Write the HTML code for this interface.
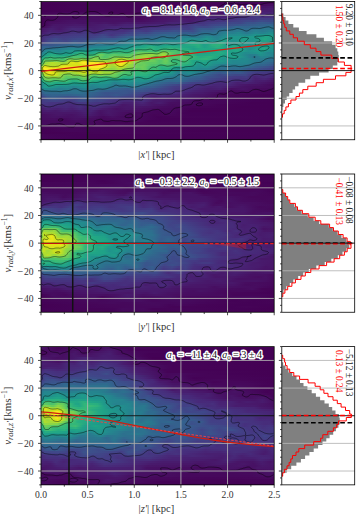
<!DOCTYPE html><html><head><meta charset="utf-8"><style>
html,body{margin:0;padding:0;background:#fff;width:357px;height:515px;overflow:hidden}
.hm{position:absolute;overflow:hidden;filter:blur(0.5px)}
.hm i{position:absolute;left:0;width:100%;height:2px;display:block}
svg{position:absolute;left:0;top:0}
text{font-family:"Liberation Serif",serif;fill:#222}
.tl{font-size:9.6px;fill:#333}
.lab{fill:#333}
.s{font-size:7px}
.ann{font-size:10.5px;fill:#111;stroke:#fff;stroke-width:3px;paint-order:stroke;stroke-linejoin:round}
</style></head><body>
<div class="hm" style="left:41.00px;top:1.50px;width:233.20px;height:138.25px">
<i style="top:0px;background:linear-gradient(90deg,#440154 0.5px,#440256 14.5px,#450457 44.5px,#440256 134.5px,#450457 179.5px,#460a5d 191.5px,#440256 206.5px,#46075a 233.5px)"></i>
<i style="top:2px;background:linear-gradient(90deg,#440154 0.5px,#450457 51.5px,#440256 132.5px,#450457 159.5px,#450457 170.5px,#450559 178.5px,#46085c 215.5px,#460b5e 222.5px,#470e61 229.5px,#471063 233.5px)"></i>
<i style="top:4px;background:linear-gradient(90deg,#440154 0.5px,#450559 52.5px,#440256 125.5px,#450457 153.5px,#470d60 208.5px,#481668 228.5px,#481769 233.5px)"></i>
<i style="top:6px;background:linear-gradient(90deg,#440154 0.5px,#450559 62.5px,#450457 72.5px,#440256 122.5px,#460a5d 180.5px,#470e61 196.5px,#471063 208.5px,#481b6d 228.5px,#481c6e 233.5px)"></i>
<i style="top:8px;background:linear-gradient(90deg,#440154 0.5px,#450559 62.5px,#46075a 131.5px,#46085c 152.5px,#46085c 168.5px,#470d60 175.5px,#471365 196.5px,#481467 210.5px,#481f70 220.5px,#481c6e 228.5px,#482374 233.5px)"></i>
<i style="top:10px;background:linear-gradient(90deg,#440256 0.5px,#450559 15.5px,#46085c 37.5px,#460a5d 49.5px,#46075a 67.5px,#450457 85.5px,#470d60 150.5px,#46085c 157.5px,#481467 174.5px,#471164 182.5px,#481668 193.5px,#482475 218.5px,#482173 226.5px,#482677 233.5px)"></i>
<i style="top:12px;background:linear-gradient(90deg,#450457 0.5px,#46075a 15.5px,#46085c 38.5px,#470d60 55.5px,#46075a 64.5px,#46085c 83.5px,#440256 88.5px,#460b5e 100.5px,#470e61 123.5px,#471063 146.5px,#481467 160.5px,#481a6c 173.5px,#481769 182.5px,#481b6d 192.5px,#482576 207.5px,#472d7b 216.5px,#482979 223.5px,#472f7d 231.5px,#472e7c 233.5px)"></i>
<i style="top:14px;background:linear-gradient(90deg,#450559 0.5px,#46075a 16.5px,#46085c 38.5px,#470d60 51.5px,#460a5d 70.5px,#460b5e 83.5px,#46075a 90.5px,#470d60 112.5px,#471365 120.5px,#481467 135.5px,#471164 146.5px,#482071 166.5px,#482173 185.5px,#46307e 208.5px,#443a83 215.5px,#472f7d 222.5px,#46327e 233.5px)"></i>
<i style="top:16px;background:linear-gradient(90deg,#440154 0.5px,#450559 8.5px,#460a5d 17.5px,#460b5e 32.5px,#470d60 39.5px,#470e61 50.5px,#471063 69.5px,#471063 79.5px,#46085c 98.5px,#470d60 106.5px,#471063 113.5px,#481467 126.5px,#481769 133.5px,#481b6d 140.5px,#481769 152.5px,#472a7a 167.5px,#472a7a 175.5px,#472a7a 185.5px,#443983 201.5px,#453781 212.5px,#433d84 218.5px,#433e85 233.5px)"></i>
<i style="top:18px;background:linear-gradient(90deg,#440154 0.5px,#460a5d 9.5px,#471164 28.5px,#471164 44.5px,#471164 51.5px,#471164 70.5px,#471063 94.5px,#470e61 100.5px,#481668 117.5px,#48186a 124.5px,#482071 139.5px,#481a6c 149.5px,#46307e 167.5px,#453781 185.5px,#414487 202.5px,#3f4788 207.5px,#414487 212.5px,#3e4c8a 220.5px,#3e4989 228.5px,#3d4e8a 233.5px)"></i>
<i style="top:20px;background:linear-gradient(90deg,#440154 0.5px,#470e61 8.5px,#481467 33.5px,#471164 42.5px,#481769 50.5px,#481467 57.5px,#481769 63.5px,#471365 72.5px,#481a6c 86.5px,#481668 101.5px,#481b6d 117.5px,#481b6d 122.5px,#482374 128.5px,#482576 140.5px,#482374 149.5px,#453581 161.5px,#3f4788 191.5px,#404688 199.5px,#3a538b 206.5px,#3b528b 212.5px,#375a8c 220.5px,#39558c 229.5px,#375b8d 233.5px)"></i>
<i style="top:22px;background:linear-gradient(90deg,#440256 0.5px,#481668 12.5px,#481769 26.5px,#481a6c 35.5px,#481769 49.5px,#482071 65.5px,#481a6c 74.5px,#482374 83.5px,#482475 107.5px,#482878 121.5px,#472c7a 130.5px,#46337f 144.5px,#424186 154.5px,#443983 162.5px,#404588 170.5px,#3d4d8a 187.5px,#38588c 203.5px,#33628d 222.5px,#31678e 229.5px,#34618d 233.5px)"></i>
<i style="top:24px;background:linear-gradient(90deg,#46075a 0.5px,#481a6c 11.5px,#481769 20.5px,#482071 30.5px,#481f70 42.5px,#481a6c 49.5px,#481f70 61.5px,#482374 68.5px,#482677 77.5px,#482677 85.5px,#482979 100.5px,#443a83 137.5px,#443a83 146.5px,#3e4989 155.5px,#3f4889 166.5px,#39558c 175.5px,#375b8d 189.5px,#30698e 195.5px,#33638d 205.5px,#31678e 212.5px,#30698e 220.5px,#2d718e 228.5px,#2f6b8e 233.5px)"></i>
<i style="top:26px;background:linear-gradient(90deg,#481467 0.5px,#481f70 10.5px,#481769 18.5px,#482878 31.5px,#482576 41.5px,#481c6e 53.5px,#482979 69.5px,#46307e 93.5px,#443983 112.5px,#433d84 126.5px,#414287 136.5px,#433d84 148.5px,#38598c 158.5px,#375a8c 163.5px,#38598c 169.5px,#33638d 176.5px,#2f6b8e 190.5px,#2c718e 198.5px,#30698e 204.5px,#2b758e 215.5px,#2a778e 222.5px,#2a778e 228.5px,#2c728e 233.5px)"></i>
<i style="top:28px;background:linear-gradient(90deg,#481769 0.5px,#482374 9.5px,#481d6f 19.5px,#472c7a 32.5px,#482677 39.5px,#46307e 45.5px,#482071 53.5px,#46307e 66.5px,#46307e 83.5px,#424086 96.5px,#443983 105.5px,#3f4889 114.5px,#3e4c8a 128.5px,#3b518b 133.5px,#3d4d8a 140.5px,#3d4e8a 146.5px,#3e4c8a 151.5px,#32658e 161.5px,#32648e 170.5px,#2b748e 182.5px,#29798e 194.5px,#287c8e 199.5px,#2d718e 205.5px,#27808e 214.5px,#297a8e 221.5px,#26828e 228.5px,#26818e 233.5px)"></i>
<i style="top:30px;background:linear-gradient(90deg,#481b6d 0.5px,#482878 8.5px,#482677 20.5px,#46337f 33.5px,#46327e 40.5px,#443a83 45.5px,#482979 53.5px,#443a83 64.5px,#453581 73.5px,#453882 82.5px,#414287 89.5px,#3e4a89 98.5px,#404688 105.5px,#3a548c 113.5px,#365d8d 130.5px,#365c8d 135.5px,#38598c 140.5px,#355e8d 145.5px,#38588c 152.5px,#2e6d8e 161.5px,#2e6e8e 172.5px,#26818e 184.5px,#277e8e 191.5px,#23888e 197.5px,#29798e 205.5px,#24878e 214.5px,#26818e 221.5px,#228d8d 230.5px,#228b8d 233.5px)"></i>
<i style="top:32px;background:linear-gradient(90deg,#482576 0.5px,#472c7a 5.5px,#46337f 16.5px,#453882 28.5px,#433e85 46.5px,#443a83 54.5px,#404688 61.5px,#423f85 66.5px,#463480 70.5px,#3d4e8a 86.5px,#3e4a89 92.5px,#39568c 99.5px,#38598c 109.5px,#31688e 123.5px,#32648e 132.5px,#2e6f8e 145.5px,#31688e 152.5px,#287c8e 165.5px,#2b748e 174.5px,#23898e 184.5px,#228d8d 199.5px,#24868e 205.5px,#1f948c 215.5px,#1f948c 223.5px,#1f968b 230.5px,#1f958b 233.5px)"></i>
<i style="top:34px;background:linear-gradient(90deg,#472c7a 0.5px,#463480 4.5px,#443983 10.5px,#433e85 15.5px,#443b84 21.5px,#414287 41.5px,#433e85 48.5px,#3d4e8a 63.5px,#424186 71.5px,#3b518b 79.5px,#355e8d 88.5px,#34618d 104.5px,#31678e 115.5px,#2c718e 122.5px,#2e6d8e 132.5px,#26828e 142.5px,#297a8e 155.5px,#26828e 161.5px,#228d8d 166.5px,#277f8e 175.5px,#20928c 186.5px,#1f968b 192.5px,#1f968b 200.5px,#1f9a8a 212.5px,#21a585 225.5px,#1f998a 233.5px)"></i>
<i style="top:36px;background:linear-gradient(90deg,#472d7b 0.5px,#443b84 5.5px,#3e4989 14.5px,#423f85 22.5px,#3e4989 36.5px,#3f4889 48.5px,#38588c 62.5px,#38598c 73.5px,#33628d 80.5px,#306a8e 86.5px,#2d708e 92.5px,#2d708e 109.5px,#29798e 123.5px,#2a778e 135.5px,#228b8d 142.5px,#21908d 151.5px,#23898e 158.5px,#1f978b 165.5px,#238a8d 171.5px,#25838e 176.5px,#1e9d89 185.5px,#1f958b 196.5px,#1fa188 203.5px,#1f968b 211.5px,#1e9d89 218.5px,#23a983 223.5px,#1f968b 233.5px)"></i>
<i style="top:38px;background:linear-gradient(90deg,#472e7c 0.5px,#404588 7.5px,#3d4d8a 14.5px,#414487 25.5px,#3a538b 33.5px,#3e4c8a 40.5px,#365d8d 50.5px,#34618d 63.5px,#30698e 75.5px,#2b758e 87.5px,#25858e 101.5px,#2c738e 109.5px,#277f8e 116.5px,#24878e 126.5px,#238a8d 140.5px,#1f9e89 151.5px,#1f978b 160.5px,#1f998a 166.5px,#228d8d 172.5px,#20a486 183.5px,#218e8d 190.5px,#20928c 195.5px,#1f9f88 201.5px,#20938c 208.5px,#1f968b 216.5px,#20a386 223.5px,#1f998a 233.5px)"></i>
<i style="top:40px;background:linear-gradient(90deg,#453781 0.5px,#3f4889 5.5px,#3b518b 12.5px,#3b518b 26.5px,#34608d 32.5px,#39568c 39.5px,#2f6c8e 49.5px,#2e6e8e 61.5px,#2f6b8e 72.5px,#287c8e 83.5px,#20928c 100.5px,#23888e 107.5px,#26828e 113.5px,#1f948c 124.5px,#20928c 136.5px,#1f998a 143.5px,#25ab82 151.5px,#21a685 158.5px,#1fa088 164.5px,#20a486 174.5px,#28ae80 180.5px,#20a386 184.5px,#20928c 188.5px,#1f948c 195.5px,#1e9c89 202.5px,#218f8d 209.5px,#1fa088 216.5px,#1f998a 233.5px)"></i>
<i style="top:42px;background:linear-gradient(90deg,#3d4e8a 0.5px,#39558c 4.5px,#39568c 10.5px,#306a8e 34.5px,#31688e 40.5px,#2c738e 49.5px,#29798e 63.5px,#287c8e 73.5px,#1f998a 98.5px,#20a386 107.5px,#1f9a8a 117.5px,#1fa187 126.5px,#1e9d89 133.5px,#27ad81 153.5px,#2ab07f 157.5px,#1fa088 162.5px,#20a386 166.5px,#2cb17e 171.5px,#2eb37c 178.5px,#1fa088 184.5px,#1f9a8a 188.5px,#1fa187 193.5px,#1e9b8a 200.5px,#218f8d 209.5px,#1e9d89 215.5px,#1f978b 223.5px,#20928c 233.5px)"></i>
<i style="top:44px;background:linear-gradient(90deg,#375b8d 0.5px,#32648e 3.5px,#34608d 8.5px,#2b758e 29.5px,#2d718e 38.5px,#26828e 52.5px,#218f8d 71.5px,#20938c 78.5px,#20928c 85.5px,#1fa287 96.5px,#21a685 102.5px,#2cb17e 110.5px,#21a585 119.5px,#26ad81 128.5px,#21a585 147.5px,#21a585 152.5px,#28ae80 157.5px,#1fa088 163.5px,#2db27d 176.5px,#1f9f88 186.5px,#25ac82 193.5px,#1f998a 201.5px,#228d8d 209.5px,#1f998a 217.5px,#1fa287 225.5px,#20928c 233.5px)"></i>
<i style="top:46px;background:linear-gradient(90deg,#375b8d 0.5px,#2c718e 4.5px,#23888e 32.5px,#25848e 42.5px,#20928c 52.5px,#21918c 65.5px,#1fa088 78.5px,#1f998a 84.5px,#28ae80 93.5px,#2eb37c 104.5px,#35b779 109.5px,#25ac82 115.5px,#2eb37c 120.5px,#35b779 125.5px,#32b67a 131.5px,#31b57b 135.5px,#28ae80 141.5px,#24aa83 147.5px,#1f9f88 152.5px,#22a884 158.5px,#21a585 172.5px,#24aa83 178.5px,#1e9d89 187.5px,#25ab82 195.5px,#1f9a8a 202.5px,#228b8d 209.5px,#1fa287 219.5px,#23a983 223.5px,#20938c 229.5px,#20928c 233.5px)"></i>
<i style="top:48px;background:linear-gradient(90deg,#32658e 0.5px,#25858e 4.5px,#218f8d 8.5px,#25838e 17.5px,#20928c 25.5px,#1f968b 32.5px,#1e9b8a 40.5px,#1f998a 49.5px,#21a685 67.5px,#2fb47c 78.5px,#28ae80 86.5px,#4cc26c 98.5px,#42be71 106.5px,#44bf70 110.5px,#37b878 114.5px,#42be71 117.5px,#63cb5f 121.5px,#65cb5e 123.5px,#4cc26c 129.5px,#48c16e 135.5px,#38b977 142.5px,#35b779 147.5px,#25ab82 152.5px,#1f9e89 163.5px,#21a685 174.5px,#24aa83 178.5px,#1f9f88 186.5px,#22a785 196.5px,#21918c 207.5px,#1e9c89 221.5px,#228b8d 229.5px,#218f8d 233.5px)"></i>
<i style="top:50px;background:linear-gradient(90deg,#2b758e 0.5px,#1f948c 4.5px,#1fa088 8.5px,#228d8d 18.5px,#1f998a 25.5px,#1f988b 30.5px,#23a983 35.5px,#2fb47c 40.5px,#20a486 48.5px,#23a983 53.5px,#3aba76 57.5px,#48c16e 60.5px,#35b779 67.5px,#42be71 73.5px,#3aba76 86.5px,#44bf70 90.5px,#63cb5f 96.5px,#69cd5b 101.5px,#67cc5c 111.5px,#63cb5f 115.5px,#8bd646 121.5px,#8ed645 123.5px,#75d054 127.5px,#5cc863 130.5px,#46c06f 136.5px,#3aba76 145.5px,#37b878 149.5px,#20a386 157.5px,#20a386 164.5px,#22a785 174.5px,#25ac82 179.5px,#1e9d89 191.5px,#1f998a 197.5px,#228b8d 204.5px,#21918c 214.5px,#1f978b 219.5px,#25848e 227.5px,#23888e 233.5px)"></i>
<i style="top:52px;background:linear-gradient(90deg,#26828e 0.5px,#1e9d89 4.5px,#27ad81 10.5px,#1fa187 25.5px,#25ac82 30.5px,#3aba76 37.5px,#35b779 44.5px,#37b878 52.5px,#42be71 54.5px,#63cb5f 57.5px,#6ccd5a 59.5px,#65cb5e 61.5px,#50c46a 64.5px,#52c569 68.5px,#5ec962 73.5px,#50c46a 78.5px,#56c667 85.5px,#58c765 88.5px,#77d153 95.5px,#95d840 108.5px,#95d840 111.5px,#84d44b 116.5px,#93d741 119.5px,#a0da39 121.5px,#9dd93b 123.5px,#5cc863 129.5px,#3fbc73 135.5px,#37b878 149.5px,#21a685 156.5px,#25ab82 172.5px,#23a983 178.5px,#1fa188 184.5px,#1f998a 196.5px,#277e8e 209.5px,#277f8e 214.5px,#21918c 219.5px,#25838e 231.5px,#26828e 233.5px)"></i>
<i style="top:54px;background:linear-gradient(90deg,#1f968b 0.5px,#21a685 2.5px,#29af7f 4.5px,#32b67a 10.5px,#2cb17e 16.5px,#2eb37c 24.5px,#4ec36b 32.5px,#4cc26c 37.5px,#46c06f 43.5px,#4cc26c 47.5px,#58c765 50.5px,#75d054 54.5px,#75d054 57.5px,#4ec36b 63.5px,#54c568 66.5px,#6ece58 71.5px,#75d054 75.5px,#6ccd5a 83.5px,#67cc5c 87.5px,#75d054 90.5px,#8ed645 94.5px,#95d840 99.5px,#a2da37 102.5px,#a0da39 105.5px,#7cd250 112.5px,#77d153 116.5px,#8bd646 121.5px,#84d44b 123.5px,#5cc863 127.5px,#50c46a 130.5px,#50c46a 136.5px,#5ac864 141.5px,#2eb37c 155.5px,#25ac82 159.5px,#2eb37c 168.5px,#21a685 176.5px,#1f998a 181.5px,#20a486 193.5px,#23898e 205.5px,#2b758e 212.5px,#297a8e 216.5px,#24868e 220.5px,#297b8e 233.5px)"></i>
<i style="top:56px;background:linear-gradient(90deg,#20a386 0.5px,#32b67a 2.5px,#42be71 3.5px,#3fbc73 10.5px,#46c06f 17.5px,#40bd72 21.5px,#48c16e 23.5px,#75d054 28.5px,#75d054 30.5px,#69cd5b 35.5px,#86d549 41.5px,#7cd250 45.5px,#77d153 47.5px,#7fd34e 50.5px,#8bd646 53.5px,#86d549 55.5px,#6ccd5a 59.5px,#65cb5e 62.5px,#6ece58 66.5px,#95d840 74.5px,#bddf26 79.5px,#b5de2b 82.5px,#9bd93c 87.5px,#8bd646 97.5px,#9bd93c 101.5px,#a0da39 103.5px,#9bd93c 105.5px,#70cf57 110.5px,#63cb5f 114.5px,#63cb5f 121.5px,#69cd5b 124.5px,#5cc863 127.5px,#48c16e 130.5px,#44bf70 134.5px,#4ec36b 138.5px,#5cc863 141.5px,#56c667 144.5px,#32b67a 150.5px,#2cb17e 156.5px,#31b57b 165.5px,#20a386 174.5px,#20938c 181.5px,#1f978b 194.5px,#228b8d 200.5px,#238a8d 206.5px,#29798e 214.5px,#287c8e 222.5px,#2e6e8e 228.5px,#2c738e 233.5px)"></i>
<i style="top:58px;background:linear-gradient(90deg,#26ad81 0.5px,#35b779 1.5px,#67cc5c 3.5px,#70cf57 4.5px,#77d153 11.5px,#7fd34e 14.5px,#77d153 17.5px,#69cd5b 20.5px,#69cd5b 22.5px,#75d054 24.5px,#b0dd2f 28.5px,#bade28 29.5px,#bddf26 31.5px,#addc30 34.5px,#b5de2b 37.5px,#dde318 41.5px,#e2e418 43.5px,#d8e219 45.5px,#bade28 49.5px,#a2da37 58.5px,#a2da37 63.5px,#93d741 67.5px,#a8db34 71.5px,#d5e21a 76.5px,#e5e419 78.5px,#ece51b 80.5px,#e7e419 82.5px,#c5e021 87.5px,#addc30 91.5px,#90d743 95.5px,#77d153 101.5px,#67cc5c 113.5px,#50c46a 118.5px,#54c568 120.5px,#67cc5c 123.5px,#67cc5c 125.5px,#63cb5f 126.5px,#3aba76 130.5px,#32b67a 133.5px,#3fbc73 139.5px,#46c06f 143.5px,#38b977 146.5px,#24aa83 150.5px,#1fa287 155.5px,#25ab82 162.5px,#1f978b 172.5px,#1f9a8a 180.5px,#23888e 191.5px,#23898e 203.5px,#26828e 210.5px,#2c718e 223.5px,#31688e 233.5px)"></i>
<i style="top:60px;background:linear-gradient(90deg,#34b679 0.5px,#65cb5e 2.5px,#84d44b 3.5px,#98d83e 5.5px,#b2dd2d 9.5px,#b8de29 11.5px,#9bd93c 22.5px,#a2da37 25.5px,#d5e21a 29.5px,#dfe318 31.5px,#d8e219 35.5px,#dde318 37.5px,#f4e61e 40.5px,#fde725 42.5px,#fde725 47.5px,#f8e621 49.5px,#fde725 59.5px,#f8e621 61.5px,#e2e418 63.5px,#c0df25 65.5px,#addc30 66.5px,#9bd93c 68.5px,#a0da39 70.5px,#c2df23 73.5px,#dde318 75.5px,#f1e51d 77.5px,#fbe723 79.5px,#fde725 80.5px,#f4e61e 82.5px,#dfe318 84.5px,#bade28 88.5px,#a2da37 91.5px,#7fd34e 95.5px,#70cf57 98.5px,#5cc863 108.5px,#5cc863 114.5px,#50c46a 118.5px,#65cb5e 124.5px,#54c568 128.5px,#44bf70 131.5px,#35b779 140.5px,#32b67a 146.5px,#21a585 152.5px,#1f998a 157.5px,#1fa187 164.5px,#1f958b 171.5px,#21908d 183.5px,#24878e 192.5px,#24868e 206.5px,#2c738e 216.5px,#355f8d 233.5px)"></i>
<i style="top:62px;background:linear-gradient(90deg,#56c667 0.5px,#aadc32 3.5px,#b0dd2f 4.5px,#b0dd2f 8.5px,#b5de2b 11.5px,#b0dd2f 16.5px,#d0e11c 21.5px,#d5e21a 25.5px,#d8e219 38.5px,#f1e51d 43.5px,#fde725 45.5px,#fde725 62.5px,#f8e621 63.5px,#e7e419 64.5px,#d5e21a 65.5px,#b8de29 67.5px,#a8db34 70.5px,#addc30 72.5px,#d8e219 76.5px,#ece51b 78.5px,#f1e51d 79.5px,#eae51a 81.5px,#d0e11c 83.5px,#b0dd2f 85.5px,#98d83e 88.5px,#8ed645 91.5px,#6ccd5a 95.5px,#65cb5e 98.5px,#6ccd5a 103.5px,#50c46a 110.5px,#4cc26c 115.5px,#3fbc73 119.5px,#4cc26c 126.5px,#3fbc73 132.5px,#28ae80 146.5px,#22a785 151.5px,#20928c 156.5px,#20928c 159.5px,#1f9f88 163.5px,#287d8e 181.5px,#277e8e 196.5px,#26818e 201.5px,#2d718e 210.5px,#32658e 215.5px,#32658e 222.5px,#3a548c 233.5px)"></i>
<i style="top:64px;background:linear-gradient(90deg,#93d741 0.5px,#d2e21b 2.5px,#efe51c 3.5px,#e5e419 5.5px,#d0e11c 8.5px,#cae11f 12.5px,#d8e219 17.5px,#efe51c 23.5px,#efe51c 26.5px,#e5e419 31.5px,#ece51b 34.5px,#e7e419 36.5px,#d2e21b 39.5px,#cde11d 41.5px,#d8e219 44.5px,#f1e51d 47.5px,#fde725 48.5px,#fde725 60.5px,#f8e621 61.5px,#eae51a 62.5px,#d2e21b 64.5px,#a2da37 70.5px,#9dd93b 73.5px,#c5e021 78.5px,#c5e021 80.5px,#addc30 83.5px,#93d741 86.5px,#8ed645 91.5px,#6ece58 95.5px,#69cd5b 97.5px,#6ece58 101.5px,#63cb5f 104.5px,#40bd72 110.5px,#3aba76 116.5px,#2ab07f 120.5px,#34b679 127.5px,#21a685 133.5px,#1fa188 142.5px,#21908d 155.5px,#228d8d 159.5px,#20928c 165.5px,#29798e 176.5px,#2d718e 181.5px,#2c728e 189.5px,#2d708e 201.5px,#38598c 218.5px,#3c508b 227.5px,#414487 233.5px)"></i>
<i style="top:66px;background:linear-gradient(90deg,#a8db34 0.5px,#cae11f 1.5px,#eae51a 2.5px,#fde725 3.5px,#f6e620 8.5px,#f1e51d 12.5px,#fde725 17.5px,#f4e61e 21.5px,#e7e419 26.5px,#eae51a 29.5px,#fde725 33.5px,#fde725 36.5px,#e5e419 40.5px,#d5e21a 46.5px,#dae319 48.5px,#ece51b 51.5px,#ece51b 54.5px,#e2e418 57.5px,#cae11f 60.5px,#a2da37 65.5px,#8bd646 70.5px,#93d741 73.5px,#a8db34 77.5px,#93d741 81.5px,#7fd34e 84.5px,#65cb5e 92.5px,#5ac864 95.5px,#5ec962 98.5px,#6ccd5a 101.5px,#65cb5e 104.5px,#40bd72 108.5px,#38b977 111.5px,#3fbc73 115.5px,#26ad81 121.5px,#28ae80 126.5px,#1e9d89 131.5px,#1f948c 135.5px,#1f948c 150.5px,#25858e 160.5px,#25858e 166.5px,#2f6c8e 179.5px,#2c718e 185.5px,#30698e 192.5px,#2e6d8e 197.5px,#38598c 207.5px,#414287 231.5px,#423f85 233.5px)"></i>
<i style="top:68px;background:linear-gradient(90deg,#77d153 0.5px,#bddf26 2.5px,#e2e418 3.5px,#ece51b 4.5px,#f6e620 8.5px,#e7e419 12.5px,#dfe318 15.5px,#dfe318 22.5px,#cae11f 27.5px,#d0e11c 31.5px,#dde318 36.5px,#e5e419 42.5px,#c8e020 48.5px,#dfe318 54.5px,#dae319 56.5px,#b2dd2d 60.5px,#98d83e 63.5px,#93d741 65.5px,#93d741 71.5px,#8ed645 77.5px,#58c765 84.5px,#40bd72 91.5px,#37b878 97.5px,#4ac16d 103.5px,#44bf70 105.5px,#2fb47c 109.5px,#31b57b 112.5px,#38b977 115.5px,#22a785 122.5px,#1fa088 129.5px,#228c8d 136.5px,#20928c 150.5px,#32658e 179.5px,#31688e 185.5px,#355e8d 190.5px,#31668e 197.5px,#3e4c8a 210.5px,#404688 220.5px,#424086 228.5px,#433e85 233.5px)"></i>
<i style="top:70px;background:linear-gradient(90deg,#5cc863 0.5px,#7ad151 1.5px,#c8e020 3.5px,#d8e219 4.5px,#ece51b 7.5px,#ece51b 9.5px,#dde318 12.5px,#b5de2b 18.5px,#a0da39 25.5px,#95d840 29.5px,#addc30 36.5px,#c8e020 42.5px,#c8e020 44.5px,#addc30 49.5px,#addc30 53.5px,#b2dd2d 56.5px,#a5db36 60.5px,#9bd93c 62.5px,#9dd93b 66.5px,#9dd93b 69.5px,#75d054 74.5px,#5ec962 79.5px,#4cc26c 83.5px,#48c16e 88.5px,#2fb47c 94.5px,#32b67a 102.5px,#2db27d 108.5px,#22a785 118.5px,#1e9c89 124.5px,#1f968b 130.5px,#26818e 136.5px,#26828e 141.5px,#228b8d 148.5px,#2d708e 164.5px,#355e8d 171.5px,#39568c 178.5px,#355e8d 185.5px,#39558c 191.5px,#39568c 199.5px,#433d84 213.5px,#46337f 233.5px)"></i>
<i style="top:72px;background:linear-gradient(90deg,#50c46a 0.5px,#86d549 2.5px,#a8db34 3.5px,#b5de2b 4.5px,#d5e21a 10.5px,#cae11f 14.5px,#b2dd2d 17.5px,#77d153 23.5px,#70cf57 26.5px,#7fd34e 30.5px,#89d548 34.5px,#95d840 39.5px,#a2da37 42.5px,#9bd93c 45.5px,#65cb5e 51.5px,#60ca60 54.5px,#7ad151 59.5px,#70cf57 65.5px,#70cf57 71.5px,#63cb5f 75.5px,#40bd72 81.5px,#3bbb75 84.5px,#42be71 89.5px,#2eb37c 94.5px,#2ab07f 105.5px,#1e9d89 115.5px,#21918c 124.5px,#23898e 131.5px,#2b758e 137.5px,#2a768e 141.5px,#26818e 147.5px,#306a8e 158.5px,#3e4989 178.5px,#3c4f8a 186.5px,#3f4788 194.5px,#3f4788 204.5px,#472d7b 213.5px,#472e7c 226.5px,#482878 233.5px)"></i>
<i style="top:74px;background:linear-gradient(90deg,#37b878 0.5px,#65cb5e 2.5px,#84d44b 3.5px,#8ed645 4.5px,#98d83e 8.5px,#9dd93b 16.5px,#90d743 19.5px,#69cd5b 23.5px,#5ec962 25.5px,#60ca60 28.5px,#67cc5c 31.5px,#5ec962 37.5px,#6ccd5a 40.5px,#77d153 42.5px,#75d054 44.5px,#4ec36b 49.5px,#40bd72 52.5px,#48c16e 57.5px,#4ac16d 60.5px,#42be71 65.5px,#50c46a 69.5px,#60ca60 72.5px,#60ca60 74.5px,#31b57b 80.5px,#28ae80 84.5px,#2ab07f 90.5px,#1fa287 96.5px,#25ab82 105.5px,#1f978b 114.5px,#27808e 126.5px,#2d708e 143.5px,#30698e 149.5px,#33628d 154.5px,#34618d 159.5px,#3b528b 165.5px,#3c4f8a 172.5px,#433e85 188.5px,#443983 199.5px,#433d84 205.5px,#482475 213.5px,#472d7b 224.5px,#482173 233.5px)"></i>
<i style="top:76px;background:linear-gradient(90deg,#27ad81 0.5px,#35b779 1.5px,#4ac16d 2.5px,#65cb5e 3.5px,#70cf57 4.5px,#77d153 7.5px,#73d056 9.5px,#65cb5e 12.5px,#6ccd5a 17.5px,#70cf57 19.5px,#65cb5e 22.5px,#4cc26c 26.5px,#42be71 32.5px,#44bf70 36.5px,#5ec962 42.5px,#5cc863 44.5px,#37b878 51.5px,#2fb47c 57.5px,#25ab82 69.5px,#27ad81 75.5px,#1fa187 82.5px,#20a386 90.5px,#20938c 97.5px,#1f9e89 105.5px,#2c738e 126.5px,#2e6d8e 140.5px,#355f8d 149.5px,#38598c 160.5px,#3e4989 169.5px,#453581 192.5px,#453581 206.5px,#482071 214.5px,#482677 223.5px,#48186a 233.5px)"></i>
<i style="top:78px;background:linear-gradient(90deg,#1fa088 0.5px,#23a983 1.5px,#3fbc73 3.5px,#52c569 6.5px,#54c568 8.5px,#38b977 14.5px,#3bbb75 17.5px,#46c06f 22.5px,#3dbc74 25.5px,#27ad81 31.5px,#2cb17e 36.5px,#3fbc73 41.5px,#25ac82 53.5px,#1f988b 67.5px,#228d8d 73.5px,#1f958b 84.5px,#21918c 97.5px,#21918c 103.5px,#2c728e 119.5px,#31688e 129.5px,#306a8e 137.5px,#38588c 149.5px,#46337f 180.5px,#46307e 189.5px,#472a7a 197.5px,#472f7d 204.5px,#481d6f 214.5px,#481c6e 223.5px,#471365 233.5px)"></i>
<i style="top:80px;background:linear-gradient(90deg,#23888e 0.5px,#20a386 3.5px,#2db27d 8.5px,#22a884 16.5px,#29af7f 25.5px,#1fa088 33.5px,#20a486 43.5px,#1f988b 52.5px,#1f978b 58.5px,#20938c 67.5px,#27808e 73.5px,#228c8d 81.5px,#23898e 100.5px,#2e6d8e 114.5px,#375b8d 129.5px,#365c8d 136.5px,#414287 150.5px,#433e85 161.5px,#482979 177.5px,#472d7b 187.5px,#481f70 196.5px,#482374 204.5px,#471063 230.5px,#471063 233.5px)"></i>
<i style="top:82px;background:linear-gradient(90deg,#27808e 0.5px,#1f988b 3.5px,#21a585 9.5px,#1e9b8a 20.5px,#20928c 33.5px,#1f958b 45.5px,#23888e 51.5px,#218f8d 60.5px,#24878e 68.5px,#2a778e 74.5px,#26828e 88.5px,#25838e 94.5px,#2e6f8e 106.5px,#38598c 121.5px,#3e4c8a 130.5px,#443a83 145.5px,#472d7b 157.5px,#472f7d 163.5px,#482677 173.5px,#482677 187.5px,#481a6c 198.5px,#481467 208.5px,#471365 218.5px,#460a5d 231.5px,#460b5e 233.5px)"></i>
<i style="top:84px;background:linear-gradient(90deg,#25848e 0.5px,#1e9b8a 3.5px,#1e9b8a 8.5px,#238a8d 19.5px,#228d8d 26.5px,#26828e 32.5px,#20928c 43.5px,#26828e 50.5px,#23898e 59.5px,#23898e 63.5px,#2c718e 73.5px,#2d708e 86.5px,#2a788e 92.5px,#33628d 104.5px,#365d8d 112.5px,#433d84 132.5px,#453781 142.5px,#482173 168.5px,#482475 179.5px,#481769 195.5px,#471365 203.5px,#471063 211.5px,#470d60 228.5px,#46085c 233.5px)"></i>
<i style="top:86px;background:linear-gradient(90deg,#2a768e 0.5px,#23898e 3.5px,#23898e 10.5px,#277e8e 19.5px,#25848e 26.5px,#2b758e 33.5px,#287c8e 38.5px,#25858e 44.5px,#2a768e 58.5px,#2a778e 63.5px,#31678e 72.5px,#375b8d 86.5px,#32658e 93.5px,#39568c 106.5px,#423f85 128.5px,#453882 134.5px,#453581 140.5px,#481d6f 166.5px,#482071 179.5px,#470e61 190.5px,#481467 202.5px,#460a5d 216.5px,#460b5e 227.5px,#46075a 233.5px)"></i>
<i style="top:88px;background:linear-gradient(90deg,#32658e 0.5px,#2b758e 4.5px,#2a788e 20.5px,#2c728e 32.5px,#2b758e 47.5px,#2f6c8e 54.5px,#34608d 60.5px,#39558c 86.5px,#3b528b 101.5px,#3f4889 113.5px,#414287 127.5px,#46307e 134.5px,#472a7a 145.5px,#482173 154.5px,#48186a 171.5px,#481467 182.5px,#46085c 190.5px,#470d60 204.5px,#46075a 217.5px,#450559 230.5px,#450457 233.5px)"></i>
<i style="top:90px;background:linear-gradient(90deg,#365c8d 0.5px,#306a8e 4.5px,#306a8e 15.5px,#2e6f8e 21.5px,#2f6c8e 27.5px,#2d718e 37.5px,#34618d 54.5px,#3a538b 64.5px,#39568c 83.5px,#424186 105.5px,#453781 112.5px,#443b84 119.5px,#453882 128.5px,#482979 138.5px,#481d6f 152.5px,#481a6c 160.5px,#471365 170.5px,#460b5e 181.5px,#46085c 192.5px,#450457 233.5px)"></i>
<i style="top:92px;background:linear-gradient(90deg,#3c508b 0.5px,#34608d 4.5px,#32648e 11.5px,#33638d 18.5px,#34618d 27.5px,#32658e 33.5px,#31678e 44.5px,#3b528b 66.5px,#38588c 75.5px,#424086 98.5px,#482576 110.5px,#472a7a 121.5px,#482576 135.5px,#481c6e 147.5px,#481769 153.5px,#481467 163.5px,#46075a 180.5px,#440154 233.5px)"></i>
<i style="top:94px;background:linear-gradient(90deg,#414287 0.5px,#39568c 5.5px,#355e8d 11.5px,#3b518b 26.5px,#3a548c 35.5px,#34608d 44.5px,#3c4f8a 58.5px,#3e4a89 68.5px,#3d4d8a 75.5px,#414487 83.5px,#424086 92.5px,#482475 106.5px,#481c6e 113.5px,#482374 121.5px,#481d6f 135.5px,#48186a 148.5px,#481467 155.5px,#450559 183.5px,#440256 206.5px,#440154 233.5px)"></i>
<i style="top:96px;background:linear-gradient(90deg,#443b84 0.5px,#3a538b 8.5px,#3a548c 13.5px,#404588 24.5px,#424186 34.5px,#3a548c 42.5px,#3e4c8a 51.5px,#404588 57.5px,#424086 65.5px,#46337f 79.5px,#46337f 97.5px,#482475 109.5px,#481a6c 115.5px,#481a6c 123.5px,#481467 132.5px,#481769 141.5px,#481467 149.5px,#46075a 166.5px,#440154 210.5px,#440154 233.5px)"></i>
<i style="top:98px;background:linear-gradient(90deg,#443983 0.5px,#423f85 4.5px,#414287 14.5px,#443b84 23.5px,#453781 29.5px,#3f4889 38.5px,#404588 48.5px,#423f85 55.5px,#424086 60.5px,#463480 68.5px,#482878 83.5px,#482878 95.5px,#472d7b 102.5px,#481a6c 112.5px,#481a6c 120.5px,#471063 136.5px,#471063 146.5px,#46085c 155.5px,#440256 213.5px,#440154 233.5px)"></i>
<i style="top:100px;background:linear-gradient(90deg,#453882 0.5px,#443a83 4.5px,#463480 9.5px,#463480 21.5px,#472c7a 28.5px,#453781 36.5px,#443b84 48.5px,#453581 55.5px,#472e7c 75.5px,#481f70 82.5px,#481f70 93.5px,#482576 101.5px,#481769 110.5px,#481d6f 118.5px,#470e61 129.5px,#470d60 143.5px,#46085c 157.5px,#440154 211.5px,#440154 233.5px)"></i>
<i style="top:102px;background:linear-gradient(90deg,#472d7b 0.5px,#463480 5.5px,#482979 31.5px,#472e7c 41.5px,#472e7c 59.5px,#482576 74.5px,#481668 81.5px,#481b6d 90.5px,#481f70 102.5px,#481467 113.5px,#471365 121.5px,#460b5e 131.5px,#470d60 138.5px,#46085c 148.5px,#46075a 163.5px,#440256 180.5px,#440154 233.5px)"></i>
<i style="top:104px;background:linear-gradient(90deg,#482173 0.5px,#472e7c 5.5px,#472a7a 12.5px,#482878 19.5px,#472a7a 25.5px,#482576 30.5px,#472e7c 38.5px,#482576 45.5px,#472e7c 53.5px,#482374 64.5px,#481d6f 70.5px,#481668 78.5px,#48186a 85.5px,#48186a 94.5px,#471365 110.5px,#470d60 120.5px,#450559 152.5px,#440154 201.5px,#440154 233.5px)"></i>
<i style="top:106px;background:linear-gradient(90deg,#481b6d 0.5px,#482576 6.5px,#482071 16.5px,#482576 24.5px,#482071 31.5px,#482979 38.5px,#482173 45.5px,#482878 52.5px,#481c6e 61.5px,#481769 70.5px,#471164 75.5px,#481769 86.5px,#470e61 110.5px,#460a5d 120.5px,#46085c 133.5px,#440256 152.5px,#440154 233.5px)"></i>
<i style="top:108px;background:linear-gradient(90deg,#48186a 0.5px,#481d6f 6.5px,#48186a 14.5px,#481f70 22.5px,#481a6c 33.5px,#482173 41.5px,#482374 50.5px,#471365 59.5px,#48186a 67.5px,#471365 78.5px,#470e61 102.5px,#450559 115.5px,#460b5e 125.5px,#440154 149.5px,#440154 233.5px)"></i>
<i style="top:110px;background:linear-gradient(90deg,#481467 0.5px,#481769 15.5px,#481769 35.5px,#482173 47.5px,#471164 59.5px,#48186a 67.5px,#470d60 83.5px,#46085c 102.5px,#450559 118.5px,#46085c 129.5px,#440256 143.5px,#440154 233.5px)"></i>
<i style="top:112px;background:linear-gradient(90deg,#470e61 0.5px,#481668 17.5px,#471164 30.5px,#481d6f 47.5px,#471063 60.5px,#481668 69.5px,#46075a 90.5px,#460b5e 97.5px,#450457 113.5px,#46075a 127.5px,#440256 150.5px,#440154 233.5px)"></i>
<i style="top:114px;background:linear-gradient(90deg,#470e61 0.5px,#471365 12.5px,#471063 26.5px,#481769 45.5px,#471063 54.5px,#460a5d 62.5px,#471063 71.5px,#460b5e 80.5px,#46075a 89.5px,#46085c 101.5px,#440256 117.5px,#450457 134.5px,#440154 233.5px)"></i>
<i style="top:116px;background:linear-gradient(90deg,#470d60 0.5px,#470e61 13.5px,#46085c 20.5px,#471164 34.5px,#470d60 53.5px,#46085c 61.5px,#470d60 80.5px,#440256 119.5px,#440154 233.5px)"></i>
<i style="top:118px;background:linear-gradient(90deg,#460a5d 0.5px,#460a5d 14.5px,#46085c 24.5px,#470d60 35.5px,#460b5e 48.5px,#46075a 61.5px,#46085c 95.5px,#440256 107.5px,#440154 233.5px)"></i>
<i style="top:120px;background:linear-gradient(90deg,#460b5e 0.5px,#460a5d 22.5px,#460b5e 42.5px,#460a5d 52.5px,#450457 64.5px,#450457 98.5px,#440154 233.5px)"></i>
<i style="top:122px;background:linear-gradient(90deg,#460a5d 0.5px,#46085c 24.5px,#460a5d 32.5px,#46085c 41.5px,#46075a 55.5px,#440256 67.5px,#46075a 77.5px,#440154 108.5px,#440154 233.5px)"></i>
<i style="top:124px;background:linear-gradient(90deg,#450457 0.5px,#46075a 24.5px,#450457 72.5px,#440154 233.5px)"></i>
<i style="top:126px;background:linear-gradient(90deg,#440154 0.5px,#450559 32.5px,#440154 204.5px,#440154 233.5px)"></i>
<i style="top:128px;background:linear-gradient(90deg,#440154 0.5px,#450559 29.5px,#440154 163.5px,#440154 233.5px)"></i>
<i style="top:130px;background:linear-gradient(90deg,#440154 0.5px,#450457 54.5px,#440154 233.5px)"></i>
<i style="top:132px;background:linear-gradient(90deg,#450457 0.5px,#440256 36.5px,#440154 233.5px)"></i>
<i style="top:134px;background:linear-gradient(90deg,#450559 0.5px,#440256 41.5px,#440154 233.5px)"></i>
<i style="top:136px;background:linear-gradient(90deg,#450457 0.5px,#440256 23.5px,#440154 233.5px)"></i>
<i style="top:138px;background:linear-gradient(90deg,#440256 0.5px,#440154 233.5px)"></i>
</div>
<div class="hm" style="left:41.00px;top:174.00px;width:233.20px;height:138.25px">
<i style="top:0px;background:linear-gradient(90deg,#440154 0.5px,#450457 118.5px,#440256 138.5px,#440154 233.5px)"></i>
<i style="top:2px;background:linear-gradient(90deg,#440154 0.5px,#450457 69.5px,#46075a 130.5px,#450457 145.5px,#440256 233.5px)"></i>
<i style="top:4px;background:linear-gradient(90deg,#440154 0.5px,#450457 51.5px,#450559 68.5px,#46085c 97.5px,#450559 106.5px,#450559 154.5px,#440256 196.5px,#450457 233.5px)"></i>
<i style="top:6px;background:linear-gradient(90deg,#440154 0.5px,#450559 51.5px,#440256 61.5px,#460a5d 81.5px,#46085c 99.5px,#46085c 145.5px,#46075a 153.5px,#440256 161.5px,#450457 233.5px)"></i>
<i style="top:8px;background:linear-gradient(90deg,#450457 0.5px,#46075a 48.5px,#450559 56.5px,#450457 64.5px,#470e61 94.5px,#46075a 108.5px,#46085c 118.5px,#450559 154.5px,#450457 173.5px,#440256 233.5px)"></i>
<i style="top:10px;background:linear-gradient(90deg,#450457 0.5px,#46085c 69.5px,#460a5d 86.5px,#470d60 93.5px,#46075a 109.5px,#46085c 119.5px,#46085c 131.5px,#46075a 153.5px,#440256 191.5px,#450457 227.5px,#440154 233.5px)"></i>
<i style="top:12px;background:linear-gradient(90deg,#450559 0.5px,#46075a 35.5px,#460a5d 59.5px,#470d60 78.5px,#46085c 85.5px,#471063 91.5px,#460a5d 109.5px,#46085c 120.5px,#460a5d 130.5px,#470d60 137.5px,#460a5d 145.5px,#46085c 151.5px,#46085c 162.5px,#450457 203.5px,#440256 229.5px,#440154 233.5px)"></i>
<i style="top:14px;background:linear-gradient(90deg,#450559 0.5px,#460a5d 31.5px,#460a5d 54.5px,#470d60 63.5px,#471164 78.5px,#460a5d 86.5px,#470e61 109.5px,#460b5e 131.5px,#470d60 137.5px,#46075a 144.5px,#460a5d 151.5px,#450457 159.5px,#46085c 167.5px,#450559 176.5px,#450559 197.5px,#450457 207.5px,#450457 223.5px,#440256 233.5px)"></i>
<i style="top:16px;background:linear-gradient(90deg,#460a5d 0.5px,#460a5d 30.5px,#471063 48.5px,#471164 55.5px,#481467 60.5px,#470d60 79.5px,#460b5e 87.5px,#471164 98.5px,#471164 111.5px,#460a5d 131.5px,#460b5e 153.5px,#450559 160.5px,#46085c 177.5px,#46075a 195.5px,#46075a 207.5px,#46085c 218.5px,#440256 231.5px,#450457 233.5px)"></i>
<i style="top:18px;background:linear-gradient(90deg,#470e61 0.5px,#460b5e 17.5px,#460a5d 27.5px,#481769 52.5px,#481769 60.5px,#471365 68.5px,#470e61 78.5px,#470d60 84.5px,#481a6c 94.5px,#481668 105.5px,#481668 114.5px,#470d60 122.5px,#471365 149.5px,#46075a 162.5px,#460a5d 188.5px,#46085c 206.5px,#460a5d 212.5px,#450457 233.5px)"></i>
<i style="top:20px;background:linear-gradient(90deg,#471164 0.5px,#471063 16.5px,#460b5e 24.5px,#481467 39.5px,#481c6e 54.5px,#481a6c 61.5px,#471164 82.5px,#481f70 92.5px,#48186a 105.5px,#48186a 114.5px,#471063 122.5px,#471365 131.5px,#471365 155.5px,#460b5e 163.5px,#460a5d 174.5px,#46085c 199.5px,#460a5d 211.5px,#46075a 220.5px,#450559 233.5px)"></i>
<i style="top:22px;background:linear-gradient(90deg,#471164 0.5px,#481467 7.5px,#471365 16.5px,#460b5e 22.5px,#481769 43.5px,#481a6c 50.5px,#482173 58.5px,#482071 63.5px,#48186a 76.5px,#482374 91.5px,#481a6c 108.5px,#471365 117.5px,#471365 140.5px,#471365 164.5px,#460a5d 174.5px,#470e61 190.5px,#46075a 209.5px,#46075a 223.5px,#46075a 233.5px)"></i>
<i style="top:24px;background:linear-gradient(90deg,#471164 0.5px,#481769 6.5px,#481769 16.5px,#471164 21.5px,#481467 30.5px,#481b6d 38.5px,#481b6d 53.5px,#482071 61.5px,#481d6f 72.5px,#482576 80.5px,#482173 98.5px,#481a6c 115.5px,#481467 142.5px,#471365 165.5px,#460b5e 179.5px,#471063 189.5px,#460a5d 202.5px,#46075a 222.5px,#46085c 233.5px)"></i>
<i style="top:26px;background:linear-gradient(90deg,#481668 0.5px,#481d6f 15.5px,#482071 22.5px,#482677 34.5px,#482677 39.5px,#481f70 45.5px,#482173 56.5px,#482374 71.5px,#472a7a 79.5px,#482576 92.5px,#482071 97.5px,#482677 111.5px,#481d6f 123.5px,#481d6f 133.5px,#481467 149.5px,#481467 165.5px,#46085c 180.5px,#471164 189.5px,#460b5e 201.5px,#46075a 233.5px)"></i>
<i style="top:28px;background:linear-gradient(90deg,#481a6c 0.5px,#482173 6.5px,#482878 17.5px,#472e7c 30.5px,#463480 37.5px,#472c7a 45.5px,#472e7c 52.5px,#482979 63.5px,#46307e 78.5px,#472e7c 93.5px,#482576 102.5px,#472c7a 109.5px,#481c6e 123.5px,#482374 132.5px,#481c6e 142.5px,#481769 148.5px,#481b6d 163.5px,#460a5d 175.5px,#470d60 184.5px,#471063 192.5px,#470d60 213.5px,#46075a 233.5px)"></i>
<i style="top:30px;background:linear-gradient(90deg,#481f70 0.5px,#46307e 14.5px,#472e7c 23.5px,#433d84 35.5px,#46327e 44.5px,#463480 57.5px,#46327e 68.5px,#453781 79.5px,#453581 94.5px,#482878 101.5px,#472e7c 109.5px,#482071 123.5px,#482475 132.5px,#481f70 144.5px,#481c6e 152.5px,#481f70 162.5px,#470e61 172.5px,#471063 189.5px,#471365 201.5px,#470d60 211.5px,#460a5d 233.5px)"></i>
<i style="top:32px;background:linear-gradient(90deg,#472d7b 0.5px,#453781 4.5px,#463480 15.5px,#472f7d 20.5px,#423f85 29.5px,#46307e 40.5px,#443983 53.5px,#443983 61.5px,#46327e 69.5px,#453882 78.5px,#433e85 90.5px,#472a7a 102.5px,#46327e 110.5px,#482374 121.5px,#482576 130.5px,#482374 138.5px,#482576 143.5px,#481a6c 150.5px,#481f70 158.5px,#481467 171.5px,#48186a 178.5px,#470d60 186.5px,#481668 200.5px,#46085c 218.5px,#460a5d 226.5px,#46085c 233.5px)"></i>
<i style="top:34px;background:linear-gradient(90deg,#423f85 0.5px,#3f4889 3.5px,#443b84 19.5px,#404688 27.5px,#453581 40.5px,#424086 59.5px,#453882 68.5px,#453781 80.5px,#423f85 89.5px,#453581 100.5px,#443983 110.5px,#482576 119.5px,#472f7d 130.5px,#482677 138.5px,#482878 145.5px,#48186a 160.5px,#48186a 175.5px,#481668 182.5px,#481668 202.5px,#460b5e 216.5px,#460a5d 223.5px,#46075a 231.5px,#46085c 233.5px)"></i>
<i style="top:36px;background:linear-gradient(90deg,#3e4989 0.5px,#3a538b 3.5px,#414287 13.5px,#423f85 18.5px,#404688 23.5px,#433d84 33.5px,#404588 46.5px,#424086 72.5px,#443983 81.5px,#433e85 93.5px,#423f85 110.5px,#472f7d 118.5px,#472f7d 132.5px,#472a7a 140.5px,#482979 148.5px,#481a6c 164.5px,#481769 203.5px,#470e61 212.5px,#460b5e 231.5px,#460a5d 233.5px)"></i>
<i style="top:38px;background:linear-gradient(90deg,#3e4c8a 0.5px,#38588c 3.5px,#39558c 11.5px,#3e4989 17.5px,#3d4e8a 23.5px,#424086 29.5px,#3e4989 37.5px,#3b518b 43.5px,#3f4889 57.5px,#39558c 64.5px,#424186 82.5px,#3e4c8a 101.5px,#424086 108.5px,#453781 122.5px,#472d7b 140.5px,#472d7b 148.5px,#481f70 166.5px,#481f70 175.5px,#481668 190.5px,#481668 202.5px,#470e61 211.5px,#471164 227.5px,#471063 233.5px)"></i>
<i style="top:40px;background:linear-gradient(90deg,#375a8c 0.5px,#32658e 3.5px,#34608d 12.5px,#38598c 18.5px,#355e8d 24.5px,#3a538b 33.5px,#365c8d 44.5px,#3e4a89 57.5px,#365d8d 64.5px,#3e4a89 82.5px,#3e4c8a 99.5px,#424186 109.5px,#423f85 121.5px,#443983 132.5px,#46327e 140.5px,#472f7d 147.5px,#482071 165.5px,#482677 171.5px,#481668 188.5px,#481668 203.5px,#481668 212.5px,#471164 233.5px)"></i>
<i style="top:42px;background:linear-gradient(90deg,#31668e 0.5px,#2c728e 3.5px,#2f6b8e 19.5px,#2c738e 27.5px,#31678e 35.5px,#365c8d 54.5px,#375a8c 58.5px,#33628d 64.5px,#38588c 76.5px,#3a538b 81.5px,#3c508b 85.5px,#38588c 91.5px,#3e4c8a 102.5px,#404688 121.5px,#453581 136.5px,#482576 159.5px,#482576 166.5px,#482979 173.5px,#481f70 185.5px,#481769 207.5px,#481a6c 216.5px,#470d60 229.5px,#470e61 233.5px)"></i>
<i style="top:44px;background:linear-gradient(90deg,#2a768e 0.5px,#24868e 3.5px,#24878e 9.5px,#297b8e 16.5px,#27808e 29.5px,#2e6f8e 47.5px,#30698e 55.5px,#33638d 73.5px,#30698e 79.5px,#375a8c 86.5px,#34618d 92.5px,#3b528b 99.5px,#3e4c8a 118.5px,#433e85 130.5px,#46307e 144.5px,#46307e 150.5px,#482677 173.5px,#482677 183.5px,#481b6d 211.5px,#460b5e 227.5px,#460b5e 233.5px)"></i>
<i style="top:46px;background:linear-gradient(90deg,#23888e 0.5px,#1f9a8a 2.5px,#1e9d89 6.5px,#25848e 14.5px,#228c8d 28.5px,#26828e 38.5px,#26818e 44.5px,#30698e 58.5px,#30698e 66.5px,#30698e 82.5px,#33638d 87.5px,#306a8e 92.5px,#38598c 99.5px,#3c508b 116.5px,#453882 145.5px,#472a7a 165.5px,#482173 171.5px,#472c7a 180.5px,#481a6c 215.5px,#481467 223.5px,#471063 233.5px)"></i>
<i style="top:48px;background:linear-gradient(90deg,#218f8d 0.5px,#1fa187 2.5px,#22a785 5.5px,#1e9b8a 10.5px,#20928c 16.5px,#1f948c 22.5px,#1e9b8a 27.5px,#23898e 35.5px,#228c8d 42.5px,#2d708e 57.5px,#2e6f8e 73.5px,#32648e 85.5px,#2f6b8e 92.5px,#365c8d 100.5px,#375a8c 111.5px,#414287 131.5px,#424186 142.5px,#472c7a 166.5px,#482475 172.5px,#472c7a 190.5px,#482173 199.5px,#481b6d 216.5px,#481668 232.5px,#481467 233.5px)"></i>
<i style="top:50px;background:linear-gradient(90deg,#1f988b 0.5px,#25ac82 2.5px,#2ab07f 6.5px,#1fa088 27.5px,#25858e 44.5px,#26818e 50.5px,#2a768e 56.5px,#277e8e 68.5px,#32658e 80.5px,#32658e 84.5px,#2d708e 90.5px,#365c8d 100.5px,#32658e 110.5px,#3c508b 122.5px,#414487 128.5px,#404688 134.5px,#3f4889 139.5px,#482979 169.5px,#472c7a 184.5px,#472c7a 191.5px,#481d6f 202.5px,#482173 210.5px,#481b6d 222.5px,#481769 233.5px)"></i>
<i style="top:52px;background:linear-gradient(90deg,#1fa188 0.5px,#25ab82 1.5px,#34b679 2.5px,#3fbc73 4.5px,#42be71 14.5px,#32b67a 18.5px,#23a983 22.5px,#1fa188 30.5px,#1f9f88 35.5px,#218e8d 40.5px,#20928c 47.5px,#287d8e 55.5px,#238a8d 67.5px,#2e6e8e 81.5px,#2d708e 86.5px,#2c728e 90.5px,#33638d 98.5px,#2f6c8e 110.5px,#365c8d 119.5px,#3e4989 126.5px,#404588 132.5px,#3e4c8a 138.5px,#443a83 156.5px,#46337f 164.5px,#472d7b 171.5px,#472d7b 178.5px,#472c7a 192.5px,#481f70 200.5px,#482173 215.5px,#481668 222.5px,#48186a 231.5px,#481769 233.5px)"></i>
<i style="top:54px;background:linear-gradient(90deg,#3aba76 0.5px,#50c46a 1.5px,#6ccd5a 2.5px,#75d054 3.5px,#6ece58 10.5px,#6ece58 14.5px,#60ca60 16.5px,#38b977 20.5px,#2cb17e 23.5px,#27ad81 34.5px,#1f9e89 38.5px,#1fa088 42.5px,#1fa187 46.5px,#24868e 55.5px,#228b8d 64.5px,#26828e 75.5px,#277f8e 80.5px,#2a778e 84.5px,#29798e 90.5px,#2f6c8e 97.5px,#2e6e8e 104.5px,#34618d 116.5px,#3c4f8a 124.5px,#404688 133.5px,#3f4889 144.5px,#433e85 155.5px,#453882 164.5px,#46327e 171.5px,#472e7c 178.5px,#472a7a 189.5px,#482878 195.5px,#482071 203.5px,#482576 214.5px,#471164 222.5px,#481668 233.5px)"></i>
<i style="top:56px;background:linear-gradient(90deg,#5ec962 0.5px,#98d83e 2.5px,#9dd93b 3.5px,#93d741 7.5px,#9bd93c 12.5px,#90d743 14.5px,#4ec36b 20.5px,#44bf70 22.5px,#46c06f 28.5px,#2fb47c 35.5px,#21a685 39.5px,#23a983 46.5px,#20938c 54.5px,#228d8d 62.5px,#25838e 68.5px,#23888e 78.5px,#26828e 88.5px,#2e6f8e 97.5px,#2e6f8e 110.5px,#365d8d 118.5px,#3f4889 134.5px,#3e4a89 146.5px,#443b84 158.5px,#46337f 169.5px,#453581 176.5px,#482677 187.5px,#472e7c 195.5px,#482071 203.5px,#482475 214.5px,#481668 223.5px,#481769 232.5px,#481a6c 233.5px)"></i>
<i style="top:58px;background:linear-gradient(90deg,#73d056 0.5px,#b2dd2d 2.5px,#b8de29 3.5px,#a8db34 7.5px,#addc30 11.5px,#a5db36 13.5px,#7fd34e 17.5px,#6ccd5a 20.5px,#69cd5b 26.5px,#46c06f 35.5px,#28ae80 40.5px,#22a884 48.5px,#1f958b 54.5px,#1f968b 62.5px,#228d8d 69.5px,#20928c 74.5px,#24878e 80.5px,#228d8d 86.5px,#2c738e 101.5px,#2c718e 110.5px,#355f8d 117.5px,#3d4e8a 135.5px,#3c4f8a 146.5px,#453882 161.5px,#46327e 169.5px,#453781 176.5px,#472a7a 190.5px,#482979 196.5px,#482071 203.5px,#482374 210.5px,#481b6d 220.5px,#481d6f 231.5px,#481f70 233.5px)"></i>
<i style="top:60px;background:linear-gradient(90deg,#73d056 0.5px,#bade28 2.5px,#c2df23 3.5px,#cae11f 6.5px,#dfe318 10.5px,#d0e11c 12.5px,#9bd93c 16.5px,#86d549 20.5px,#90d743 25.5px,#8bd646 27.5px,#3fbc73 37.5px,#2fb47c 41.5px,#2db27d 47.5px,#1fa088 52.5px,#1e9d89 57.5px,#1f9e89 62.5px,#21918c 69.5px,#1f968b 75.5px,#228d8d 81.5px,#21918c 88.5px,#277e8e 99.5px,#2c738e 104.5px,#2c728e 111.5px,#375a8c 121.5px,#3b518b 134.5px,#3b528b 145.5px,#404588 155.5px,#453882 162.5px,#453781 171.5px,#46337f 185.5px,#482576 196.5px,#482979 208.5px,#481b6d 219.5px,#482071 232.5px,#482071 233.5px)"></i>
<i style="top:62px;background:linear-gradient(90deg,#73d056 0.5px,#b5de2b 2.5px,#bade28 3.5px,#bade28 5.5px,#e2e418 8.5px,#f1e51d 10.5px,#e2e418 12.5px,#c2df23 14.5px,#a8db34 16.5px,#9dd93b 20.5px,#a5db36 26.5px,#9dd93b 28.5px,#63cb5f 33.5px,#4cc26c 36.5px,#3aba76 42.5px,#34b679 46.5px,#23a983 51.5px,#1fa188 63.5px,#21918c 69.5px,#21918c 86.5px,#2a788e 100.5px,#2f6c8e 113.5px,#365c8d 120.5px,#365d8d 127.5px,#39568c 136.5px,#433d84 162.5px,#463480 180.5px,#482878 194.5px,#472e7c 205.5px,#481f70 217.5px,#481c6e 222.5px,#481f70 229.5px,#481b6d 233.5px)"></i>
<i style="top:64px;background:linear-gradient(90deg,#89d548 0.5px,#cde11d 2.5px,#d0e11c 3.5px,#c5e021 5.5px,#d0e11c 7.5px,#e7e419 10.5px,#eae51a 11.5px,#d2e21b 14.5px,#c2df23 16.5px,#c0df25 21.5px,#a8db34 26.5px,#a5db36 29.5px,#98d83e 31.5px,#4cc26c 37.5px,#3bbb75 40.5px,#3dbc74 43.5px,#3fbc73 46.5px,#23a983 52.5px,#21a685 58.5px,#20a486 64.5px,#21908d 71.5px,#20938c 79.5px,#218e8d 85.5px,#297a8e 98.5px,#29798e 106.5px,#31688e 114.5px,#375a8c 120.5px,#33628d 127.5px,#3c4f8a 139.5px,#404588 144.5px,#3c508b 151.5px,#433e85 167.5px,#46307e 182.5px,#46307e 189.5px,#46307e 194.5px,#463480 200.5px,#482576 209.5px,#482374 216.5px,#481a6c 222.5px,#481d6f 233.5px)"></i>
<i style="top:66px;background:linear-gradient(90deg,#8ed645 0.5px,#b8de29 1.5px,#e2e418 2.5px,#ece51b 3.5px,#f6e620 9.5px,#dfe318 14.5px,#dae319 16.5px,#dfe318 19.5px,#d5e21a 21.5px,#a0da39 26.5px,#a0da39 31.5px,#90d743 33.5px,#58c765 37.5px,#46c06f 39.5px,#42be71 42.5px,#56c667 46.5px,#50c46a 48.5px,#2eb37c 53.5px,#22a785 60.5px,#1fa188 67.5px,#1f968b 73.5px,#1f988b 80.5px,#27808e 87.5px,#29798e 96.5px,#26828e 105.5px,#2c728e 113.5px,#365d8d 118.5px,#355e8d 122.5px,#32648e 127.5px,#3b528b 137.5px,#424186 142.5px,#3e4c8a 147.5px,#3b528b 151.5px,#443a83 171.5px,#443983 183.5px,#46337f 199.5px,#482374 207.5px,#482071 214.5px,#481b6d 221.5px,#481d6f 233.5px)"></i>
<i style="top:68px;background:linear-gradient(90deg,#77d153 0.5px,#a2da37 1.5px,#d5e21a 2.5px,#ece51b 3.5px,#fde725 5.5px,#fde725 8.5px,#e2e418 12.5px,#dde318 14.5px,#e5e419 18.5px,#d5e21a 21.5px,#95d840 27.5px,#73d056 33.5px,#50c46a 38.5px,#46c06f 42.5px,#46c06f 47.5px,#24aa83 56.5px,#24aa83 62.5px,#22a884 67.5px,#1f9f88 73.5px,#1f988b 82.5px,#287d8e 92.5px,#277e8e 103.5px,#277e8e 110.5px,#355e8d 120.5px,#355e8d 134.5px,#3f4788 141.5px,#3d4d8a 150.5px,#414287 164.5px,#453781 171.5px,#443983 180.5px,#443983 186.5px,#482071 205.5px,#482173 214.5px,#481b6d 233.5px)"></i>
<i style="top:70px;background:linear-gradient(90deg,#70cf57 0.5px,#98d83e 1.5px,#c8e020 2.5px,#dae319 3.5px,#e7e419 6.5px,#dfe318 15.5px,#e5e419 19.5px,#d0e11c 23.5px,#7fd34e 31.5px,#69cd5b 34.5px,#50c46a 40.5px,#37b878 44.5px,#29af7f 52.5px,#20a486 57.5px,#25ac82 64.5px,#1f988b 73.5px,#1f968b 80.5px,#20928c 87.5px,#287c8e 96.5px,#287c8e 107.5px,#2a778e 111.5px,#2f6b8e 118.5px,#355f8d 128.5px,#33628d 134.5px,#3c4f8a 142.5px,#404688 158.5px,#414487 164.5px,#472f7d 176.5px,#443a83 184.5px,#482576 196.5px,#481d6f 206.5px,#482576 214.5px,#481d6f 227.5px,#481f70 233.5px)"></i>
<i style="top:72px;background:linear-gradient(90deg,#70cf57 0.5px,#bddf26 2.5px,#c8e020 3.5px,#d5e21a 8.5px,#dde318 11.5px,#d5e21a 17.5px,#d5e21a 19.5px,#c0df25 23.5px,#90d743 29.5px,#6ece58 34.5px,#67cc5c 38.5px,#56c667 40.5px,#38b977 43.5px,#2fb47c 45.5px,#2fb47c 50.5px,#24aa83 55.5px,#27ad81 61.5px,#1e9d89 67.5px,#218e8d 79.5px,#26828e 95.5px,#297a8e 108.5px,#2e6e8e 117.5px,#31688e 123.5px,#355e8d 129.5px,#355f8d 137.5px,#3f4788 149.5px,#414487 160.5px,#424086 165.5px,#46327e 177.5px,#443983 184.5px,#482979 195.5px,#481c6e 207.5px,#482979 216.5px,#481d6f 225.5px,#482071 233.5px)"></i>
<i style="top:74px;background:linear-gradient(90deg,#84d44b 0.5px,#c8e020 2.5px,#cae11f 3.5px,#bddf26 5.5px,#c2df23 11.5px,#bade28 15.5px,#c2df23 18.5px,#b5de2b 21.5px,#95d840 25.5px,#86d549 30.5px,#63cb5f 35.5px,#50c46a 40.5px,#35b779 44.5px,#2db27d 51.5px,#22a785 56.5px,#24aa83 61.5px,#1f978b 67.5px,#1f998a 76.5px,#23898e 85.5px,#287d8e 102.5px,#32658e 122.5px,#39568c 132.5px,#355e8d 140.5px,#3f4788 148.5px,#414287 159.5px,#453581 169.5px,#453781 184.5px,#472e7c 191.5px,#472c7a 198.5px,#482173 208.5px,#482878 217.5px,#482071 226.5px,#482173 233.5px)"></i>
<i style="top:76px;background:linear-gradient(90deg,#8bd646 0.5px,#c5e021 2.5px,#c0df25 3.5px,#a8db34 5.5px,#a5db36 7.5px,#c8e020 12.5px,#d0e11c 18.5px,#c0df25 20.5px,#9bd93c 23.5px,#86d549 26.5px,#77d153 29.5px,#46c06f 34.5px,#3bbb75 37.5px,#37b878 42.5px,#21a685 55.5px,#1fa188 63.5px,#20938c 68.5px,#1e9d89 75.5px,#25848e 86.5px,#27808e 94.5px,#297a8e 103.5px,#2f6b8e 112.5px,#31688e 121.5px,#31678e 125.5px,#3b518b 131.5px,#3a548c 135.5px,#365d8d 141.5px,#3f4889 149.5px,#404588 157.5px,#453581 168.5px,#472f7d 184.5px,#472d7b 189.5px,#46337f 194.5px,#482979 202.5px,#472c7a 209.5px,#482173 233.5px)"></i>
<i style="top:78px;background:linear-gradient(90deg,#6ece58 0.5px,#addc30 2.5px,#b2dd2d 3.5px,#aadc32 6.5px,#cde11d 16.5px,#cde11d 18.5px,#89d548 25.5px,#6ccd5a 28.5px,#3bbb75 32.5px,#2cb17e 35.5px,#29af7f 42.5px,#21a685 49.5px,#1fa287 63.5px,#1f998a 69.5px,#1f948c 76.5px,#297b8e 86.5px,#277e8e 98.5px,#33628d 118.5px,#34618d 125.5px,#3d4e8a 131.5px,#38588c 141.5px,#404688 152.5px,#463480 173.5px,#482878 181.5px,#472e7c 190.5px,#46307e 197.5px,#472a7a 203.5px,#472a7a 210.5px,#482374 228.5px,#481d6f 233.5px)"></i>
<i style="top:80px;background:linear-gradient(90deg,#56c667 0.5px,#75d054 1.5px,#9bd93c 2.5px,#a8db34 3.5px,#b8de29 6.5px,#b0dd2f 9.5px,#a0da39 11.5px,#9bd93c 14.5px,#addc30 18.5px,#9dd93b 21.5px,#63cb5f 28.5px,#3dbc74 32.5px,#2db27d 38.5px,#1f9e89 46.5px,#1f9e89 52.5px,#1fa188 57.5px,#1f958b 65.5px,#1f9e89 73.5px,#228b8d 78.5px,#2c728e 84.5px,#2c738e 89.5px,#2a778e 97.5px,#34618d 117.5px,#3b528b 127.5px,#3d4d8a 132.5px,#3a548c 145.5px,#404588 158.5px,#414287 164.5px,#46327e 175.5px,#482979 180.5px,#472e7c 198.5px,#482475 210.5px,#482677 218.5px,#481668 233.5px)"></i>
<i style="top:82px;background:linear-gradient(90deg,#4ac16d 0.5px,#86d549 2.5px,#93d741 3.5px,#93d741 6.5px,#70cf57 12.5px,#75d054 17.5px,#75d054 19.5px,#63cb5f 27.5px,#40bd72 32.5px,#24aa83 42.5px,#1f958b 50.5px,#21908d 59.5px,#228c8d 64.5px,#1f988b 73.5px,#25858e 78.5px,#2f6c8e 84.5px,#2f6b8e 88.5px,#2b758e 96.5px,#32648e 110.5px,#355f8d 120.5px,#3e4989 131.5px,#3c4f8a 142.5px,#3c508b 150.5px,#404688 159.5px,#414287 164.5px,#443a83 170.5px,#472f7d 181.5px,#472d7b 196.5px,#482374 203.5px,#482576 215.5px,#471365 233.5px)"></i>
<i style="top:84px;background:linear-gradient(90deg,#26ad81 0.5px,#4ac16d 2.5px,#50c46a 4.5px,#4ac16d 11.5px,#54c568 24.5px,#48c16e 27.5px,#2db27d 31.5px,#21a585 36.5px,#1fa088 44.5px,#20938c 51.5px,#25838e 65.5px,#23898e 74.5px,#2e6f8e 85.5px,#2d708e 91.5px,#297a8e 97.5px,#34618d 109.5px,#375a8c 124.5px,#3e4a89 130.5px,#404688 149.5px,#404588 154.5px,#443a83 159.5px,#443983 165.5px,#472e7c 179.5px,#472d7b 186.5px,#482173 199.5px,#482576 211.5px,#481769 220.5px,#481769 233.5px)"></i>
<i style="top:86px;background:linear-gradient(90deg,#1e9d89 0.5px,#28ae80 2.5px,#2cb17e 8.5px,#3bbb75 14.5px,#3dbc74 22.5px,#24aa83 29.5px,#1e9d89 39.5px,#1f968b 46.5px,#297b8e 62.5px,#29798e 68.5px,#297b8e 75.5px,#2d718e 91.5px,#2c728e 98.5px,#375b8d 106.5px,#365d8d 114.5px,#3c508b 126.5px,#3e4a89 133.5px,#414287 144.5px,#443b84 150.5px,#443983 155.5px,#46337f 160.5px,#46337f 170.5px,#482979 180.5px,#482374 188.5px,#482071 196.5px,#482475 208.5px,#481a6c 220.5px,#481769 233.5px)"></i>
<i style="top:88px;background:linear-gradient(90deg,#22a884 0.5px,#31b57b 2.5px,#25ac82 7.5px,#34b679 19.5px,#1fa187 27.5px,#1f988b 36.5px,#2a788e 59.5px,#2c728e 65.5px,#2b758e 71.5px,#2d718e 79.5px,#2c728e 90.5px,#39558c 105.5px,#365c8d 114.5px,#3e4989 126.5px,#3e4c8a 135.5px,#414487 145.5px,#453581 153.5px,#443a83 162.5px,#443983 168.5px,#472a7a 177.5px,#482374 204.5px,#481c6e 212.5px,#481769 230.5px,#481769 233.5px)"></i>
<i style="top:90px;background:linear-gradient(90deg,#1f9a8a 0.5px,#21a685 2.5px,#1fa088 8.5px,#1fa287 16.5px,#22a785 22.5px,#21908d 34.5px,#297a8e 44.5px,#2a788e 57.5px,#2e6d8e 65.5px,#2f6b8e 78.5px,#31678e 84.5px,#2d708e 93.5px,#3a548c 104.5px,#38598c 114.5px,#404588 123.5px,#3c4f8a 131.5px,#414487 140.5px,#423f85 146.5px,#46307e 153.5px,#46307e 168.5px,#482475 201.5px,#481c6e 210.5px,#481c6e 217.5px,#481769 225.5px,#481769 233.5px)"></i>
<i style="top:92px;background:linear-gradient(90deg,#2a768e 0.5px,#25838e 2.5px,#228d8d 11.5px,#20928c 17.5px,#1f998a 22.5px,#21918c 26.5px,#297b8e 33.5px,#2e6e8e 43.5px,#29798e 51.5px,#287d8e 55.5px,#31688e 65.5px,#31678e 72.5px,#2e6e8e 77.5px,#34608d 84.5px,#306a8e 95.5px,#39558c 103.5px,#355e8d 111.5px,#433e85 122.5px,#404688 131.5px,#443a83 137.5px,#424186 144.5px,#472f7d 152.5px,#472a7a 159.5px,#482173 166.5px,#46307e 173.5px,#482475 182.5px,#482878 191.5px,#481d6f 210.5px,#481b6d 217.5px,#481467 224.5px,#481769 231.5px,#481668 233.5px)"></i>
<i style="top:94px;background:linear-gradient(90deg,#31678e 0.5px,#2b748e 2.5px,#27808e 11.5px,#23888e 23.5px,#31668e 36.5px,#32658e 44.5px,#2a788e 54.5px,#306a8e 60.5px,#355f8d 70.5px,#2f6c8e 77.5px,#375a8c 85.5px,#355f8d 96.5px,#3b518b 103.5px,#365c8d 111.5px,#443983 122.5px,#424186 130.5px,#463480 136.5px,#423f85 144.5px,#472e7c 151.5px,#472a7a 158.5px,#481d6f 165.5px,#472a7a 171.5px,#472a7a 175.5px,#481d6f 181.5px,#482475 190.5px,#481c6e 211.5px,#481467 223.5px,#481467 233.5px)"></i>
<i style="top:96px;background:linear-gradient(90deg,#355f8d 0.5px,#2e6f8e 3.5px,#2e6f8e 9.5px,#31688e 15.5px,#2b758e 25.5px,#2e6e8e 30.5px,#355e8d 36.5px,#30698e 49.5px,#32648e 57.5px,#375a8c 63.5px,#2f6b8e 78.5px,#3d4d8a 88.5px,#3b518b 95.5px,#3b518b 113.5px,#453581 125.5px,#443b84 141.5px,#482878 151.5px,#482677 159.5px,#481f70 165.5px,#482173 174.5px,#481a6c 182.5px,#481c6e 198.5px,#481668 213.5px,#48186a 227.5px,#481769 233.5px)"></i>
<i style="top:98px;background:linear-gradient(90deg,#3b528b 0.5px,#355e8d 3.5px,#375b8d 18.5px,#33638d 31.5px,#365d8d 48.5px,#38598c 59.5px,#3a538b 65.5px,#39568c 81.5px,#3f4889 91.5px,#3e4c8a 102.5px,#3e4a89 109.5px,#3e4989 115.5px,#472c7a 127.5px,#46337f 132.5px,#443983 137.5px,#482374 149.5px,#472a7a 159.5px,#481d6f 166.5px,#481f70 173.5px,#48186a 180.5px,#481f70 194.5px,#471365 213.5px,#481668 224.5px,#481467 233.5px)"></i>
<i style="top:100px;background:linear-gradient(90deg,#414287 0.5px,#3d4e8a 3.5px,#3a538b 15.5px,#3e4c8a 28.5px,#3a548c 37.5px,#3c4f8a 67.5px,#404688 83.5px,#433e85 100.5px,#433e85 107.5px,#414287 113.5px,#46307e 129.5px,#472c7a 143.5px,#482071 149.5px,#482878 158.5px,#481769 172.5px,#481a6c 185.5px,#481c6e 193.5px,#471164 209.5px,#471164 219.5px,#471063 225.5px,#460b5e 230.5px,#470e61 233.5px)"></i>
<i style="top:102px;background:linear-gradient(90deg,#453882 0.5px,#414487 4.5px,#3f4889 16.5px,#423f85 32.5px,#3e4a89 41.5px,#424086 54.5px,#3e4c8a 63.5px,#404688 78.5px,#453882 86.5px,#433d84 97.5px,#453781 105.5px,#443a83 112.5px,#463480 119.5px,#453781 127.5px,#472a7a 136.5px,#472c7a 142.5px,#481f70 149.5px,#482173 163.5px,#481668 174.5px,#48186a 190.5px,#470d60 217.5px,#471164 224.5px,#460b5e 231.5px,#470d60 233.5px)"></i>
<i style="top:104px;background:linear-gradient(90deg,#46337f 0.5px,#433d84 4.5px,#443983 19.5px,#443a83 28.5px,#453882 34.5px,#433e85 41.5px,#46337f 50.5px,#424186 58.5px,#3e4989 63.5px,#404588 71.5px,#453781 81.5px,#46327e 86.5px,#453882 93.5px,#453581 101.5px,#472a7a 126.5px,#482677 144.5px,#482071 151.5px,#481d6f 160.5px,#481769 189.5px,#471063 197.5px,#471063 225.5px,#46085c 233.5px)"></i>
<i style="top:106px;background:linear-gradient(90deg,#472e7c 0.5px,#463480 4.5px,#46337f 24.5px,#46337f 30.5px,#463480 41.5px,#472e7c 49.5px,#423f85 63.5px,#443b84 71.5px,#472f7d 84.5px,#46337f 91.5px,#482374 124.5px,#482677 133.5px,#482677 143.5px,#481f70 154.5px,#48186a 166.5px,#481b6d 179.5px,#471365 192.5px,#471365 215.5px,#470e61 225.5px,#46075a 233.5px)"></i>
<i style="top:108px;background:linear-gradient(90deg,#482677 0.5px,#482979 5.5px,#472a7a 10.5px,#46307e 15.5px,#472d7b 25.5px,#463480 44.5px,#443983 51.5px,#46307e 64.5px,#472e7c 80.5px,#472f7d 87.5px,#482979 99.5px,#482173 105.5px,#482677 122.5px,#481f70 129.5px,#482878 136.5px,#481d6f 145.5px,#481a6c 157.5px,#481769 169.5px,#48186a 181.5px,#48186a 191.5px,#470d60 204.5px,#460a5d 228.5px,#46075a 233.5px)"></i>
<i style="top:110px;background:linear-gradient(90deg,#482374 0.5px,#482173 9.5px,#482878 15.5px,#482374 22.5px,#472d7b 30.5px,#482677 39.5px,#46327e 48.5px,#482979 56.5px,#472d7b 66.5px,#472a7a 72.5px,#46307e 83.5px,#482878 92.5px,#482979 98.5px,#481c6e 104.5px,#482374 115.5px,#472c7a 121.5px,#482071 130.5px,#482071 138.5px,#48186a 149.5px,#481467 169.5px,#481467 179.5px,#481467 192.5px,#460b5e 205.5px,#470d60 215.5px,#46085c 230.5px,#450559 233.5px)"></i>
<i style="top:112px;background:linear-gradient(90deg,#48186a 0.5px,#481d6f 13.5px,#482071 24.5px,#482071 36.5px,#482071 42.5px,#482475 48.5px,#481c6e 55.5px,#472a7a 67.5px,#482878 90.5px,#481d6f 112.5px,#482576 122.5px,#481a6c 131.5px,#481668 146.5px,#481668 157.5px,#481668 164.5px,#470e61 173.5px,#471365 180.5px,#470e61 201.5px,#470d60 214.5px,#46085c 224.5px,#450559 233.5px)"></i>
<i style="top:114px;background:linear-gradient(90deg,#471063 0.5px,#481769 10.5px,#481467 16.5px,#481d6f 25.5px,#481b6d 56.5px,#472a7a 70.5px,#482071 92.5px,#481f70 103.5px,#481c6e 111.5px,#481b6d 123.5px,#481467 137.5px,#471164 146.5px,#471164 154.5px,#471164 166.5px,#470d60 180.5px,#460a5d 199.5px,#470e61 211.5px,#450457 221.5px,#450457 233.5px)"></i>
<i style="top:116px;background:linear-gradient(90deg,#470d60 0.5px,#471164 7.5px,#470e61 15.5px,#481668 32.5px,#48186a 51.5px,#482071 67.5px,#481c6e 80.5px,#481a6c 90.5px,#481a6c 102.5px,#481a6c 116.5px,#471063 146.5px,#470e61 152.5px,#471365 159.5px,#46085c 186.5px,#460a5d 196.5px,#46075a 217.5px,#440256 233.5px)"></i>
<i style="top:118px;background:linear-gradient(90deg,#460a5d 0.5px,#470d60 7.5px,#460b5e 22.5px,#471365 33.5px,#481467 40.5px,#481668 52.5px,#48186a 78.5px,#481668 87.5px,#48186a 97.5px,#481467 105.5px,#481b6d 113.5px,#471365 126.5px,#470e61 147.5px,#470e61 163.5px,#46075a 189.5px,#440256 233.5px)"></i>
<i style="top:120px;background:linear-gradient(90deg,#440256 0.5px,#470d60 11.5px,#46085c 24.5px,#471063 33.5px,#471164 41.5px,#471164 57.5px,#470e61 65.5px,#471365 77.5px,#481b6d 86.5px,#471063 101.5px,#471365 108.5px,#481668 115.5px,#470e61 135.5px,#460b5e 180.5px,#450559 193.5px,#450559 225.5px,#440256 233.5px)"></i>
<i style="top:122px;background:linear-gradient(90deg,#440154 0.5px,#460b5e 13.5px,#460a5d 28.5px,#471063 53.5px,#450559 61.5px,#481467 80.5px,#48186a 87.5px,#460b5e 102.5px,#471063 129.5px,#46085c 140.5px,#46075a 184.5px,#46085c 210.5px,#46075a 217.5px,#440154 233.5px)"></i>
<i style="top:124px;background:linear-gradient(90deg,#440154 0.5px,#46085c 13.5px,#46085c 35.5px,#470e61 44.5px,#460a5d 55.5px,#450559 60.5px,#460b5e 67.5px,#471365 91.5px,#46075a 110.5px,#470e61 126.5px,#460a5d 146.5px,#450457 193.5px,#450457 229.5px,#440154 233.5px)"></i>
<i style="top:126px;background:linear-gradient(90deg,#450457 0.5px,#46075a 37.5px,#460a5d 54.5px,#46085c 59.5px,#470e61 98.5px,#46085c 111.5px,#460a5d 131.5px,#460b5e 144.5px,#46075a 163.5px,#440256 193.5px,#450457 203.5px,#440256 212.5px,#450457 233.5px)"></i>
<i style="top:128px;background:linear-gradient(90deg,#440256 0.5px,#450559 32.5px,#46075a 48.5px,#460a5d 71.5px,#46085c 82.5px,#460b5e 105.5px,#460a5d 114.5px,#46085c 132.5px,#460a5d 141.5px,#450559 166.5px,#450457 182.5px,#440256 211.5px,#450457 233.5px)"></i>
<i style="top:130px;background:linear-gradient(90deg,#440154 0.5px,#450457 30.5px,#46075a 63.5px,#460a5d 117.5px,#450559 128.5px,#46085c 139.5px,#450457 161.5px,#440256 196.5px,#440256 233.5px)"></i>
<i style="top:132px;background:linear-gradient(90deg,#440154 0.5px,#450559 44.5px,#46075a 75.5px,#46085c 87.5px,#46085c 117.5px,#450457 131.5px,#450457 152.5px,#440256 190.5px,#450457 204.5px,#440154 233.5px)"></i>
<i style="top:134px;background:linear-gradient(90deg,#440256 0.5px,#450457 40.5px,#450457 58.5px,#450559 73.5px,#460a5d 81.5px,#46085c 94.5px,#460a5d 102.5px,#450457 111.5px,#450559 138.5px,#450457 159.5px,#440256 199.5px,#440154 233.5px)"></i>
<i style="top:136px;background:linear-gradient(90deg,#440154 0.5px,#450457 56.5px,#440256 71.5px,#46085c 82.5px,#450559 94.5px,#46085c 101.5px,#440256 121.5px,#450457 145.5px,#440154 233.5px)"></i>
<i style="top:138px;background:linear-gradient(90deg,#440154 0.5px,#440256 60.5px,#450457 75.5px,#450457 89.5px,#440256 97.5px,#450457 119.5px,#440256 158.5px,#450457 168.5px,#440256 181.5px,#440154 233.5px)"></i>
</div>
<div class="hm" style="left:41.00px;top:346.60px;width:233.20px;height:138.25px">
<i style="top:0px;background:linear-gradient(90deg,#471365 0.5px,#46085c 11.5px,#450457 17.5px,#470e61 32.5px,#450559 41.5px,#46075a 57.5px,#471365 64.5px,#46075a 79.5px,#440154 143.5px,#440154 233.5px)"></i>
<i style="top:2px;background:linear-gradient(90deg,#470d60 0.5px,#470e61 7.5px,#450559 15.5px,#471063 31.5px,#470d60 38.5px,#46085c 45.5px,#470e61 52.5px,#470d60 57.5px,#48186a 67.5px,#440256 93.5px,#440154 233.5px)"></i>
<i style="top:4px;background:linear-gradient(90deg,#46075a 0.5px,#470e61 9.5px,#470d60 25.5px,#481668 34.5px,#460a5d 43.5px,#481c6e 68.5px,#470d60 79.5px,#450559 98.5px,#440154 147.5px,#440154 233.5px)"></i>
<i style="top:6px;background:linear-gradient(90deg,#46075a 0.5px,#471164 11.5px,#470e61 23.5px,#48186a 32.5px,#470e61 42.5px,#481769 54.5px,#481f70 68.5px,#471063 77.5px,#440256 107.5px,#440154 233.5px)"></i>
<i style="top:8px;background:linear-gradient(90deg,#470e61 0.5px,#481467 13.5px,#470e61 21.5px,#48186a 33.5px,#481668 40.5px,#481668 48.5px,#48186a 55.5px,#481f70 62.5px,#481b6d 72.5px,#460b5e 92.5px,#450457 103.5px,#440256 109.5px,#440154 233.5px)"></i>
<i style="top:10px;background:linear-gradient(90deg,#48186a 0.5px,#470e61 16.5px,#471164 25.5px,#482374 44.5px,#481b6d 53.5px,#481f70 65.5px,#481467 87.5px,#470d60 93.5px,#440154 111.5px,#440154 233.5px)"></i>
<i style="top:12px;background:linear-gradient(90deg,#481c6e 0.5px,#471063 14.5px,#471164 22.5px,#481c6e 35.5px,#482677 43.5px,#481d6f 51.5px,#482374 66.5px,#481769 87.5px,#470d60 96.5px,#440154 113.5px,#440154 233.5px)"></i>
<i style="top:14px;background:linear-gradient(90deg,#481c6e 0.5px,#481769 10.5px,#471164 17.5px,#481f70 26.5px,#481a6c 32.5px,#472c7a 40.5px,#481f70 50.5px,#472a7a 63.5px,#482374 77.5px,#470d60 94.5px,#460a5d 106.5px,#450457 120.5px,#440154 233.5px)"></i>
<i style="top:16px;background:linear-gradient(90deg,#482071 0.5px,#481c6e 10.5px,#481a6c 18.5px,#482878 25.5px,#482374 33.5px,#472f7d 40.5px,#482475 50.5px,#46337f 62.5px,#472a7a 75.5px,#481c6e 82.5px,#481769 88.5px,#460b5e 95.5px,#470d60 106.5px,#450559 122.5px,#440256 174.5px,#440154 233.5px)"></i>
<i style="top:18px;background:linear-gradient(90deg,#481c6e 0.5px,#481d6f 15.5px,#482071 20.5px,#482878 26.5px,#482878 35.5px,#472e7c 45.5px,#482979 52.5px,#453882 59.5px,#46327e 69.5px,#482475 83.5px,#481c6e 89.5px,#471365 96.5px,#471063 106.5px,#450457 132.5px,#440154 233.5px)"></i>
<i style="top:20px;background:linear-gradient(90deg,#481d6f 0.5px,#482374 7.5px,#482071 19.5px,#482979 26.5px,#472d7b 38.5px,#46307e 47.5px,#46307e 53.5px,#433d84 60.5px,#453781 68.5px,#463480 74.5px,#482979 83.5px,#481a6c 96.5px,#48186a 102.5px,#470e61 112.5px,#450457 131.5px,#440154 233.5px)"></i>
<i style="top:22px;background:linear-gradient(90deg,#482677 0.5px,#46327e 4.5px,#482677 16.5px,#472c7a 30.5px,#453581 45.5px,#443b84 51.5px,#443b84 57.5px,#424086 63.5px,#433e85 71.5px,#46337f 76.5px,#472e7c 83.5px,#481c6e 94.5px,#48186a 103.5px,#450559 123.5px,#450457 133.5px,#440256 157.5px,#440154 233.5px)"></i>
<i style="top:24px;background:linear-gradient(90deg,#472e7c 0.5px,#453581 5.5px,#472f7d 16.5px,#46337f 33.5px,#414287 52.5px,#414487 58.5px,#3f4788 67.5px,#433e85 71.5px,#46307e 75.5px,#472e7c 83.5px,#481b6d 98.5px,#471365 112.5px,#450457 126.5px,#450457 163.5px,#440154 233.5px)"></i>
<i style="top:26px;background:linear-gradient(90deg,#46337f 0.5px,#443a83 4.5px,#46327e 15.5px,#46327e 21.5px,#443983 27.5px,#443a83 34.5px,#3f4788 42.5px,#414487 52.5px,#414287 57.5px,#3d4e8a 65.5px,#424086 71.5px,#453781 77.5px,#453882 83.5px,#482071 97.5px,#48186a 107.5px,#471365 113.5px,#46085c 126.5px,#460a5d 137.5px,#450559 155.5px,#450457 166.5px,#440256 186.5px,#440154 233.5px)"></i>
<i style="top:28px;background:linear-gradient(90deg,#453781 0.5px,#414287 4.5px,#443b84 9.5px,#46337f 19.5px,#423f85 28.5px,#414487 38.5px,#3f4889 46.5px,#404588 63.5px,#404588 70.5px,#453882 86.5px,#471164 116.5px,#46075a 125.5px,#470d60 136.5px,#450559 147.5px,#450457 171.5px,#450457 184.5px,#440154 233.5px)"></i>
<i style="top:30px;background:linear-gradient(90deg,#443983 0.5px,#3e4989 4.5px,#404588 9.5px,#443a83 19.5px,#3e4a89 32.5px,#3e4989 40.5px,#3c4f8a 48.5px,#3f4788 65.5px,#3e4989 74.5px,#482677 102.5px,#46085c 124.5px,#470e61 136.5px,#440256 153.5px,#450457 164.5px,#450457 196.5px,#440256 233.5px)"></i>
<i style="top:32px;background:linear-gradient(90deg,#443983 0.5px,#3e4c8a 5.5px,#3c508b 12.5px,#414487 19.5px,#3f4788 26.5px,#38588c 32.5px,#3c4f8a 39.5px,#375b8d 47.5px,#38588c 56.5px,#39568c 67.5px,#3a548c 72.5px,#424086 83.5px,#423f85 89.5px,#482878 105.5px,#482677 111.5px,#481467 118.5px,#470e61 134.5px,#450457 155.5px,#46075a 177.5px,#440154 233.5px)"></i>
<i style="top:34px;background:linear-gradient(90deg,#414287 0.5px,#3c508b 4.5px,#3a548c 13.5px,#3b528b 19.5px,#39558c 26.5px,#39568c 40.5px,#38598c 45.5px,#355e8d 50.5px,#34618d 66.5px,#34608d 70.5px,#3c508b 77.5px,#3f4788 91.5px,#453781 101.5px,#472c7a 106.5px,#482878 112.5px,#481b6d 118.5px,#481769 125.5px,#470e61 131.5px,#470d60 140.5px,#460a5d 158.5px,#46085c 165.5px,#450457 173.5px,#46075a 183.5px,#46075a 201.5px,#440154 233.5px)"></i>
<i style="top:36px;background:linear-gradient(90deg,#3e4a89 0.5px,#38598c 4.5px,#38588c 15.5px,#31678e 23.5px,#355f8d 43.5px,#30698e 50.5px,#2f6b8e 65.5px,#33638d 70.5px,#3a548c 76.5px,#3d4e8a 85.5px,#424186 96.5px,#433d84 101.5px,#472d7b 107.5px,#482475 114.5px,#481769 127.5px,#471365 133.5px,#471164 145.5px,#470d60 153.5px,#471164 162.5px,#46075a 171.5px,#46085c 200.5px,#46075a 211.5px,#440256 228.5px,#440256 233.5px)"></i>
<i style="top:38px;background:linear-gradient(90deg,#3b528b 0.5px,#33628d 4.5px,#34618d 15.5px,#2e6f8e 31.5px,#31668e 40.5px,#2d718e 48.5px,#2d708e 65.5px,#39558c 77.5px,#3a538b 85.5px,#443b84 96.5px,#453882 102.5px,#472a7a 109.5px,#482071 124.5px,#481769 132.5px,#481668 145.5px,#470e61 151.5px,#481668 161.5px,#460a5d 170.5px,#46085c 188.5px,#460b5e 195.5px,#46075a 211.5px,#440256 222.5px,#440256 233.5px)"></i>
<i style="top:40px;background:linear-gradient(90deg,#365c8d 0.5px,#2f6b8e 4.5px,#2f6b8e 15.5px,#31688e 22.5px,#2d708e 44.5px,#2c738e 57.5px,#2a768e 64.5px,#355f8d 76.5px,#355f8d 84.5px,#443b84 98.5px,#472f7d 111.5px,#482374 125.5px,#481769 132.5px,#481769 144.5px,#471063 152.5px,#471365 162.5px,#460b5e 170.5px,#46075a 186.5px,#470d60 193.5px,#46085c 211.5px,#440256 221.5px,#440256 233.5px)"></i>
<i style="top:42px;background:linear-gradient(90deg,#2f6c8e 0.5px,#29798e 3.5px,#297a8e 16.5px,#2d708e 21.5px,#2a788e 40.5px,#277f8e 55.5px,#287c8e 64.5px,#31678e 73.5px,#2f6c8e 82.5px,#443b84 106.5px,#453581 113.5px,#472e7c 119.5px,#482878 124.5px,#48186a 131.5px,#481f70 143.5px,#471365 154.5px,#471164 164.5px,#46085c 178.5px,#470e61 193.5px,#440256 228.5px,#450457 233.5px)"></i>
<i style="top:44px;background:linear-gradient(90deg,#2a768e 0.5px,#25858e 3.5px,#23888e 17.5px,#287c8e 23.5px,#24868e 44.5px,#25838e 57.5px,#2f6b8e 74.5px,#2d708e 82.5px,#31668e 89.5px,#375a8c 96.5px,#453781 113.5px,#472c7a 126.5px,#481f70 134.5px,#481f70 145.5px,#481769 162.5px,#471164 170.5px,#46085c 177.5px,#471365 193.5px,#440256 226.5px,#46075a 233.5px)"></i>
<i style="top:46px;background:linear-gradient(90deg,#297a8e 0.5px,#23888e 3.5px,#23888e 8.5px,#1f968b 16.5px,#24878e 25.5px,#228c8d 34.5px,#1f978b 41.5px,#25858e 50.5px,#23898e 56.5px,#2c728e 77.5px,#32658e 87.5px,#38588c 94.5px,#3e4c8a 104.5px,#453882 112.5px,#472e7c 129.5px,#482576 138.5px,#482475 147.5px,#481c6e 161.5px,#482071 167.5px,#471063 177.5px,#471164 185.5px,#471164 192.5px,#470d60 208.5px,#450457 229.5px,#46075a 233.5px)"></i>
<i style="top:48px;background:linear-gradient(90deg,#287d8e 0.5px,#218e8d 3.5px,#21918c 9.5px,#1e9d89 17.5px,#228c8d 26.5px,#218f8d 34.5px,#1e9c89 41.5px,#228c8d 50.5px,#21908d 58.5px,#25848e 69.5px,#2a768e 76.5px,#2d718e 82.5px,#355f8d 91.5px,#39558c 97.5px,#3c4f8a 101.5px,#3c508b 107.5px,#414287 112.5px,#443a83 119.5px,#46327e 126.5px,#472d7b 138.5px,#472a7a 147.5px,#482173 156.5px,#482071 167.5px,#481668 175.5px,#471063 184.5px,#481668 190.5px,#470e61 198.5px,#470d60 207.5px,#471063 220.5px,#450559 231.5px,#450559 233.5px)"></i>
<i style="top:50px;background:linear-gradient(90deg,#277f8e 0.5px,#1f978b 3.5px,#20a386 15.5px,#1fa187 19.5px,#20928c 25.5px,#20938c 35.5px,#1f998a 44.5px,#1f948c 52.5px,#20928c 61.5px,#24868e 69.5px,#2b758e 84.5px,#355e8d 95.5px,#3b528b 100.5px,#39558c 106.5px,#3f4788 117.5px,#453781 126.5px,#46307e 138.5px,#482878 153.5px,#481d6f 168.5px,#471164 185.5px,#481769 192.5px,#470e61 208.5px,#481668 222.5px,#46075a 232.5px,#46085c 233.5px)"></i>
<i style="top:52px;background:linear-gradient(90deg,#26828e 0.5px,#1fa187 3.5px,#29af7f 7.5px,#2ab07f 17.5px,#1f9e89 27.5px,#20a386 38.5px,#1fa187 45.5px,#1f998a 54.5px,#1f988b 61.5px,#24878e 70.5px,#25858e 81.5px,#31678e 94.5px,#375b8d 99.5px,#38588c 105.5px,#3b528b 110.5px,#3b528b 116.5px,#404688 124.5px,#443a83 137.5px,#46307e 148.5px,#482475 167.5px,#48186a 183.5px,#48186a 194.5px,#481467 213.5px,#481b6d 221.5px,#460b5e 233.5px)"></i>
<i style="top:54px;background:linear-gradient(90deg,#1e9d89 0.5px,#22a785 1.5px,#2cb17e 2.5px,#3fbc73 3.5px,#4ac16d 5.5px,#46c06f 8.5px,#3dbc74 12.5px,#42be71 17.5px,#32b67a 24.5px,#25ac82 28.5px,#22a785 36.5px,#2db27d 42.5px,#21a685 49.5px,#1f9f88 59.5px,#238a8d 68.5px,#25858e 75.5px,#25838e 84.5px,#287c8e 92.5px,#31678e 100.5px,#33638d 105.5px,#39558c 111.5px,#3c4f8a 118.5px,#3e4a89 127.5px,#414287 136.5px,#433d84 142.5px,#482979 157.5px,#472a7a 172.5px,#482173 179.5px,#482173 190.5px,#48186a 198.5px,#481d6f 206.5px,#48186a 216.5px,#481b6d 221.5px,#470e61 233.5px)"></i>
<i style="top:56px;background:linear-gradient(90deg,#27ad81 0.5px,#44bf70 2.5px,#5ac864 3.5px,#5ac864 5.5px,#4ac16d 10.5px,#4ec36b 12.5px,#5ac864 14.5px,#6ccd5a 16.5px,#70cf57 17.5px,#67cc5c 21.5px,#37b878 28.5px,#21a685 34.5px,#20a486 37.5px,#32b67a 43.5px,#2ab07f 50.5px,#28ae80 56.5px,#1f9a8a 62.5px,#26828e 73.5px,#24878e 87.5px,#2c718e 98.5px,#2d708e 105.5px,#3d4d8a 116.5px,#3d4e8a 122.5px,#3d4d8a 131.5px,#433d84 146.5px,#46307e 157.5px,#472c7a 167.5px,#472f7d 171.5px,#482374 178.5px,#482374 186.5px,#481b6d 199.5px,#481769 219.5px,#470e61 233.5px)"></i>
<i style="top:58px;background:linear-gradient(90deg,#40bd72 0.5px,#84d44b 3.5px,#86d549 4.5px,#73d056 8.5px,#67cc5c 10.5px,#67cc5c 12.5px,#89d548 16.5px,#8bd646 17.5px,#7cd250 20.5px,#63cb5f 23.5px,#3bbb75 27.5px,#2ab07f 32.5px,#22a884 38.5px,#31b57b 43.5px,#3aba76 48.5px,#2eb37c 56.5px,#1fa088 62.5px,#228b8d 71.5px,#21918c 77.5px,#25848e 89.5px,#2b758e 95.5px,#2a788e 103.5px,#3b528b 117.5px,#38588c 126.5px,#3e4c8a 133.5px,#423f85 139.5px,#414287 150.5px,#472a7a 166.5px,#472d7b 173.5px,#482576 179.5px,#482576 186.5px,#481c6e 194.5px,#481b6d 213.5px,#481668 219.5px,#471365 228.5px,#470e61 233.5px)"></i>
<i style="top:60px;background:linear-gradient(90deg,#6ece58 0.5px,#c8e020 3.5px,#cae11f 4.5px,#b8de29 7.5px,#9bd93c 10.5px,#95d840 12.5px,#a8db34 16.5px,#9dd93b 18.5px,#7ad151 22.5px,#4cc26c 26.5px,#3dbc74 28.5px,#2db27d 37.5px,#35b779 44.5px,#27ad81 56.5px,#20a486 61.5px,#20928c 68.5px,#1f948c 74.5px,#228d8d 80.5px,#23898e 85.5px,#24868e 90.5px,#29798e 95.5px,#29798e 102.5px,#355f8d 112.5px,#38588c 126.5px,#404588 136.5px,#3f4788 145.5px,#3e4a89 150.5px,#453882 158.5px,#463480 165.5px,#472c7a 176.5px,#472c7a 188.5px,#482374 213.5px,#481a6c 220.5px,#481467 233.5px)"></i>
<i style="top:62px;background:linear-gradient(90deg,#81d34d 0.5px,#bade28 2.5px,#d5e21a 3.5px,#d5e21a 4.5px,#c5e021 7.5px,#c5e021 10.5px,#d5e21a 16.5px,#addc30 21.5px,#6ece58 26.5px,#5ac864 29.5px,#3bbb75 36.5px,#3dbc74 42.5px,#27ad81 51.5px,#20a386 61.5px,#1e9b8a 68.5px,#228b8d 81.5px,#26828e 91.5px,#2a788e 96.5px,#2a788e 103.5px,#31678e 111.5px,#3c4f8a 128.5px,#3f4889 133.5px,#3e4c8a 139.5px,#404588 144.5px,#3e4a89 150.5px,#433e85 157.5px,#414287 163.5px,#46327e 174.5px,#453882 181.5px,#46307e 191.5px,#472c7a 201.5px,#482677 207.5px,#482677 214.5px,#481f70 228.5px,#482173 233.5px)"></i>
<i style="top:64px;background:linear-gradient(90deg,#7cd250 0.5px,#cae11f 3.5px,#bade28 6.5px,#c0df25 8.5px,#d0e11c 10.5px,#e5e419 12.5px,#fbe723 15.5px,#fde725 16.5px,#f8e621 17.5px,#dfe318 19.5px,#c0df25 21.5px,#90d743 24.5px,#7ad151 27.5px,#7ad151 31.5px,#67cc5c 34.5px,#4ec36b 37.5px,#46c06f 41.5px,#3aba76 47.5px,#21a685 58.5px,#1f998a 71.5px,#218e8d 82.5px,#29798e 94.5px,#287c8e 100.5px,#2f6b8e 107.5px,#306a8e 113.5px,#365d8d 120.5px,#39558c 127.5px,#3e4a89 132.5px,#3c508b 139.5px,#404688 145.5px,#3f4889 162.5px,#453781 178.5px,#453882 185.5px,#46307e 193.5px,#472e7c 200.5px,#482979 206.5px,#482677 223.5px,#482475 230.5px,#482979 233.5px)"></i>
<i style="top:66px;background:linear-gradient(90deg,#6ccd5a 0.5px,#c8e020 3.5px,#cae11f 7.5px,#dae319 10.5px,#f6e620 13.5px,#fde725 14.5px,#fbe723 17.5px,#ece51b 18.5px,#dae319 19.5px,#b2dd2d 21.5px,#84d44b 24.5px,#6ece58 27.5px,#75d054 32.5px,#63cb5f 35.5px,#40bd72 39.5px,#35b779 42.5px,#34b679 49.5px,#24aa83 56.5px,#1e9d89 65.5px,#228c8d 71.5px,#1f958b 80.5px,#29798e 91.5px,#287c8e 99.5px,#2f6c8e 106.5px,#2e6d8e 111.5px,#355e8d 118.5px,#355f8d 127.5px,#3a538b 136.5px,#3d4e8a 154.5px,#443a83 173.5px,#472e7c 179.5px,#443a83 186.5px,#46307e 194.5px,#46337f 203.5px,#472c7a 217.5px,#482677 226.5px,#482475 232.5px,#482576 233.5px)"></i>
<i style="top:68px;background:linear-gradient(90deg,#7fd34e 0.5px,#bddf26 2.5px,#dae319 3.5px,#dde318 4.5px,#d0e11c 8.5px,#dfe318 12.5px,#ece51b 16.5px,#dae319 18.5px,#b2dd2d 21.5px,#7cd250 25.5px,#63cb5f 28.5px,#4cc26c 35.5px,#28ae80 41.5px,#28ae80 45.5px,#2db27d 49.5px,#25ab82 56.5px,#24aa83 61.5px,#1f968b 66.5px,#238a8d 71.5px,#20938c 78.5px,#297a8e 89.5px,#27808e 97.5px,#32648e 120.5px,#33628d 129.5px,#3b518b 138.5px,#38598c 147.5px,#443a83 172.5px,#472a7a 178.5px,#46327e 182.5px,#423f85 187.5px,#463480 195.5px,#453781 202.5px,#472c7a 221.5px,#482374 233.5px)"></i>
<i style="top:70px;background:linear-gradient(90deg,#75d054 0.5px,#a8db34 2.5px,#bddf26 3.5px,#addc30 6.5px,#b2dd2d 8.5px,#dde318 12.5px,#ece51b 14.5px,#f1e51d 16.5px,#dfe318 18.5px,#bade28 21.5px,#5cc863 28.5px,#44bf70 32.5px,#26ad81 42.5px,#25ab82 50.5px,#20a486 57.5px,#20a386 63.5px,#20928c 71.5px,#21918c 79.5px,#277e8e 86.5px,#277e8e 95.5px,#2c718e 101.5px,#2c738e 108.5px,#3a548c 138.5px,#375b8d 145.5px,#3e4c8a 160.5px,#453581 178.5px,#424186 187.5px,#46337f 194.5px,#46327e 211.5px,#482677 218.5px,#482878 233.5px)"></i>
<i style="top:72px;background:linear-gradient(90deg,#70cf57 0.5px,#9dd93b 2.5px,#b0dd2f 3.5px,#a0da39 5.5px,#9dd93b 7.5px,#c2df23 11.5px,#dfe318 14.5px,#e7e419 16.5px,#cae11f 19.5px,#98d83e 23.5px,#50c46a 30.5px,#31b57b 35.5px,#27ad81 39.5px,#26ad81 47.5px,#1f9a8a 55.5px,#1f9a8a 67.5px,#21908d 79.5px,#26828e 85.5px,#2a778e 95.5px,#2e6f8e 100.5px,#2a788e 106.5px,#32658e 118.5px,#33638d 124.5px,#375b8d 131.5px,#365c8d 139.5px,#355e8d 144.5px,#38598c 153.5px,#3c508b 161.5px,#433e85 170.5px,#424086 187.5px,#46337f 194.5px,#46327e 211.5px,#482979 218.5px,#472a7a 227.5px,#482576 233.5px)"></i>
<i style="top:74px;background:linear-gradient(90deg,#5ac864 0.5px,#aadc32 3.5px,#addc30 4.5px,#a2da37 8.5px,#a8db34 12.5px,#b5de2b 16.5px,#9dd93b 19.5px,#63cb5f 24.5px,#42be71 31.5px,#2ab07f 36.5px,#1f9e89 54.5px,#21908d 71.5px,#2a768e 95.5px,#2b748e 100.5px,#287d8e 106.5px,#2f6c8e 115.5px,#32648e 119.5px,#31688e 128.5px,#355f8d 136.5px,#33628d 143.5px,#3b518b 150.5px,#375a8c 159.5px,#424086 169.5px,#433e85 188.5px,#453781 194.5px,#453781 201.5px,#472d7b 223.5px,#472d7b 228.5px,#482173 233.5px)"></i>
<i style="top:76px;background:linear-gradient(90deg,#3fbc73 0.5px,#70cf57 2.5px,#90d743 3.5px,#95d840 4.5px,#8ed645 10.5px,#89d548 14.5px,#84d44b 16.5px,#42be71 23.5px,#35b779 26.5px,#32b67a 36.5px,#1fa187 46.5px,#1e9c89 55.5px,#1f978b 62.5px,#20928c 68.5px,#2b748e 113.5px,#34608d 120.5px,#34618d 130.5px,#34608d 141.5px,#3c508b 150.5px,#3a548c 159.5px,#414487 169.5px,#424086 180.5px,#433e85 186.5px,#443b84 197.5px,#46307e 203.5px,#463480 212.5px,#472c7a 224.5px,#472e7c 229.5px,#482677 233.5px)"></i>
<i style="top:78px;background:linear-gradient(90deg,#26ad81 0.5px,#35b779 1.5px,#67cc5c 3.5px,#70cf57 4.5px,#70cf57 6.5px,#5cc863 11.5px,#56c667 16.5px,#3aba76 21.5px,#31b57b 26.5px,#3fbc73 34.5px,#22a785 41.5px,#1f9a8a 46.5px,#20a486 54.5px,#20928c 68.5px,#297a8e 101.5px,#38598c 126.5px,#34618d 136.5px,#3c508b 162.5px,#424086 193.5px,#46307e 203.5px,#443a83 213.5px,#46307e 222.5px,#463480 229.5px,#472f7d 233.5px)"></i>
<i style="top:80px;background:linear-gradient(90deg,#21a585 0.5px,#29af7f 1.5px,#3bbb75 2.5px,#56c667 3.5px,#5ec962 4.5px,#60ca60 5.5px,#56c667 7.5px,#37b878 11.5px,#34b679 15.5px,#34b679 24.5px,#26ad81 28.5px,#2eb37c 34.5px,#1fa187 41.5px,#1f988b 48.5px,#1fa088 57.5px,#228d8d 67.5px,#228d8d 77.5px,#277e8e 86.5px,#2c738e 94.5px,#2a768e 102.5px,#31668e 112.5px,#34608d 119.5px,#365d8d 127.5px,#355e8d 136.5px,#39568c 151.5px,#3e4a89 161.5px,#3b518b 169.5px,#3f4788 178.5px,#3d4e8a 185.5px,#414487 195.5px,#453581 206.5px,#443b84 215.5px,#46327e 221.5px,#443983 233.5px)"></i>
<i style="top:82px;background:linear-gradient(90deg,#1f988b 0.5px,#1fa287 1.5px,#26ad81 2.5px,#35b779 3.5px,#40bd72 5.5px,#3fbc73 8.5px,#27ad81 17.5px,#2eb37c 23.5px,#1fa088 28.5px,#1fa187 32.5px,#20a386 36.5px,#20938c 50.5px,#1e9b8a 58.5px,#23898e 66.5px,#27808e 80.5px,#2c718e 95.5px,#2c738e 102.5px,#32648e 109.5px,#31668e 117.5px,#39568c 136.5px,#375b8d 143.5px,#3c4f8a 155.5px,#414487 160.5px,#3c4f8a 169.5px,#414487 178.5px,#3c508b 190.5px,#404688 196.5px,#453581 208.5px,#443b84 216.5px,#463480 224.5px,#443983 233.5px)"></i>
<i style="top:84px;background:linear-gradient(90deg,#228d8d 0.5px,#1fa088 2.5px,#26ad81 4.5px,#22a785 18.5px,#1fa188 25.5px,#1f978b 29.5px,#1f9f88 35.5px,#228c8d 45.5px,#24878e 50.5px,#1f998a 58.5px,#23898e 67.5px,#2c728e 84.5px,#2c728e 103.5px,#33638d 112.5px,#355f8d 129.5px,#38598c 136.5px,#375b8d 142.5px,#39558c 149.5px,#3a548c 154.5px,#404688 161.5px,#3b528b 168.5px,#404688 178.5px,#414287 188.5px,#404688 194.5px,#453781 210.5px,#433d84 219.5px,#453781 226.5px,#443983 233.5px)"></i>
<i style="top:86px;background:linear-gradient(90deg,#23898e 0.5px,#1fa188 3.5px,#1e9c89 8.5px,#1f988b 12.5px,#1f9e89 17.5px,#21918c 31.5px,#27808e 44.5px,#297a8e 49.5px,#20938c 58.5px,#238a8d 63.5px,#26828e 68.5px,#287c8e 75.5px,#2d708e 82.5px,#29798e 96.5px,#30698e 109.5px,#365d8d 132.5px,#39558c 150.5px,#3c508b 156.5px,#404588 161.5px,#3a538b 169.5px,#414487 182.5px,#443a83 190.5px,#423f85 198.5px,#443983 210.5px,#433e85 218.5px,#433d84 225.5px,#443b84 233.5px)"></i>
<i style="top:88px;background:linear-gradient(90deg,#277e8e 0.5px,#20928c 3.5px,#228d8d 9.5px,#24868e 15.5px,#228b8d 22.5px,#21908d 28.5px,#27808e 35.5px,#2a778e 39.5px,#297a8e 52.5px,#25848e 59.5px,#2b748e 66.5px,#2a778e 75.5px,#2e6f8e 84.5px,#2e6f8e 100.5px,#355e8d 107.5px,#34608d 115.5px,#355f8d 126.5px,#3a548c 136.5px,#38598c 143.5px,#3b518b 149.5px,#3c508b 156.5px,#404588 165.5px,#3f4788 178.5px,#443a83 186.5px,#443b84 212.5px,#443983 217.5px,#404588 223.5px,#443983 233.5px)"></i>
<i style="top:90px;background:linear-gradient(90deg,#2d708e 0.5px,#26828e 3.5px,#25838e 9.5px,#29798e 21.5px,#25848e 28.5px,#2d718e 38.5px,#2a788e 58.5px,#30698e 65.5px,#2a778e 73.5px,#31688e 82.5px,#2d718e 92.5px,#33628d 103.5px,#38598c 108.5px,#38588c 120.5px,#3c4f8a 127.5px,#3c508b 137.5px,#39558c 143.5px,#3e4a89 149.5px,#3e4a89 161.5px,#443b84 169.5px,#424186 180.5px,#443983 187.5px,#443983 195.5px,#453781 201.5px,#424186 210.5px,#463480 216.5px,#414287 223.5px,#46327e 233.5px)"></i>
<i style="top:92px;background:linear-gradient(90deg,#31688e 0.5px,#297a8e 3.5px,#297a8e 10.5px,#2c728e 20.5px,#297a8e 28.5px,#306a8e 35.5px,#2b758e 50.5px,#2c728e 60.5px,#306a8e 67.5px,#2a768e 72.5px,#2f6c8e 77.5px,#355f8d 83.5px,#2e6e8e 93.5px,#38598c 106.5px,#375b8d 112.5px,#404688 128.5px,#3c508b 135.5px,#3d4d8a 146.5px,#424086 156.5px,#414287 163.5px,#433d84 170.5px,#423f85 179.5px,#433e85 184.5px,#423f85 191.5px,#443b84 197.5px,#443983 202.5px,#433e85 210.5px,#463480 216.5px,#443b84 224.5px,#472f7d 233.5px)"></i>
<i style="top:94px;background:linear-gradient(90deg,#33638d 0.5px,#2b758e 4.5px,#306a8e 18.5px,#2b748e 26.5px,#33638d 35.5px,#2c718e 48.5px,#2e6e8e 57.5px,#2e6d8e 63.5px,#31678e 68.5px,#2c718e 73.5px,#33638d 79.5px,#38598c 84.5px,#31668e 94.5px,#39558c 105.5px,#3a548c 113.5px,#414287 126.5px,#3d4e8a 135.5px,#404688 148.5px,#443b84 156.5px,#433e85 165.5px,#443b84 173.5px,#453882 178.5px,#433d84 184.5px,#433e85 196.5px,#453882 203.5px,#443a83 211.5px,#453781 218.5px,#463480 228.5px,#472e7c 233.5px)"></i>
<i style="top:96px;background:linear-gradient(90deg,#34618d 0.5px,#2d708e 4.5px,#31688e 19.5px,#2e6d8e 25.5px,#31678e 38.5px,#31668e 51.5px,#31668e 57.5px,#30698e 63.5px,#32648e 68.5px,#2f6c8e 75.5px,#39558c 96.5px,#39558c 107.5px,#433e85 125.5px,#3e4a89 136.5px,#433d84 157.5px,#433d84 169.5px,#472d7b 177.5px,#463480 185.5px,#443a83 197.5px,#463480 206.5px,#453581 218.5px,#472e7c 229.5px,#472f7d 233.5px)"></i>
<i style="top:98px;background:linear-gradient(90deg,#375b8d 0.5px,#31668e 4.5px,#355f8d 10.5px,#32658e 15.5px,#365c8d 20.5px,#355f8d 27.5px,#34608d 41.5px,#365c8d 52.5px,#31688e 66.5px,#34618d 78.5px,#3d4e8a 93.5px,#3a548c 100.5px,#365c8d 105.5px,#424186 119.5px,#453882 124.5px,#414287 135.5px,#443a83 147.5px,#423f85 158.5px,#453781 170.5px,#472d7b 175.5px,#463480 194.5px,#46327e 202.5px,#46307e 219.5px,#472a7a 227.5px,#472e7c 233.5px)"></i>
<i style="top:100px;background:linear-gradient(90deg,#3d4e8a 0.5px,#375b8d 4.5px,#355e8d 11.5px,#33628d 15.5px,#3b528b 21.5px,#3a548c 33.5px,#3a538b 48.5px,#3b528b 59.5px,#32658e 67.5px,#3f4788 88.5px,#3b528b 97.5px,#3b528b 105.5px,#3f4788 112.5px,#414487 119.5px,#443983 131.5px,#463480 148.5px,#443983 157.5px,#472f7d 164.5px,#472f7d 171.5px,#472f7d 177.5px,#472e7c 194.5px,#472e7c 199.5px,#46327e 210.5px,#482475 223.5px,#472c7a 233.5px)"></i>
<i style="top:102px;background:linear-gradient(90deg,#404588 0.5px,#3b528b 4.5px,#375a8c 14.5px,#414487 29.5px,#3b528b 48.5px,#3e4a89 57.5px,#39558c 68.5px,#3d4d8a 75.5px,#404688 79.5px,#3a538b 96.5px,#443a83 109.5px,#3f4889 117.5px,#46307e 136.5px,#472f7d 157.5px,#482878 164.5px,#472c7a 171.5px,#472c7a 176.5px,#472e7c 182.5px,#472e7c 210.5px,#482374 219.5px,#481f70 224.5px,#472c7a 233.5px)"></i>
<i style="top:104px;background:linear-gradient(90deg,#443a83 0.5px,#404688 4.5px,#3e4989 17.5px,#3f4788 23.5px,#443a83 31.5px,#414287 37.5px,#3b528b 42.5px,#3d4e8a 53.5px,#3f4889 64.5px,#423f85 80.5px,#3b518b 87.5px,#3f4889 99.5px,#453781 107.5px,#414487 117.5px,#463480 127.5px,#472a7a 154.5px,#482475 164.5px,#482677 170.5px,#482475 178.5px,#472f7d 194.5px,#472c7a 205.5px,#482374 217.5px,#481c6e 224.5px,#472a7a 233.5px)"></i>
<i style="top:106px;background:linear-gradient(90deg,#46327e 0.5px,#433d84 4.5px,#424086 17.5px,#443a83 27.5px,#453781 33.5px,#3c4f8a 43.5px,#414487 62.5px,#443b84 70.5px,#443b84 81.5px,#3e4c8a 87.5px,#433d84 101.5px,#463480 108.5px,#443983 118.5px,#472e7c 126.5px,#46337f 135.5px,#472a7a 146.5px,#482071 165.5px,#482071 181.5px,#472c7a 192.5px,#482576 202.5px,#472a7a 209.5px,#481b6d 222.5px,#482677 233.5px)"></i>
<i style="top:108px;background:linear-gradient(90deg,#482878 0.5px,#46337f 5.5px,#453882 22.5px,#443b84 28.5px,#443a83 33.5px,#3e4989 42.5px,#433d84 52.5px,#404588 58.5px,#433e85 65.5px,#453882 71.5px,#46337f 77.5px,#433d84 88.5px,#453781 110.5px,#482878 127.5px,#482878 136.5px,#482576 144.5px,#482878 151.5px,#482173 167.5px,#481d6f 182.5px,#482979 193.5px,#482071 200.5px,#482677 209.5px,#482374 226.5px,#482173 233.5px)"></i>
<i style="top:110px;background:linear-gradient(90deg,#482979 0.5px,#46307e 5.5px,#46307e 17.5px,#46307e 23.5px,#46337f 30.5px,#453882 41.5px,#443983 48.5px,#453781 52.5px,#433e85 59.5px,#433e85 68.5px,#46327e 76.5px,#46337f 102.5px,#463480 108.5px,#472d7b 116.5px,#482374 131.5px,#481f70 168.5px,#481b6d 180.5px,#482878 191.5px,#481f70 201.5px,#481f70 207.5px,#482173 214.5px,#482677 221.5px,#482374 230.5px,#481f70 233.5px)"></i>
<i style="top:112px;background:linear-gradient(90deg,#482576 0.5px,#472a7a 9.5px,#472e7c 16.5px,#482677 22.5px,#472a7a 33.5px,#472f7d 43.5px,#46327e 48.5px,#453882 55.5px,#443b84 70.5px,#472c7a 89.5px,#472c7a 108.5px,#482173 122.5px,#482173 134.5px,#482173 141.5px,#481d6f 151.5px,#481d6f 157.5px,#481769 174.5px,#482071 183.5px,#482576 188.5px,#481a6c 200.5px,#481a6c 212.5px,#482374 219.5px,#481a6c 233.5px)"></i>
<i style="top:114px;background:linear-gradient(90deg,#482374 0.5px,#482071 5.5px,#482475 10.5px,#472d7b 14.5px,#482374 22.5px,#472a7a 30.5px,#472a7a 40.5px,#472d7b 45.5px,#472a7a 51.5px,#453581 58.5px,#443a83 71.5px,#482475 100.5px,#481b6d 121.5px,#481b6d 128.5px,#481b6d 134.5px,#481b6d 147.5px,#481668 160.5px,#481a6c 176.5px,#481f70 187.5px,#481668 196.5px,#471365 211.5px,#481c6e 220.5px,#481467 229.5px,#481a6c 233.5px)"></i>
<i style="top:116px;background:linear-gradient(90deg,#481f70 0.5px,#481c6e 9.5px,#482878 15.5px,#482576 21.5px,#472a7a 29.5px,#482677 38.5px,#482979 44.5px,#482374 50.5px,#46337f 63.5px,#472f7d 75.5px,#482878 90.5px,#481a6c 110.5px,#481769 129.5px,#481769 148.5px,#471365 159.5px,#481a6c 178.5px,#481467 195.5px,#481769 202.5px,#471164 212.5px,#481b6d 221.5px,#481668 228.5px,#481b6d 233.5px)"></i>
<i style="top:118px;background:linear-gradient(90deg,#481b6d 0.5px,#48186a 5.5px,#481b6d 10.5px,#482374 16.5px,#482677 28.5px,#481f70 37.5px,#482374 44.5px,#482071 51.5px,#472d7b 63.5px,#482576 88.5px,#481668 106.5px,#471365 149.5px,#470d60 155.5px,#481467 165.5px,#471365 182.5px,#481668 198.5px,#471164 206.5px,#471164 214.5px,#48186a 221.5px,#481668 229.5px,#48186a 233.5px)"></i>
<i style="top:120px;background:linear-gradient(90deg,#481467 0.5px,#482173 24.5px,#481769 38.5px,#481f70 51.5px,#482173 66.5px,#481d6f 98.5px,#471164 105.5px,#470e61 149.5px,#460a5d 156.5px,#470d60 163.5px,#460b5e 175.5px,#481467 190.5px,#470d60 208.5px,#481668 216.5px,#481467 233.5px)"></i>
<i style="top:122px;background:linear-gradient(90deg,#471063 0.5px,#481b6d 8.5px,#48186a 21.5px,#481a6c 48.5px,#481c6e 61.5px,#481f70 75.5px,#481d6f 94.5px,#471164 109.5px,#470d60 139.5px,#471063 151.5px,#46085c 176.5px,#471063 187.5px,#460b5e 209.5px,#471365 232.5px,#471365 233.5px)"></i>
<i style="top:124px;background:linear-gradient(90deg,#471063 0.5px,#48186a 8.5px,#471365 27.5px,#48186a 39.5px,#481668 46.5px,#481b6d 62.5px,#482374 71.5px,#481c6e 80.5px,#481668 94.5px,#471164 105.5px,#470d60 147.5px,#460b5e 162.5px,#460a5d 178.5px,#460b5e 191.5px,#46085c 210.5px,#471164 224.5px,#471063 233.5px)"></i>
<i style="top:126px;background:linear-gradient(90deg,#460b5e 0.5px,#471164 15.5px,#470d60 28.5px,#481a6c 38.5px,#481769 48.5px,#481a6c 65.5px,#482173 73.5px,#471063 98.5px,#471063 113.5px,#470d60 127.5px,#46085c 148.5px,#460a5d 161.5px,#46085c 181.5px,#460a5d 211.5px,#471063 229.5px,#470e61 233.5px)"></i>
<i style="top:128px;background:linear-gradient(90deg,#460a5d 0.5px,#460b5e 22.5px,#460a5d 28.5px,#481467 39.5px,#481467 58.5px,#481668 67.5px,#481c6e 74.5px,#471164 88.5px,#470e61 108.5px,#460b5e 115.5px,#470d60 123.5px,#46085c 147.5px,#46085c 208.5px,#470e61 230.5px,#460a5d 233.5px)"></i>
<i style="top:130px;background:linear-gradient(90deg,#470d60 0.5px,#470e61 6.5px,#460b5e 27.5px,#471365 56.5px,#481668 77.5px,#460b5e 99.5px,#460a5d 108.5px,#46085c 118.5px,#450559 167.5px,#46075a 214.5px,#460a5d 230.5px,#46075a 233.5px)"></i>
<i style="top:132px;background:linear-gradient(90deg,#470e61 0.5px,#460b5e 7.5px,#46075a 20.5px,#471063 33.5px,#460b5e 46.5px,#470e61 58.5px,#48186a 66.5px,#46085c 100.5px,#46075a 109.5px,#450457 161.5px,#450457 200.5px,#450559 233.5px)"></i>
<i style="top:134px;background:linear-gradient(90deg,#460b5e 0.5px,#450559 21.5px,#470e61 33.5px,#46085c 43.5px,#470e61 58.5px,#481668 64.5px,#46085c 101.5px,#440256 121.5px,#450559 160.5px,#450457 167.5px,#440256 200.5px,#450457 209.5px,#450559 233.5px)"></i>
<i style="top:136px;background:linear-gradient(90deg,#470d60 0.5px,#450559 21.5px,#460a5d 36.5px,#46085c 43.5px,#471063 58.5px,#46085c 91.5px,#450559 101.5px,#450457 131.5px,#440256 153.5px,#450457 163.5px,#440256 211.5px,#450457 233.5px)"></i>
<i style="top:138px;background:linear-gradient(90deg,#460b5e 0.5px,#46085c 11.5px,#450559 22.5px,#460b5e 37.5px,#450559 51.5px,#470e61 61.5px,#46085c 90.5px,#450457 102.5px,#440256 139.5px,#440256 233.5px)"></i>
</div>
<svg width="357" height="515" viewBox="0 0 357 515">
<defs><clipPath id="c0"><rect x="41.00" y="1.50" width="233.20" height="138.25"/></clipPath><clipPath id="c1"><rect x="41.00" y="174.00" width="233.20" height="138.25"/></clipPath><clipPath id="c2"><rect x="41.00" y="346.60" width="233.20" height="138.25"/></clipPath></defs>
<g clip-path="url(#c0)">
<path d="M234.1 2.0L234.5 2.7L234.8 3.0L235.5 3.5L236.5 3.8L237.4 4.0L237.5 4.0L238.5 4.2L239.5 4.4L240.5 4.5L241.5 4.5L242.5 4.5L243.5 4.4L244.5 4.3L245.5 4.3L246.5 4.3L247.5 4.4L248.5 4.4L249.5 4.4L250.5 4.4L251.5 4.4L252.5 4.3L253.5 4.3L254.5 4.4L255.5 4.5L256.5 4.6L257.5 4.8L258.5 4.9L259.5 4.9L260.5 4.7L261.5 4.4L262.5 4.1L262.8 4.0L263.5 3.7L264.5 3.4L265.5 3.2L266.5 3.0L266.6 3.0L267.5 2.8L268.5 2.7L269.5 2.6L270.5 2.5L271.5 2.4L272.5 2.4L273.5 2.5 M226.5 3.9L225.9 4.0L225.5 4.4L225.2 5.0L225.5 5.5L225.7 6.0L226.5 6.3L227.5 6.5L228.5 6.5L229.5 6.4L230.5 6.2L231.2 6.0L231.5 5.9L232.5 5.4L233.5 5.0L233.6 5.0L234.2 4.0L233.5 3.7L232.5 3.6L231.5 3.5L230.5 3.5L229.5 3.5L228.5 3.6L227.5 3.7L226.5 3.9 M111.2 12.0L111.5 12.0L112.5 12.0L112.6 12.0L112.9 13.0L112.5 13.7L112.0 14.0L111.5 14.3L110.5 14.3L109.5 14.1L109.3 14.0L108.5 13.1L108.5 13.0L108.5 13.0L109.5 12.5L110.5 12.2L111.2 12.0 M44.3 16.0L44.5 15.9L45.5 16.0L45.6 16.0L45.5 16.0L44.5 16.1L44.3 16.0 M41.5 27.0L41.7 27.0L42.5 26.8L43.5 26.4L44.5 26.0L44.5 25.9L44.9 25.0L44.7 24.0L44.8 23.0L45.2 22.0L45.5 21.3L45.7 21.0L46.5 20.2L47.3 20.0L47.5 20.0L48.1 20.0L48.5 20.0L49.5 20.2L50.5 20.3L51.5 20.3L52.5 20.3L53.5 20.1L54.0 20.0L54.5 19.8L55.5 19.3L56.0 19.0L56.5 18.4L56.9 18.0L57.5 17.2L57.8 17.0L58.0 16.0L57.6 15.0L57.7 14.0L58.5 13.5L59.5 13.3L60.5 13.3L61.5 13.4L62.5 13.6L63.5 13.8L64.5 13.9L65.4 14.0L65.5 14.0L66.5 14.0L66.8 14.0L67.5 14.0L68.5 13.8L69.5 13.6L70.5 13.3L71.0 13.0L71.5 12.7L72.5 12.1L72.7 12.0L73.5 11.7L74.5 11.5L75.5 11.5L76.5 11.6L77.5 11.8L78.1 12.0L78.5 12.3L79.2 13.0L78.9 14.0L78.5 14.2L77.5 14.7L76.7 15.0L76.5 15.1L75.5 15.3L74.5 15.6L73.5 16.0L73.5 16.0L72.5 16.8L72.4 17.0L72.5 17.1L73.5 17.7L74.2 18.0L74.5 18.0L75.5 18.1L76.5 18.1L76.7 18.0L77.5 17.7L78.5 17.1L78.7 17.0L79.5 16.4L80.4 16.0L80.5 15.9L81.5 15.4L82.5 15.0L82.5 15.0L83.5 14.1L83.6 14.0L84.5 13.3L84.9 13.0L85.5 12.7L86.5 12.2L87.0 12.0L87.5 11.8L88.5 11.7L89.5 11.6L90.5 11.5L91.5 11.5L92.5 11.5L93.5 11.5L94.5 11.5L95.5 11.7L96.5 12.0L96.6 12.0L97.5 12.3L98.5 12.9L98.6 13.0L99.5 13.5L100.3 14.0L100.5 14.1L101.5 14.7L102.2 15.0L102.5 15.1L103.5 15.4L104.5 15.6L105.5 15.8L106.5 15.9L107.2 16.0L107.5 16.0L108.5 16.0L109.2 16.0L109.5 15.9L110.5 15.6L111.5 15.4L112.5 15.2L113.5 15.1L114.5 15.1L115.5 15.1L116.5 15.0L116.5 15.0L117.5 14.8L118.5 14.5L119.5 14.2L119.9 14.0L120.5 13.8L121.5 13.5L122.5 13.5L123.5 13.7L123.9 14.0L124.5 14.3L125.2 15.0L125.5 15.3L126.3 16.0L126.5 16.2L127.5 16.7L128.5 17.0L128.8 17.0L129.5 17.0L130.5 17.0L130.5 17.0L131.5 16.8L132.5 16.5L133.0 16.0L133.5 15.1L133.5 15.0L134.5 14.0L134.5 14.0L135.5 13.6L136.5 13.4L137.5 13.2L138.5 13.2L139.5 13.1L140.5 13.0L140.7 13.0L141.5 12.9L142.5 12.7L143.5 12.6L144.5 12.5L145.5 12.3L146.5 12.2L147.5 12.2L148.5 12.1L149.5 12.1L150.5 12.0L151.5 12.1L152.5 12.1L153.5 12.1L154.5 12.0L155.5 12.0L156.5 12.1L157.5 12.3L158.5 12.4L159.5 12.4L160.5 12.3L161.5 12.1L161.7 12.0L162.5 11.6L163.5 11.2L164.5 11.0L164.8 11.0L165.5 10.9L166.5 10.9L167.5 11.0L168.3 11.0L168.5 11.0L169.5 11.0L169.6 11.0L170.5 10.9L171.5 10.7L172.5 10.5L173.5 10.3L174.5 10.1L175.5 10.0L176.3 10.0L176.5 10.0L176.7 10.0L177.5 10.0L178.5 10.1L179.5 10.2L180.5 10.2L181.5 10.2L182.5 10.1L182.9 10.0L183.5 9.9L184.5 9.7L185.5 9.5L186.5 9.3L187.5 9.2L188.5 9.1L189.5 9.1L190.5 9.1L191.5 9.2L192.5 9.8L192.6 10.0L193.0 11.0L193.5 11.7L193.7 12.0L194.5 12.3L195.5 12.6L196.5 12.7L197.5 12.6L198.5 12.4L199.5 12.1L199.7 12.0L200.5 11.2L201.0 11.0L201.0 10.0L200.7 9.0L201.5 8.9L201.6 9.0L201.9 10.0L202.5 10.3L203.5 10.7L204.5 11.0L204.8 11.0L205.5 11.0L205.8 11.0L206.5 10.9L207.5 10.7L208.5 10.3L209.1 10.0L209.5 9.6L210.1 9.0L210.5 8.5L211.5 8.0L211.9 8.0L212.5 8.0L213.5 8.0L214.3 8.0L214.5 8.0L215.5 8.0L215.5 8.0L216.5 7.9L217.5 7.7L218.5 7.4L219.2 7.0L219.5 6.8L220.5 6.1L220.6 6.0L221.5 5.4L222.2 5.0L222.5 4.8L223.5 4.4L224.3 4.0L224.5 3.7L224.8 3.0L225.5 2.0 M273.5 88.1L272.5 88.8L272.0 89.0L271.5 89.2L270.5 89.4L269.5 89.7L268.5 90.0L268.4 90.0L267.5 90.4L266.5 90.8L265.8 91.0L265.5 91.1L264.5 91.4L263.5 91.5L262.5 91.3L261.7 91.0L261.5 90.9L260.5 90.5L259.6 90.0L259.5 90.0L258.5 89.7L257.5 89.5L256.5 89.4L255.5 89.4L254.5 89.5L253.5 89.7L252.5 90.0L252.5 90.0L251.5 90.6L250.8 91.0L250.5 91.3L249.5 92.0L249.4 92.0L248.5 92.5L247.5 92.6L246.5 92.6L245.5 92.5L244.5 92.4L243.5 92.3L242.5 92.3L241.5 92.3L240.5 92.5L239.5 92.7L238.5 93.0L238.4 93.0L237.5 93.2L236.5 93.2L235.5 93.1L235.0 93.0L234.5 92.8L233.5 92.2L233.2 92.0L232.5 91.3L231.8 91.0L231.5 90.9L230.6 91.0L230.5 91.0L229.5 91.5L228.5 92.0L228.5 92.0L227.5 92.7L227.0 93.0L226.5 93.3L225.5 93.8L224.8 94.0L224.5 94.1L223.5 94.2L222.5 94.0L222.4 94.0L221.5 93.9L220.5 93.8L219.5 93.8L218.5 94.0L218.5 94.0L217.5 95.0L217.5 95.1L217.5 96.0L217.4 97.0L216.5 97.9L216.4 98.0L215.5 98.3L214.5 98.5L213.5 98.7L212.5 98.8L211.5 99.0L210.5 99.0L209.5 98.8L208.5 98.5L207.5 98.3L206.5 98.2L205.5 98.3L204.5 98.5L203.5 98.8L203.0 99.0L202.5 99.3L201.5 99.8L200.7 100.0L200.5 100.2L199.5 100.5L198.5 100.7L197.5 100.7L196.5 100.7L195.5 100.7L194.5 100.9L194.0 101.0L193.5 101.4L192.7 102.0L192.5 102.5L192.3 103.0L191.9 104.0L191.5 104.2L190.5 104.6L189.5 104.8L188.5 104.9L187.5 104.9L186.5 105.0L185.5 105.0L185.5 105.0L184.5 105.2L183.5 105.6L182.9 106.0L182.5 106.2L181.5 106.8L180.9 107.0L180.5 107.1L179.5 107.4L178.5 107.5L177.5 107.7L176.5 107.8L175.5 108.0L175.5 108.0L174.5 108.4L173.6 109.0L173.5 109.0L172.5 109.8L172.3 110.0L171.6 111.0L171.5 111.2L171.0 112.0L170.5 112.5L170.0 113.0L169.5 113.3L168.5 113.7L167.6 114.0L167.5 114.0L166.5 114.3L165.5 114.4L164.5 114.2L164.2 114.0L163.5 113.4L163.3 113.0L162.5 112.5L162.0 112.0L161.5 111.7L160.6 111.0L160.5 110.9L159.5 110.0L159.4 110.0L158.5 109.5L157.5 109.4L156.5 109.5L155.5 109.6L154.5 109.7L153.5 109.8L152.6 110.0L152.5 110.0L151.5 110.4L150.5 110.8L149.9 111.0L149.5 111.2L148.5 111.6L147.5 111.9L147.0 112.0L146.5 112.1L145.5 112.3L144.5 112.5L143.5 112.8L142.8 113.0L142.5 113.4L142.2 114.0L142.2 115.0L142.2 116.0L142.0 117.0L141.5 117.3L140.5 118.0L140.4 118.0L139.5 118.4L138.5 119.0L138.5 119.0L137.5 119.7L137.1 120.0L136.5 120.4L135.5 120.8L135.0 121.0L134.5 121.1L133.5 121.1L132.5 121.1L131.5 121.1L130.5 121.2L129.5 121.3L128.5 121.4L127.5 121.6L126.5 121.6L125.5 121.6L124.5 121.5L123.5 121.3L122.5 121.1L122.1 121.0L121.5 120.9L120.5 120.8L119.5 120.8L118.5 120.8L117.5 120.8L116.5 120.8L115.5 120.8L114.5 120.7L113.5 120.6L112.5 120.6L111.5 120.7L110.5 120.9L110.1 121.0L109.5 121.2L108.5 121.3L107.5 121.4L106.5 121.3L105.5 121.2L104.5 121.1L103.9 121.0L103.5 120.9L102.5 120.3L102.0 120.0L101.5 119.1L100.5 119.1L99.5 119.4L98.5 119.6L97.5 119.9L97.0 120.0L96.5 120.1L95.5 120.5L94.5 120.8L94.1 121.0L94.0 122.0L94.5 122.5L94.9 123.0L95.2 124.0L94.5 124.9L94.4 125.0L93.5 125.4L92.5 125.7L91.5 125.9L90.5 126.0L89.5 126.0L88.5 126.0L87.5 125.9L86.5 125.9L85.5 125.8L84.5 125.7L83.5 125.5L82.5 125.2L81.9 125.0L81.5 124.8L80.5 124.3L80.0 124.0L79.5 123.7L78.5 123.4L77.5 123.3L76.5 123.4L75.6 124.0L75.5 124.2L75.2 125.0L75.1 126.0L74.5 126.6L73.5 127.0L73.2 127.0L72.5 127.1L71.5 127.1L70.5 127.0L70.0 127.0L69.5 127.0L68.5 126.8L67.5 126.6L66.5 126.1L66.4 126.0L65.5 125.6L64.6 125.0L64.5 125.0L63.5 124.6L62.5 124.2L61.8 124.0L61.5 123.9L60.5 123.7L59.5 123.5L58.5 123.6L57.5 123.7L56.5 123.9L56.1 124.0L55.5 124.1L54.5 124.1L53.5 124.1L52.5 124.0L51.5 124.1L50.5 124.2L49.5 124.5L48.5 124.8L48.0 125.0L47.5 125.1L46.5 125.3L45.5 125.5L44.5 125.6L43.5 125.6L42.5 125.6L41.5 125.5 M199.0 103.0L199.5 102.9L200.5 102.9L201.5 103.0L201.6 103.0L202.5 103.5L202.9 104.0L202.5 104.5L202.2 105.0L201.5 105.3L200.5 105.5L199.5 105.7L198.5 105.7L197.5 105.5L196.5 105.2L196.1 105.0L196.5 104.2L196.6 104.0L197.5 103.5L198.5 103.1L199.0 103.0 M130.5 113.9L129.7 114.0L129.5 114.0L128.5 114.3L127.5 114.7L126.7 115.0L126.5 115.1L125.5 115.7L125.0 116.0L125.1 117.0L125.5 117.2L126.5 117.5L127.5 117.6L128.5 117.7L129.5 117.6L130.5 117.5L131.5 117.4L132.5 117.0L132.5 117.0L133.0 116.0L132.7 115.0L132.5 114.7L131.5 114.0L131.4 114.0L130.5 113.9 M59.5 119.0L59.4 119.0L58.5 119.6L58.1 120.0L58.5 120.5L59.5 121.0L60.5 121.0L61.5 120.7L62.5 120.4L63.1 120.0L62.6 119.0L62.5 119.0L61.5 118.9L60.5 118.9L59.5 119.0 M41.5 37.0L41.5 37.0L42.5 36.2L42.8 36.0L43.5 35.6L44.5 35.2L45.5 35.1L46.5 35.1L47.5 35.1L48.3 35.0L48.5 35.0L49.5 34.6L50.5 34.2L51.1 34.0L51.5 33.9L52.5 33.7L53.5 33.6L54.5 33.6L55.5 33.7L56.5 33.8L57.5 33.9L58.5 33.9L59.5 33.8L60.5 33.7L61.5 33.4L62.5 33.2L63.2 33.0L63.5 32.9L64.5 32.8L65.5 32.7L66.5 32.6L67.5 32.4L68.5 32.2L69.3 32.0L69.5 31.9L70.5 31.5L71.5 31.2L72.5 31.1L73.5 31.1L74.5 31.3L75.5 31.5L76.5 31.7L77.5 32.0L77.9 32.0L78.5 32.1L79.5 32.1L79.9 32.0L80.5 31.9L81.5 31.6L82.5 31.2L82.9 31.0L83.5 30.7L84.5 30.4L85.5 30.3L86.5 30.4L87.5 30.5L88.5 30.9L88.8 31.0L89.5 31.3L90.5 31.8L91.0 32.0L91.5 32.2L92.5 32.6L93.5 32.8L94.5 32.8L95.5 32.7L96.5 32.5L97.5 32.3L98.5 32.1L98.8 32.0L99.5 31.8L100.5 31.5L101.5 31.2L102.1 31.0L102.5 30.8L103.5 30.5L104.5 30.2L105.4 30.0L105.5 30.0L106.5 29.8L107.5 29.7L108.5 29.6L109.5 29.6L110.5 29.7L111.5 29.7L112.5 29.8L113.5 29.9L114.5 29.9L115.5 29.8L116.5 29.7L117.5 29.6L118.5 29.3L119.2 29.0L119.5 28.8L120.5 28.5L121.5 28.3L122.5 28.5L123.5 28.6L124.5 28.7L125.5 28.7L126.5 28.7L127.5 28.7L128.5 28.7L129.5 28.7L130.5 28.7L131.5 28.6L132.5 28.4L133.5 28.3L134.5 28.2L135.5 28.1L136.5 28.1L137.5 28.0L138.3 28.0L138.5 28.0L139.5 27.8L140.5 27.6L141.5 27.4L142.5 27.2L143.5 27.0L143.6 27.0L144.5 26.9L145.5 26.8L146.5 26.8L147.5 26.7L148.5 26.6L149.5 26.5L150.5 26.5L151.5 26.5L152.5 26.5L153.5 26.5L154.5 26.5L155.5 26.5L156.5 26.4L157.5 26.3L158.5 26.2L159.3 26.0L159.5 26.0L160.5 25.8L161.5 25.6L162.5 25.5L163.5 25.3L164.5 25.1L165.5 25.0L165.7 25.0L166.5 24.9L167.5 24.9L168.5 24.8L169.5 24.8L170.5 24.8L171.5 24.9L172.5 24.9L173.5 24.9L174.5 24.9L175.5 24.8L176.5 24.7L177.5 24.6L178.5 24.5L179.5 24.4L180.5 24.4L181.5 24.3L182.5 24.3L183.5 24.2L184.5 24.0L184.8 24.0L185.5 23.9L186.5 23.8L187.5 23.6L188.5 23.5L189.5 23.4L190.5 23.3L191.5 23.2L192.5 23.1L192.9 23.0L193.5 22.9L194.5 22.7L195.5 22.5L196.5 22.2L197.4 22.0L197.5 22.0L198.5 21.7L199.5 21.5L200.5 21.3L201.5 21.2L202.5 21.0L202.8 21.0L203.5 20.9L204.5 20.7L205.5 20.3L206.3 20.0L206.5 19.9L207.5 19.6L208.5 19.5L209.5 19.6L210.5 19.7L211.5 19.9L212.5 19.9L213.5 19.9L214.5 19.8L215.5 19.5L216.5 19.3L217.5 19.0L217.6 19.0L218.5 18.9L219.5 19.0L219.8 19.0L220.5 19.1L221.5 19.4L222.5 19.6L223.5 19.7L224.5 19.7L225.5 19.5L226.5 19.2L227.1 19.0L227.5 18.9L228.5 18.6L229.5 18.5L230.5 18.4L231.5 18.3L232.5 18.2L233.3 18.0L233.5 18.0L234.5 17.7L235.5 17.5L236.5 17.4L237.5 17.3L238.5 17.2L239.5 17.2L240.5 17.2L241.5 17.2L242.5 17.2L243.5 17.2L244.5 17.2L245.5 17.1L246.0 17.0L246.5 16.9L247.5 16.7L248.5 16.3L249.1 16.0L249.5 15.9L250.5 15.4L251.5 15.1L251.8 15.0L252.5 14.8L253.5 14.6L254.5 14.5L255.5 14.4L256.5 14.4L257.5 14.5L258.5 14.8L259.2 15.0L259.5 15.1L260.5 15.5L261.5 15.7L262.5 15.9L263.5 15.8L264.5 15.6L265.5 15.2L266.0 15.0L266.5 14.8L267.5 14.6L268.5 14.5L269.5 14.4L270.5 14.4L271.5 14.5L272.5 14.6L273.5 14.8 M273.5 73.4L272.5 73.4L271.5 73.5L270.5 73.6L269.5 73.8L268.5 74.0L268.5 74.0L267.5 74.3L266.5 74.6L265.5 74.8L264.5 75.0L264.5 75.0L263.5 75.1L262.8 75.0L262.5 75.0L261.5 74.8L260.5 74.7L259.5 74.5L258.5 74.4L257.5 74.3L256.5 74.3L255.5 74.4L254.5 74.5L253.5 74.8L252.8 75.0L252.5 75.2L251.5 75.8L251.3 76.0L250.5 77.0L250.5 77.0L250.0 78.0L249.5 78.8L249.3 79.0L248.5 79.6L247.9 80.0L247.5 80.2L246.5 80.6L245.5 81.0L245.4 81.0L244.5 81.1L243.5 81.1L242.6 81.0L242.5 81.0L241.5 80.7L240.5 80.4L239.5 80.2L238.5 80.1L237.5 80.1L236.5 80.1L235.5 80.1L234.5 80.2L233.5 80.3L232.5 80.4L231.5 80.6L230.6 81.0L230.5 81.1L229.5 81.6L228.5 82.0L228.4 82.0L227.5 82.2L226.5 82.3L225.5 82.3L224.5 82.1L224.2 82.0L223.5 81.9L222.5 81.7L221.5 81.6L220.5 81.5L219.5 81.6L218.5 81.7L217.5 81.8L216.5 82.0L216.4 82.0L215.5 82.2L214.5 82.5L213.5 82.8L213.0 83.0L212.5 83.2L211.5 83.4L210.5 83.6L209.5 83.8L208.8 84.0L208.5 84.1L207.5 84.3L206.5 84.6L205.5 84.8L204.5 85.0L204.2 85.0L203.5 85.1L202.5 85.1L201.9 85.0L201.5 85.0L200.5 84.8L199.5 84.7L198.5 84.6L197.5 84.6L196.5 84.8L195.5 85.0L195.4 85.0L194.5 85.5L193.6 86.0L193.5 86.1L192.8 87.0L192.5 87.2L191.5 87.5L190.5 87.9L190.1 88.0L189.5 88.1L188.5 88.4L187.5 88.8L187.2 89.0L186.5 89.2L185.5 89.5L184.5 90.0L184.5 90.0L183.5 90.3L182.5 90.7L181.5 91.0L181.4 91.0L180.5 91.1L179.5 91.2L178.5 91.2L177.5 91.2L176.5 91.2L175.5 91.4L174.5 91.9L174.3 92.0L173.5 92.8L173.3 93.0L172.5 93.4L171.5 93.8L170.5 94.0L170.4 94.0L169.5 94.1L168.5 94.2L167.5 94.2L166.5 94.2L165.5 94.1L164.5 94.1L163.5 94.1L162.5 94.2L161.5 94.3L160.5 94.4L159.5 94.4L158.5 94.4L157.5 94.3L156.5 94.1L155.9 94.0L155.5 93.9L154.5 93.8L153.5 93.7L152.5 93.7L151.5 93.7L150.5 93.8L149.7 94.0L149.5 94.0L148.5 94.3L147.5 94.6L146.5 94.8L145.9 95.0L145.5 95.2L144.5 95.7L143.8 96.0L143.5 96.3L142.7 97.0L142.5 97.6L142.3 98.0L142.5 98.4L142.9 99.0L142.5 99.9L142.4 100.0L141.5 100.2L140.5 100.1L139.5 100.0L139.5 100.0L138.5 99.9L137.5 99.8L136.5 99.8L135.5 99.8L134.5 99.8L133.5 99.7L132.5 99.6L131.5 99.5L130.5 99.5L129.5 99.4L128.5 99.4L127.5 99.4L126.5 99.4L125.5 99.5L124.5 99.5L123.5 99.6L122.5 99.6L121.5 99.7L120.5 99.8L119.5 100.0L119.3 100.0L118.5 100.4L117.8 101.0L117.5 101.3L116.9 102.0L116.5 102.3L115.5 102.9L115.3 103.0L114.5 103.2L113.5 103.3L112.5 103.4L111.5 103.6L110.5 103.7L109.5 103.9L108.5 103.9L107.5 103.8L106.5 103.8L105.5 103.8L104.5 103.8L103.5 103.9L102.9 104.0L102.5 104.1L101.5 104.3L100.5 104.5L99.5 104.7L98.5 105.0L98.3 105.0L97.5 105.3L96.5 105.7L95.9 106.0L95.5 106.1L94.5 106.2L93.5 106.3L92.5 106.1L92.3 106.0L91.5 105.7L90.5 105.5L89.5 105.3L88.5 105.2L87.5 105.1L86.5 105.0L86.2 105.0L85.5 104.9L84.5 104.9L83.5 104.8L82.5 104.8L81.5 104.7L80.5 104.6L79.5 104.6L78.5 104.6L77.5 104.5L76.5 104.4L75.5 104.2L75.0 104.0L74.5 103.9L73.5 103.7L72.5 103.3L71.8 103.0L71.5 102.8L70.5 102.4L69.5 102.1L68.7 102.0L68.5 102.0L68.3 102.0L67.5 102.1L66.5 102.4L65.5 102.8L65.1 103.0L64.5 103.3L63.5 103.6L62.5 103.9L61.5 104.0L61.2 104.0L60.5 104.1L59.5 104.2L58.5 104.3L57.5 104.6L56.5 104.9L56.3 105.0L55.5 105.2L54.5 105.6L53.7 106.0L53.5 106.1L52.5 106.3L51.5 106.5L50.5 106.8L49.5 106.9L48.5 106.9L47.5 106.8L46.5 106.6L45.5 106.4L44.5 106.0L44.4 106.0L43.5 105.4L42.7 105.0L42.5 104.9L41.5 104.5 M41.5 52.3L41.8 52.0L42.5 51.4L42.9 51.0L43.5 50.3L43.8 50.0L44.5 49.2L45.1 49.0L45.5 48.9L46.5 48.7L47.5 48.6L48.5 48.5L49.5 48.4L50.5 48.3L51.5 48.2L52.5 48.0L52.9 48.0L53.5 47.9L54.5 47.9L55.5 47.8L56.5 47.7L57.5 47.7L58.5 47.6L59.5 47.5L60.5 47.4L61.5 47.3L62.5 47.2L63.5 47.1L64.5 47.0L64.6 47.0L65.5 46.9L66.5 46.8L67.5 46.6L68.5 46.5L69.5 46.5L70.5 46.4L71.5 46.4L72.5 46.4L73.5 46.5L74.5 46.6L75.5 46.8L76.5 46.9L77.5 47.0L78.5 47.0L79.5 46.9L80.5 46.8L81.5 46.6L82.5 46.3L83.5 46.0L83.6 46.0L84.5 45.6L85.5 45.2L86.0 45.0L86.5 44.9L87.5 44.6L88.5 44.4L89.5 44.3L90.5 44.2L91.5 44.2L92.5 44.1L93.5 44.0L93.6 44.0L94.5 43.9L95.5 43.6L96.5 43.4L97.5 43.2L98.5 43.1L99.5 43.1L100.5 43.1L101.5 43.2L102.5 43.4L103.5 43.6L104.5 43.7L105.5 43.8L106.5 43.9L107.5 43.9L108.1 44.0L108.5 44.0L109.5 44.1L110.5 44.1L111.5 44.1L112.5 44.1L113.1 44.0L113.5 43.9L114.5 43.7L115.5 43.4L116.5 43.1L116.8 43.0L117.5 42.6L118.5 42.0L118.6 42.0L119.5 41.6L120.5 41.3L121.5 41.2L122.5 41.2L123.5 41.3L124.5 41.2L125.5 41.1L125.9 41.0L126.5 40.8L127.5 40.3L127.9 40.0L128.5 39.7L129.5 39.3L130.5 39.1L131.5 39.0L132.5 39.0L133.5 39.1L134.5 39.1L135.5 39.1L136.5 39.1L137.5 39.2L138.5 39.2L139.5 39.1L140.5 39.1L141.5 39.1L142.2 39.0L142.5 39.0L143.5 38.9L144.5 38.8L145.5 38.7L146.5 38.6L147.5 38.6L148.5 38.7L149.5 38.9L149.9 39.0L150.5 39.2L151.5 39.4L152.5 39.4L153.5 39.2L154.2 39.0L154.5 39.0L155.5 38.7L156.5 38.5L157.5 38.2L158.0 38.0L158.5 37.8L159.5 37.4L160.5 37.0L160.6 37.0L161.5 36.8L162.5 36.7L163.5 36.7L164.5 36.8L165.3 37.0L165.5 37.0L166.5 37.4L167.5 37.6L168.5 37.7L169.5 37.8L170.5 37.8L171.5 37.8L172.5 37.9L173.5 38.0L174.5 38.0L175.5 37.6L176.0 37.0L176.5 36.7L177.5 36.1L177.7 36.0L178.5 35.8L179.5 35.6L180.5 35.4L181.5 35.3L182.5 35.2L183.5 35.1L184.5 35.1L185.5 35.1L186.5 35.2L187.5 35.3L188.5 35.5L189.5 35.7L190.5 35.8L191.5 36.0L192.2 36.0L192.5 36.0L193.5 36.0L193.6 36.0L194.5 35.9L195.5 35.8L196.5 35.6L197.5 35.2L198.1 35.0L198.5 34.9L199.5 34.5L200.5 34.2L201.5 34.0L201.5 34.0L202.5 33.9L203.5 33.8L204.5 33.7L205.5 33.7L206.5 33.7L207.5 33.7L208.5 33.8L209.5 33.9L209.7 34.0L210.5 34.1L211.5 34.4L212.5 34.6L213.5 34.7L214.5 34.6L215.5 34.4L216.5 34.1L216.8 34.0L217.5 33.3L217.9 33.0L217.9 32.0L218.5 31.3L219.1 31.0L219.5 30.9L220.5 30.8L221.5 30.6L222.5 30.5L223.5 30.4L224.5 30.3L225.5 30.3L226.5 30.4L227.5 30.4L228.5 30.3L229.5 30.2L230.5 30.1L230.9 30.0L231.5 29.9L232.5 29.8L233.5 29.6L234.5 29.3L235.5 29.0L235.5 29.0L236.5 28.6L237.5 28.5L238.5 28.6L239.5 28.8L240.2 29.0L240.5 29.1L241.5 29.4L242.5 29.7L243.2 30.0L243.5 30.1L244.5 30.6L245.5 30.9L246.5 31.0L247.5 30.8L248.5 30.4L249.1 30.0L249.5 29.7L250.5 29.0L250.6 29.0L251.5 28.6L252.5 28.4L253.5 28.3L254.5 28.3L255.5 28.3L256.5 28.4L257.5 28.4L258.5 28.5L259.5 28.5L260.5 28.4L261.5 28.2L262.1 28.0L262.5 27.9L263.5 27.7L264.5 27.4L265.5 27.2L266.5 27.0L266.6 27.0L267.5 26.9L268.5 26.8L269.5 27.0L269.6 27.0L270.5 27.4L271.5 27.9L271.7 28.0L272.5 28.2L273.5 28.4 M254.5 56.8L253.8 57.0L254.5 57.3L255.2 57.0L254.5 56.8 M273.5 58.2L272.5 58.0L272.4 58.0L271.5 57.9L270.5 57.9L269.8 58.0L269.5 58.0L268.5 58.2L267.5 58.5L266.5 58.8L265.9 59.0L265.5 59.2L264.5 59.8L264.2 60.0L263.5 60.5L262.8 61.0L262.5 61.2L261.5 61.8L261.0 62.0L260.5 62.2L259.5 62.4L258.5 62.5L257.5 62.6L256.5 62.7L255.5 62.9L254.9 63.0L254.5 63.1L253.5 63.4L252.5 63.8L252.0 64.0L251.5 64.2L250.5 64.7L249.6 65.0L249.5 65.0L248.5 65.3L247.5 65.4L246.5 65.6L245.5 65.7L244.5 65.9L243.9 66.0L243.5 66.1L242.5 66.3L241.5 66.4L240.5 66.6L239.5 66.6L238.5 66.5L237.5 66.3L236.5 66.1L236.0 66.0L235.5 65.9L234.5 65.9L233.5 65.9L232.5 66.0L232.0 66.0L231.5 66.1L230.5 66.3L229.5 66.5L228.5 66.6L227.5 66.6L226.5 66.6L225.5 66.4L224.5 66.2L223.5 66.1L222.5 66.1L221.5 66.1L220.5 66.3L219.5 66.7L218.7 67.0L218.5 67.1L217.5 67.8L217.1 68.0L216.5 68.3L215.5 68.8L215.1 69.0L214.5 69.3L213.5 69.7L212.7 70.0L212.5 70.1L211.5 70.4L210.5 70.7L209.6 71.0L209.5 71.0L208.5 71.3L207.5 71.5L206.5 71.8L206.0 72.0L205.5 72.2L204.5 72.6L203.5 72.9L203.3 73.0L202.5 73.2L201.5 73.4L200.5 73.5L199.5 73.7L198.5 73.8L197.5 74.0L197.5 74.0L196.5 74.2L195.5 74.3L194.5 74.5L193.5 74.8L192.8 75.0L192.5 75.1L191.5 75.4L190.5 75.7L189.6 76.0L189.5 76.0L188.5 76.2L187.5 76.3L186.5 76.3L185.5 76.2L184.6 76.0L184.5 76.0L183.5 75.5L182.5 75.0L182.5 75.0L181.5 74.7L180.5 74.6L179.5 74.6L178.5 74.9L178.3 75.0L177.5 75.7L177.2 76.0L176.5 76.6L175.7 77.0L175.5 77.1L174.5 77.6L173.5 78.0L173.4 78.0L172.5 78.3L171.5 78.4L170.5 78.5L169.5 78.5L168.5 78.5L167.5 78.5L166.5 78.7L165.5 78.9L165.1 79.0L164.5 79.2L163.5 79.6L162.5 80.0L162.5 80.0L161.5 80.3L160.5 80.5L159.5 80.7L158.5 80.9L157.6 81.0L157.5 81.0L156.5 81.2L155.5 81.4L154.5 81.7L153.5 81.9L153.3 82.0L152.5 82.3L151.5 82.6L150.5 82.9L150.0 83.0L149.5 83.1L148.5 83.5L147.5 83.7L146.5 84.0L146.4 84.0L145.5 84.2L144.5 84.4L143.5 84.7L142.5 84.9L142.3 85.0L141.5 85.3L140.5 85.6L139.5 86.0L139.5 86.0L138.5 86.3L137.5 86.6L136.5 86.8L135.5 87.0L135.4 87.0L134.5 87.1L133.5 87.2L132.5 87.2L131.5 87.1L130.9 87.0L130.5 86.9L129.5 86.7L128.5 86.5L127.5 86.2L126.5 86.1L125.9 86.0L125.5 85.9L124.5 85.9L123.5 85.9L122.5 86.0L121.8 86.0L121.5 86.0L120.5 86.0L120.0 86.0L119.5 86.0L118.5 85.8L117.5 85.5L116.5 85.2L115.5 85.3L114.5 85.7L114.1 86.0L113.5 86.3L112.5 86.7L111.6 87.0L111.5 87.0L110.5 87.3L109.5 87.7L108.6 88.0L108.5 88.0L107.5 88.4L106.5 88.7L105.5 88.9L105.2 89.0L104.5 89.1L103.5 89.2L102.5 89.3L101.5 89.2L100.5 89.1L99.5 89.1L98.5 89.0L97.5 89.1L96.5 89.3L95.5 89.6L94.5 89.9L94.2 90.0L93.5 90.2L92.5 90.4L91.5 90.5L90.5 90.6L89.5 90.7L88.5 90.9L87.5 91.0L87.5 91.0L86.5 91.1L85.5 91.2L84.5 91.2L83.5 91.2L82.5 91.1L81.9 91.0L81.5 90.9L80.5 90.7L79.5 90.3L79.1 90.0L78.5 89.8L77.5 89.3L76.8 89.0L76.5 88.9L75.5 88.8L74.5 88.8L73.5 88.9L73.0 89.0L72.5 89.2L71.5 89.7L70.6 90.0L70.5 90.0L69.5 90.3L68.5 90.5L67.5 90.7L66.5 90.8L65.5 90.8L64.5 90.9L63.6 91.0L63.5 91.0L62.5 91.2L61.5 91.5L60.5 91.6L59.5 91.6L58.5 91.5L57.5 91.4L56.5 91.3L55.5 91.3L54.5 91.3L53.5 91.3L52.5 91.3L51.5 91.3L50.5 91.2L49.5 91.2L48.5 91.1L47.7 91.0L47.5 91.0L46.5 90.9L45.5 90.9L44.5 90.7L43.5 90.1L43.3 90.0L42.5 89.6L41.5 89.0 M261.4 36.0L261.5 36.0L262.5 35.9L263.5 35.8L264.5 35.6L265.5 35.5L266.5 35.5L267.5 35.5L268.5 35.5L269.5 35.7L270.5 36.0L270.5 36.0L271.5 36.5L272.4 37.0L272.5 38.0L272.4 39.0L272.5 39.7L272.5 40.0L272.9 41.0L272.5 41.8L272.3 42.0L271.5 42.1L270.5 42.3L269.5 42.4L268.5 42.6L267.5 42.6L266.5 42.7L265.5 42.7L264.5 42.7L263.5 42.7L262.5 42.8L261.5 43.0L261.4 43.0L260.5 43.3L259.5 44.0L259.5 44.0L258.5 44.6L257.7 45.0L257.5 45.1L256.5 45.2L255.8 45.0L255.5 44.8L255.1 44.0L255.2 43.0L255.5 42.7L256.5 42.2L257.5 42.0L257.6 42.0L258.5 41.9L259.5 41.6L260.1 41.0L260.0 40.0L259.5 39.4L259.0 39.0L258.5 38.6L257.5 38.3L256.5 38.1L255.8 38.0L255.5 37.9L254.5 37.0L255.5 36.5L256.5 36.2L257.5 36.2L258.5 36.2L259.5 36.2L260.5 36.1L261.4 36.0 M241.4 38.0L241.5 37.9L242.5 37.7L243.5 37.5L244.5 37.4L245.5 37.4L246.5 37.5L247.5 37.7L248.5 38.0L248.6 38.0L248.5 38.1L248.1 39.0L247.5 39.6L247.1 40.0L246.5 40.6L246.0 41.0L245.5 41.5L244.7 42.0L244.5 42.3L243.5 43.0L243.5 43.0L242.5 43.6L241.7 43.0L241.5 42.9L240.5 42.3L240.2 42.0L239.6 41.0L239.6 40.0L240.1 39.0L240.5 38.6L241.4 38.0 M266.3 46.0L266.5 46.0L266.6 46.0L267.5 46.1L268.5 46.4L269.1 47.0L269.0 48.0L268.5 48.5L268.0 49.0L267.5 49.3L266.5 49.9L266.3 50.0L265.5 50.3L264.5 50.6L263.5 50.8L262.5 50.8L261.5 50.9L260.5 50.8L259.5 50.5L258.6 50.0L258.6 49.0L259.4 48.0L259.5 47.9L260.5 47.3L261.1 47.0L261.5 46.8L262.5 46.5L263.5 46.3L264.5 46.1L265.5 46.0L266.3 46.0 M41.5 57.3L41.7 57.0L42.5 56.4L43.0 56.0L43.5 55.7L44.3 55.0L44.5 54.8L45.5 54.1L45.7 54.0L46.5 53.1L46.6 53.0L47.5 52.4L48.5 52.0L49.2 52.0L49.5 52.0L49.6 52.0L50.5 52.1L51.5 52.4L52.5 52.7L53.4 53.0L53.5 53.0L54.5 53.3L55.5 53.5L56.5 53.7L57.5 53.8L58.5 53.9L59.5 54.0L60.5 54.0L61.5 53.9L62.5 53.7L63.5 53.4L64.5 53.1L64.7 53.0L65.5 52.7L66.5 52.7L67.5 53.0L67.6 53.0L68.5 53.2L69.5 53.3L70.5 53.2L71.5 53.0L71.6 53.0L72.5 52.5L73.3 52.0L73.5 51.8L74.5 51.1L74.9 51.0L75.5 50.9L76.5 50.8L77.5 50.7L78.5 50.7L79.5 50.7L80.5 50.8L81.5 50.8L82.5 50.9L83.5 50.9L84.3 51.0L84.5 51.0L85.5 51.1L86.5 51.1L87.5 51.1L88.5 51.1L89.5 51.0L89.9 51.0L90.5 50.9L91.5 50.7L92.5 50.4L93.5 50.2L94.5 50.1L95.5 50.0L96.5 50.0L97.5 50.1L98.5 50.1L99.5 50.2L100.5 50.2L101.5 50.2L102.5 50.2L103.5 50.2L104.5 50.1L105.5 50.1L106.2 50.0L106.5 50.0L107.5 49.8L108.5 49.6L109.5 49.4L110.5 49.2L111.5 49.0L111.5 49.0L112.5 48.8L113.5 48.6L114.5 48.4L115.5 48.2L116.3 48.0L116.5 48.0L117.5 47.8L118.5 47.8L119.5 47.9L119.7 48.0L120.5 48.2L121.5 48.4L122.5 48.7L123.5 49.0L123.9 49.0L124.5 49.0L124.9 49.0L125.5 48.9L126.5 48.6L127.5 48.3L128.2 48.0L128.5 47.9L129.5 47.4L130.5 47.1L131.0 47.0L131.5 46.8L132.5 46.4L133.5 46.1L133.7 46.0L134.5 45.7L135.5 45.3L136.5 45.0L136.7 45.0L137.5 44.9L138.5 44.9L139.5 44.9L140.5 44.8L141.5 44.6L142.5 44.3L143.5 44.1L144.4 44.0L144.5 44.0L145.5 44.0L146.5 44.0L146.8 44.0L147.5 44.1L148.5 44.2L149.5 44.3L150.5 44.4L151.5 44.5L152.5 44.6L153.5 44.7L154.5 44.7L155.5 44.8L156.5 44.8L157.5 44.9L158.5 44.8L159.5 44.7L160.5 44.5L161.5 44.3L162.5 44.0L162.7 44.0L163.5 43.9L164.5 43.8L165.5 43.7L166.5 43.8L167.5 43.8L168.5 44.0L168.7 44.0L169.5 44.1L170.5 44.3L171.5 44.5L172.5 44.6L173.5 44.6L174.5 44.5L175.5 44.4L176.5 44.2L177.5 44.0L177.5 44.0L178.5 43.9L179.5 43.8L180.5 43.8L181.5 43.7L182.5 43.5L183.5 43.3L184.5 43.0L184.5 43.0L185.5 42.7L186.5 42.4L187.5 42.0L187.5 42.0L188.5 41.4L189.4 41.0L189.5 40.9L190.5 40.5L191.5 40.3L192.5 40.3L193.5 40.4L194.5 40.6L195.5 40.8L196.5 41.0L196.5 41.0L197.5 41.2L198.5 41.3L199.5 41.4L200.5 41.5L201.5 41.5L202.5 41.4L203.5 41.1L203.9 41.0L204.5 40.8L205.5 40.5L206.5 40.7L206.7 41.0L207.5 41.3L208.5 41.8L209.0 42.0L209.5 42.1L210.5 42.3L211.5 42.4L212.5 42.5L213.5 42.4L214.5 42.3L215.5 42.1L215.8 42.0L216.5 41.8L217.5 41.5L218.5 41.3L219.5 41.0L219.7 41.0L220.5 40.8L221.5 40.5L222.5 40.1L222.8 40.0L223.5 39.6L224.5 39.2L224.9 39.0L225.5 38.8L226.5 38.6L227.5 38.4L228.5 38.2L229.2 38.0L229.5 38.0L230.5 37.9L231.5 37.9L232.3 38.0L231.5 38.3L230.6 39.0L230.5 39.0L229.5 39.3L228.5 39.9L228.4 40.0L227.6 41.0L227.5 41.3L227.3 42.0L227.1 43.0L226.8 44.0L226.8 45.0L227.5 45.7L228.5 45.7L229.5 45.4L230.4 45.0L230.5 45.0L231.5 44.7L232.5 44.5L233.5 44.3L234.5 44.3L235.5 44.4L236.5 44.6L237.5 44.8L238.0 45.0L238.5 45.3L239.4 46.0L239.5 46.0L240.5 46.9L240.6 47.0L241.5 47.6L242.0 48.0L242.5 48.7L242.7 49.0L242.9 50.0L242.5 50.4L241.9 51.0L241.5 51.2L240.5 51.6L239.6 52.0L239.5 52.0L238.5 52.4L237.5 52.8L236.5 53.0L236.5 53.0L235.5 53.2L234.5 53.2L233.5 53.1L232.5 53.0L231.5 53.3L231.2 54.0L231.5 54.3L232.5 55.0L232.5 55.0L233.5 55.3L234.5 55.4L235.5 55.6L236.5 55.8L237.2 56.0L237.5 56.2L238.2 57.0L237.5 57.5L236.7 58.0L236.5 58.1L235.5 58.3L234.5 58.4L233.5 58.4L232.5 58.3L231.5 58.2L230.5 58.1L229.9 58.0L229.5 57.9L228.5 57.6L227.5 57.3L226.5 57.0L226.5 57.0L225.5 56.4L224.5 56.1L223.5 56.0L222.5 56.2L221.5 56.5L220.5 56.8L220.2 57.0L219.5 57.5L218.9 58.0L218.5 58.4L218.0 59.0L217.5 59.4L216.5 59.8L215.5 59.9L214.5 59.9L213.5 60.0L213.5 60.0L212.5 60.2L211.5 60.4L210.5 60.8L209.9 61.0L209.5 61.3L208.5 61.9L208.3 62.0L207.6 63.0L207.5 63.2L207.1 64.0L206.5 64.6L205.6 65.0L205.5 65.0L204.7 65.0L204.5 65.0L203.5 64.5L202.7 64.0L202.5 63.8L201.5 63.2L201.1 63.0L200.5 62.8L199.5 62.5L198.5 62.2L197.7 62.0L197.5 62.0L196.5 61.9L196.1 62.0L195.5 62.8L195.5 63.0L195.2 64.0L194.5 65.0L194.5 65.0L193.5 65.7L192.7 66.0L192.5 66.1L191.5 66.3L190.5 66.4L189.5 66.5L188.5 66.5L187.5 66.6L186.5 66.7L185.5 66.8L184.8 67.0L184.5 67.1L183.5 67.4L182.5 67.7L181.5 67.8L180.5 67.9L179.5 67.8L178.5 67.7L177.5 67.7L176.5 67.6L175.5 67.7L174.5 67.8L173.7 68.0L173.5 68.1L172.5 68.7L172.1 69.0L171.5 69.8L171.4 70.0L170.8 71.0L170.5 71.3L169.7 72.0L169.5 72.1L168.5 72.4L167.5 72.5L166.5 72.4L165.5 72.4L164.5 72.4L163.5 72.6L162.5 72.9L162.3 73.0L161.5 73.3L160.5 73.7L159.5 74.0L159.5 74.0L158.5 74.3L157.5 74.5L156.5 74.7L155.5 74.9L155.3 75.0L154.5 75.4L153.6 76.0L153.5 76.1L152.5 76.8L152.1 77.0L151.5 77.2L150.5 77.7L149.7 78.0L149.5 78.1L148.5 78.4L147.5 78.6L146.5 78.8L145.5 78.8L144.5 78.8L143.5 78.6L142.5 78.2L141.9 78.0L141.5 77.9L140.5 77.6L139.5 77.5L138.5 77.4L137.5 77.4L136.5 77.6L135.5 77.9L135.3 78.0L134.5 78.4L133.5 78.8L133.0 79.0L132.5 79.2L131.5 79.4L130.5 79.6L129.5 79.7L128.5 79.8L127.5 79.7L126.5 79.6L125.5 79.5L124.5 79.4L123.5 79.4L122.5 79.4L121.5 79.5L120.5 79.6L119.5 79.7L118.5 79.7L117.5 79.8L116.5 79.8L115.5 79.8L114.5 79.8L113.5 79.8L112.5 79.8L111.5 79.8L110.5 79.8L109.5 79.9L108.5 80.0L108.3 80.0L107.5 80.2L106.5 80.5L105.5 80.7L104.5 80.9L103.6 81.0L103.5 81.0L102.5 81.2L101.5 81.3L100.5 81.5L99.5 81.8L98.8 82.0L98.5 82.1L97.5 82.3L96.5 82.4L95.5 82.4L94.5 82.4L93.5 82.3L92.5 82.3L91.5 82.4L90.5 82.5L89.5 82.7L88.5 82.9L87.8 83.0L87.5 83.1L86.5 83.3L85.5 83.4L84.5 83.5L83.5 83.6L82.5 83.5L81.5 83.5L80.5 83.4L79.5 83.4L78.5 83.3L77.5 83.2L76.5 83.1L75.5 83.1L74.5 83.0L73.5 83.1L72.5 83.2L71.5 83.4L70.5 83.7L69.5 83.9L68.9 84.0L68.5 84.1L67.5 84.2L66.5 84.3L65.5 84.4L64.5 84.4L63.5 84.4L62.5 84.5L61.5 84.5L60.5 84.5L59.5 84.5L58.5 84.5L57.5 84.5L56.5 84.5L55.5 84.6L54.5 84.9L54.2 85.0L53.5 85.2L52.5 85.5L51.5 85.7L50.5 85.9L49.9 86.0L49.5 86.1L48.5 86.1L48.1 86.0L47.5 85.7L47.1 85.0L46.5 84.6L45.8 84.0L45.5 83.9L44.5 83.4L44.2 83.0L43.5 82.5L42.8 82.0L42.5 81.8L41.5 81.0 M41.5 63.1L41.6 63.0L42.1 62.0L42.4 61.0L42.5 60.9L42.9 60.0L43.5 59.1L43.6 59.0L44.5 58.1L45.0 58.0L45.5 57.9L46.5 57.9L47.5 57.9L48.5 57.7L49.5 57.5L50.5 57.3L51.5 57.5L52.5 57.8L53.2 58.0L53.5 58.0L54.5 58.1L55.5 58.1L56.5 58.0L56.9 58.0L57.5 57.9L58.5 57.9L59.5 57.8L60.5 57.9L61.5 58.0L62.5 57.9L63.5 57.8L64.5 57.6L65.5 57.4L66.5 57.2L67.3 57.0L67.5 57.0L68.5 56.7L69.5 56.5L70.5 56.2L71.2 56.0L71.5 55.9L72.5 55.7L73.5 55.5L74.5 55.3L75.5 55.0L75.6 55.0L76.5 54.8L77.5 54.5L78.5 54.1L78.7 54.0L79.5 53.7L80.5 53.5L81.5 53.4L82.5 53.5L83.5 53.8L84.1 54.0L84.5 54.4L85.5 54.8L86.5 55.0L86.5 55.0L87.5 55.1L88.5 55.1L89.5 55.1L90.5 55.1L91.5 55.0L92.3 55.0L92.5 55.0L93.5 54.8L94.5 54.6L95.5 54.2L95.8 54.0L96.5 53.6L97.5 53.1L97.7 53.0L98.5 52.7L99.5 52.5L100.5 52.4L101.5 52.3L102.5 52.3L103.5 52.4L104.5 52.5L105.5 52.6L106.5 52.8L107.5 52.9L108.5 52.9L109.5 52.8L110.5 52.6L111.5 52.3L112.5 52.0L112.6 52.0L113.5 51.9L114.5 51.9L115.5 51.9L116.5 51.9L117.5 51.8L118.5 51.7L119.5 51.7L120.5 51.7L121.5 51.9L122.2 52.0L122.5 52.1L123.5 52.3L124.5 52.5L125.5 52.6L126.5 52.6L127.5 52.6L128.5 52.4L129.5 52.2L130.1 52.0L130.5 51.9L131.5 51.4L132.4 51.0L132.5 50.9L133.5 50.6L134.5 50.3L135.5 50.1L136.2 50.0L136.5 50.0L137.5 49.9L138.5 49.8L139.5 49.8L140.5 49.8L141.5 49.8L142.5 49.9L143.5 49.9L144.5 49.9L145.5 49.9L146.5 49.8L147.5 49.6L148.5 49.4L149.5 49.2L150.5 49.1L151.5 49.4L152.4 50.0L152.5 50.0L153.5 50.5L154.5 50.8L155.5 51.0L156.5 50.9L157.5 50.7L158.5 50.4L159.5 50.0L159.6 50.0L160.5 49.7L161.5 49.4L162.5 49.3L163.5 49.1L164.5 49.1L165.5 49.1L166.5 49.1L167.5 49.3L168.5 49.4L169.5 49.5L170.5 49.6L171.5 49.5L172.5 49.5L173.5 49.4L174.5 49.3L175.5 49.4L176.5 49.6L177.5 49.9L177.9 50.0L178.5 50.2L179.5 50.4L180.5 50.6L181.5 50.8L182.5 50.9L183.4 51.0L183.5 51.0L184.5 51.2L185.5 51.3L186.5 51.4L187.5 51.5L188.5 51.8L189.2 52.0L188.5 52.9L187.5 52.9L186.5 52.7L185.5 52.7L184.6 53.0L184.5 53.0L183.5 53.4L182.5 53.9L182.0 54.0L182.5 54.3L183.4 55.0L183.5 55.0L184.5 55.1L185.5 55.2L186.5 55.3L187.5 55.3L188.5 55.3L189.5 55.4L190.5 55.7L191.2 56.0L191.5 56.2L192.5 56.8L192.8 57.0L192.5 57.2L191.5 57.8L191.3 58.0L190.5 58.2L189.5 58.8L189.3 59.0L188.5 59.6L188.1 60.0L187.5 60.5L186.8 61.0L186.5 61.2L185.5 61.6L184.5 61.8L183.5 61.8L182.5 61.7L181.5 61.5L180.5 61.2L180.0 61.0L179.5 60.8L178.5 60.4L177.5 60.0L177.5 60.0L176.5 59.8L175.5 59.6L174.5 59.6L173.5 59.6L172.5 59.8L172.0 60.0L171.5 60.5L171.2 61.0L171.5 61.6L171.8 62.0L172.5 62.3L173.5 62.6L174.5 62.7L175.5 62.8L176.5 63.0L176.5 63.0L177.3 64.0L176.5 64.3L175.5 64.5L174.5 64.8L173.8 65.0L173.5 65.0L172.5 65.2L171.5 65.4L170.5 65.7L169.5 65.9L169.2 66.0L168.5 66.1L167.5 66.2L166.5 66.1L166.3 66.0L165.5 65.8L164.5 65.6L163.5 65.4L162.5 65.2L161.5 65.1L160.5 65.1L159.5 65.3L158.5 65.7L157.8 66.0L157.5 66.3L156.5 66.9L155.8 67.0L155.5 67.4L154.5 67.2L153.5 67.1L152.5 67.3L151.5 67.7L151.1 68.0L150.5 68.4L149.9 69.0L149.5 69.3L148.7 70.0L148.5 70.2L147.5 70.9L147.4 71.0L146.5 71.5L145.5 71.7L144.5 71.7L143.5 71.6L142.5 71.4L141.5 71.1L141.3 71.0L140.5 70.8L139.5 70.6L138.5 70.5L137.5 70.4L136.5 70.5L135.5 70.7L134.5 70.9L133.5 71.0L133.4 71.0L132.5 71.2L131.5 71.5L130.6 72.0L131.4 73.0L131.5 73.2L132.0 74.0L131.5 74.6L131.0 75.0L130.5 75.1L129.5 75.2L128.5 75.2L127.5 75.0L127.4 75.0L126.5 74.7L125.5 74.5L124.5 74.5L123.5 74.6L122.5 75.0L122.5 75.0L121.5 75.5L120.7 76.0L120.5 76.1L119.5 76.8L119.3 77.0L118.5 77.4L117.5 77.8L116.7 78.0L116.5 78.0L115.5 78.1L114.5 78.2L113.5 78.1L112.5 78.0L112.3 78.0L111.5 77.8L110.5 77.6L109.5 77.4L108.5 77.3L107.5 77.2L106.5 77.1L105.5 77.1L104.5 77.2L103.5 77.3L102.5 77.4L101.5 77.6L100.5 77.6L99.5 77.6L98.5 77.5L97.5 77.3L96.5 77.1L95.7 77.0L95.5 77.0L94.5 76.9L93.7 77.0L93.5 77.0L92.5 77.3L91.5 77.7L91.0 78.0L90.5 78.4L90.0 79.0L89.5 79.4L88.5 80.0L88.4 80.0L87.5 80.2L86.5 80.4L85.5 80.6L84.5 80.7L83.5 80.8L82.5 80.8L81.5 80.6L80.5 80.3L79.6 80.0L79.5 79.9L78.5 79.5L77.5 79.2L76.5 79.0L75.5 79.0L74.5 79.0L73.5 79.0L72.5 79.1L71.5 79.1L70.5 79.2L69.5 79.4L68.5 79.6L67.5 80.0L67.5 80.0L66.5 80.5L65.5 81.0L65.4 81.0L64.5 81.2L63.5 81.3L62.5 81.2L61.5 81.1L60.5 81.0L60.4 81.0L59.5 80.9L58.5 80.7L57.5 80.6L56.5 80.5L55.5 80.5L54.5 80.6L53.5 80.8L52.9 81.0L52.5 81.1L51.5 81.4L50.5 81.7L49.5 81.8L48.5 81.7L47.5 81.6L46.5 81.4L45.5 81.2L44.9 81.0L44.5 80.9L43.7 80.0L43.5 79.7L43.1 79.0L42.6 78.0L42.5 77.8L42.0 77.0L41.5 76.3 M156.4 69.0L156.5 68.9L156.5 69.0L156.5 69.0L156.4 69.0 M41.5 66.0L41.5 66.0L42.5 65.0L42.5 65.0L43.3 64.0L43.5 63.7L43.9 63.0L44.3 62.0L44.5 61.6L45.4 61.0L45.5 61.0L46.5 60.9L47.5 60.9L48.5 60.9L49.5 60.9L50.5 60.9L51.5 60.8L52.5 60.8L53.5 60.7L54.5 60.6L55.5 60.6L56.5 60.5L57.5 60.6L58.5 60.7L59.5 60.9L60.0 61.0L60.5 61.1L61.5 61.2L62.5 61.3L63.5 61.3L64.5 61.1L64.8 61.0L65.5 60.7L66.5 60.0L66.5 60.0L67.5 59.5L68.5 59.0L68.7 59.0L69.5 58.8L70.5 58.7L71.5 58.8L72.5 58.9L73.1 59.0L73.5 59.1L74.5 59.2L75.5 59.2L76.5 59.2L77.5 59.1L78.4 59.0L78.5 59.0L79.5 58.8L80.5 58.6L81.5 58.5L82.5 58.4L83.5 58.4L84.5 58.5L85.5 58.6L86.5 58.7L87.5 58.8L88.5 58.8L89.5 58.8L90.5 58.6L91.5 58.3L92.1 58.0L92.5 57.9L93.5 57.5L94.5 57.1L94.8 57.0L95.5 56.8L96.5 56.7L97.5 56.5L98.5 56.4L99.2 57.0L99.2 58.0L99.4 59.0L99.5 59.1L100.5 59.4L101.5 59.5L102.5 59.6L103.5 59.5L104.5 59.5L105.5 59.5L106.5 59.4L107.5 59.3L108.5 59.1L108.9 59.0L109.5 58.8L110.5 58.5L111.5 58.1L111.8 58.0L112.5 57.6L113.5 57.2L114.2 57.0L114.5 56.9L115.5 56.9L116.5 56.9L117.5 57.0L117.6 57.0L118.5 57.0L119.5 57.1L120.5 57.1L121.5 57.1L122.5 57.1L123.5 57.2L124.5 57.3L125.5 57.5L126.5 57.6L127.5 57.7L128.5 57.7L129.5 57.5L130.5 57.3L131.4 57.0L131.5 56.9L132.5 56.2L132.8 56.0L133.5 55.7L134.5 55.3L135.5 55.0L135.6 55.0L136.5 54.8L137.5 54.6L138.5 54.5L139.5 54.4L140.5 54.2L141.5 54.1L141.8 54.0L142.5 53.9L143.5 53.8L144.5 53.7L145.5 53.6L146.5 53.6L147.5 53.6L148.5 53.5L149.5 53.5L150.5 53.5L151.5 53.5L152.5 53.5L153.5 53.6L154.5 53.7L155.5 53.8L156.5 53.9L157.5 53.8L158.5 53.6L159.5 53.1L159.6 53.0L160.5 52.6L161.5 52.2L162.0 52.0L162.5 51.9L163.5 51.8L164.5 51.8L165.5 51.9L165.8 52.0L166.5 52.2L167.5 52.7L168.1 53.0L168.4 54.0L167.7 55.0L167.5 55.2L166.7 56.0L166.5 56.2L165.5 57.0L165.5 57.0L164.5 57.5L163.5 57.7L162.5 57.8L161.5 57.7L160.5 57.6L159.5 57.4L158.5 57.2L157.7 57.0L157.5 57.0L156.5 56.9L155.5 56.9L154.8 57.0L154.5 57.0L153.5 57.2L152.5 57.4L151.5 57.7L150.9 58.0L150.5 58.5L150.1 59.0L149.5 59.8L149.2 60.0L148.5 60.3L147.5 60.5L146.5 60.6L145.5 60.7L144.5 60.8L143.5 60.8L142.5 60.9L141.5 61.0L141.5 61.0L140.5 61.3L139.5 61.8L139.2 62.0L138.5 62.3L137.5 62.7L136.8 63.0L136.5 63.2L135.5 63.8L135.2 64.0L134.6 65.0L134.6 66.0L134.5 66.8L134.5 67.0L133.5 67.6L132.7 68.0L132.5 68.0L131.5 68.2L130.5 68.3L129.5 68.4L128.5 68.5L127.5 68.6L126.5 68.8L125.5 69.0L125.3 69.0L124.5 69.2L123.5 69.5L122.5 69.9L122.2 70.0L121.5 70.4L120.5 70.9L120.2 71.0L119.5 71.3L118.5 71.6L117.5 71.8L116.5 72.0L116.5 72.0L115.5 72.2L114.5 72.6L113.7 73.0L113.5 73.1L112.5 73.6L111.5 73.9L111.3 74.0L110.5 74.2L109.5 74.3L108.5 74.3L107.5 74.3L106.5 74.3L105.5 74.3L104.5 74.3L103.5 74.4L102.5 74.5L101.5 74.6L100.5 74.6L99.5 74.5L98.5 74.4L97.5 74.3L96.5 74.1L95.5 74.0L95.5 74.0L94.5 74.0L93.5 74.0L93.1 74.0L92.5 74.1L91.5 74.2L90.5 74.5L89.5 74.8L88.9 75.0L88.5 75.2L87.5 75.5L86.5 75.9L86.2 76.0L85.5 76.2L84.5 76.4L83.5 76.3L82.5 76.2L81.9 76.0L81.5 75.9L80.5 75.7L79.5 75.5L78.5 75.3L77.5 75.3L76.5 75.2L75.5 75.3L74.5 75.3L73.5 75.2L72.6 75.0L72.5 75.0L71.5 74.5L70.5 74.1L70.2 74.0L69.5 73.9L68.5 73.9L67.5 73.9L67.0 74.0L66.5 74.1L65.5 74.2L64.5 74.4L63.5 74.7L63.0 75.0L62.5 75.5L62.2 76.0L61.6 77.0L61.5 77.1L60.5 77.8L59.5 77.9L58.5 78.0L57.5 77.9L56.5 77.8L55.5 77.7L54.5 77.7L53.5 77.7L52.5 77.7L51.5 77.8L50.5 77.9L49.5 78.0L49.4 78.0L48.5 78.1L47.8 78.0L47.5 78.0L46.5 77.8L45.5 77.5L44.6 77.0L44.5 77.0L43.9 76.0L43.5 75.3L43.4 75.0L43.0 74.0L42.7 73.0L42.5 72.5L42.3 72.0L41.7 71.0L41.5 70.8 M117.8 60.0L118.5 59.7L119.5 59.4L120.5 59.3L121.5 59.2L122.5 59.3L123.5 59.5L124.5 59.7L125.5 60.0L125.6 60.0L126.5 60.4L127.5 60.8L127.9 61.0L128.5 61.8L128.6 62.0L128.5 62.1L127.5 63.0L127.5 63.0L126.5 63.6L126.0 64.0L125.5 64.3L124.6 65.0L124.5 65.1L123.5 65.8L123.2 66.0L122.5 66.3L121.5 66.6L120.5 66.6L119.5 66.4L118.5 66.0L118.5 66.0L117.5 65.5L116.7 65.0L116.5 64.8L115.5 64.0L115.5 64.0L114.9 63.0L114.7 62.0L115.5 61.2L115.8 61.0L116.5 60.7L117.5 60.2L117.8 60.0 M79.7 61.0L80.5 60.8L81.5 60.5L82.5 60.3L83.5 60.2L84.5 60.2L85.5 60.3L86.5 60.5L87.5 60.7L88.5 60.8L89.5 61.0L89.5 61.0L90.5 61.2L91.5 61.3L92.5 61.3L93.5 61.4L94.5 61.5L95.5 61.6L96.5 61.6L97.5 61.6L98.5 61.6L99.5 61.7L100.5 61.7L101.5 61.7L102.5 61.7L103.5 61.8L104.5 62.0L104.5 62.0L105.5 62.5L106.1 63.0L106.5 63.7L106.7 64.0L107.0 65.0L106.9 66.0L106.5 66.4L105.9 67.0L105.5 67.2L104.5 67.6L103.6 68.0L103.5 68.1L102.5 68.4L101.5 68.8L100.8 69.0L100.5 69.1L99.5 69.7L98.9 70.0L98.5 70.8L98.4 71.0L97.5 71.6L96.5 71.8L95.5 71.8L94.5 71.7L93.5 71.4L92.5 71.1L92.2 71.0L91.5 70.6L90.5 70.1L90.2 70.0L89.5 69.8L88.5 69.6L87.5 69.7L87.3 70.0L86.9 71.0L86.5 71.5L85.8 72.0L85.5 72.1L84.5 72.3L83.5 72.3L82.5 72.1L82.1 72.0L81.5 71.8L80.5 71.6L79.5 71.5L78.5 71.4L77.5 71.4L76.5 71.4L75.5 71.3L74.5 71.2L73.5 71.0L73.3 71.0L72.5 70.9L71.5 70.7L70.5 70.6L69.5 70.6L68.5 70.6L67.5 70.8L66.8 71.0L66.5 71.1L65.5 71.3L64.5 71.5L63.5 71.6L62.5 71.6L61.5 71.6L60.5 71.6L59.5 71.6L58.5 71.6L57.5 71.7L56.5 71.8L55.6 72.0L55.5 72.1L54.9 73.0L54.9 74.0L54.5 74.4L53.5 74.8L52.5 75.0L51.5 75.0L50.5 74.8L49.5 74.6L48.5 74.4L47.5 74.1L47.3 74.0L46.5 73.7L45.5 73.2L45.2 73.0L44.5 72.1L44.5 72.0L44.0 71.0L43.5 70.4L43.1 70.0L42.5 69.3L42.3 69.0L42.3 68.0L42.5 67.6L43.0 67.0L43.5 66.5L44.1 66.0L44.5 65.7L45.5 65.6L46.5 65.8L47.3 66.0L47.5 66.1L48.5 66.2L49.5 66.4L50.5 66.5L51.5 66.5L52.5 66.6L53.5 66.6L54.5 66.6L55.5 66.5L56.5 66.4L57.5 66.3L58.5 66.1L58.8 66.0L59.5 65.6L60.4 65.0L60.5 64.9L61.5 64.5L62.5 64.4L63.5 64.3L64.5 64.3L65.5 64.3L66.5 64.3L67.5 64.1L67.8 64.0L68.5 63.5L68.8 63.0L69.3 62.0L69.5 61.9L70.5 61.3L71.5 61.0L72.5 61.1L73.5 61.2L74.5 61.4L75.5 61.6L76.5 61.6L77.5 61.6L78.5 61.4L79.5 61.1L79.7 61.0" fill="none" stroke="#000" stroke-opacity="0.75" stroke-width="0.6"/>
<line x1="41.0" x2="274.2" y1="125.93" y2="125.93" stroke="#b4b4b4" stroke-opacity="0.85" stroke-width="1"/>
<line x1="41.0" x2="274.2" y1="98.28" y2="98.28" stroke="#b4b4b4" stroke-opacity="0.85" stroke-width="1"/>
<line x1="41.0" x2="274.2" y1="42.98" y2="42.98" stroke="#b4b4b4" stroke-opacity="0.85" stroke-width="1"/>
<line x1="41.0" x2="274.2" y1="15.33" y2="15.33" stroke="#b4b4b4" stroke-opacity="0.85" stroke-width="1"/>
<line x1="87.64" x2="87.64" y1="1.5" y2="139.8" stroke="#b4b4b4" stroke-opacity="0.85" stroke-width="1"/>
<line x1="134.28" x2="134.28" y1="1.5" y2="139.8" stroke="#b4b4b4" stroke-opacity="0.85" stroke-width="1"/>
<line x1="180.92" x2="180.92" y1="1.5" y2="139.8" stroke="#b4b4b4" stroke-opacity="0.85" stroke-width="1"/>
<line x1="227.56" x2="227.56" y1="1.5" y2="139.8" stroke="#b4b4b4" stroke-opacity="0.85" stroke-width="1"/>
<line x1="41.0" x2="274.2" y1="70.62" y2="70.62" stroke="#111" stroke-width="0.9"/>
<line x1="87.64" x2="87.64" y1="1.5" y2="139.8" stroke="#111" stroke-width="1.5"/>
<line x1="41.0" y1="71.45" x2="274.2" y2="43.46" stroke="#d01c10" stroke-width="1.3"/>
</g>
<text class="ann" x="142.2" y="12.8" textLength="117.4" lengthAdjust="spacingAndGlyphs"><tspan font-style="italic">a</tspan><tspan class="s" dy="1.8">1</tspan><tspan dy="-1.8"> = 8.1 ± 1.6, </tspan><tspan font-style="italic">a</tspan><tspan class="s" dy="1.8">0</tspan><tspan dy="-1.8"> = −0.6 ± 2.4</tspan></text>
<rect x="41.00" y="1.50" width="233.20" height="138.25" fill="none" stroke="#000" stroke-width="0.8"/>
<path d="M41.00 139.75h-1.8M41.00 132.84h-1.8M41.00 125.93h-3.0M41.00 119.01h-1.8M41.00 112.10h-1.8M41.00 105.19h-1.8M41.00 98.28h-3.0M41.00 91.36h-1.8M41.00 84.45h-1.8M41.00 77.54h-1.8M41.00 70.62h-3.0M41.00 63.71h-1.8M41.00 56.80h-1.8M41.00 49.89h-1.8M41.00 42.98h-3.0M41.00 36.06h-1.8M41.00 29.15h-1.8M41.00 22.24h-1.8M41.00 15.33h-3.0M41.00 8.41h-1.8M41.00 1.50h-1.8M41.00 139.75v3.0M64.32 139.75v1.8M87.64 139.75v3.0M110.96 139.75v1.8M134.28 139.75v3.0M157.60 139.75v1.8M180.92 139.75v3.0M204.24 139.75v1.8M227.56 139.75v3.0M250.88 139.75v1.8M274.20 139.75v3.0" stroke="#000" stroke-width="0.7"/>
<text class="tl" x="33.6" y="19.33" text-anchor="end">40</text>
<text class="tl" x="33.6" y="46.98" text-anchor="end">20</text>
<text class="tl" x="33.6" y="74.62" text-anchor="end">0</text>
<text class="tl" x="33.6" y="102.28" text-anchor="end"><tspan font-size="10.5px">−</tspan><tspan dx="0.6">20</tspan></text>
<text class="tl" x="33.6" y="129.93" text-anchor="end"><tspan font-size="10.5px">−</tspan><tspan dx="0.6">40</tspan></text>
<text class="lab" x="10.7" y="70.62" font-size="11px" text-anchor="middle" transform="rotate(-90 10.7 70.62)"><tspan font-style="italic">v</tspan><tspan font-size="8.4px" font-style="italic" dy="2.2">rad,x'</tspan><tspan dy="-2.2" dx="0.8">[kms</tspan><tspan font-size="7.6px" dy="-3.6">−1</tspan><tspan dy="3.6">]</tspan></text>
<text class="lab" x="156.4" y="157.70" font-size="10.6px" text-anchor="middle">|<tspan font-style="italic">x'</tspan>| [kpc]</text>
<path d="M281.8 139.8 L281.8 139.8 L281.8 138.0 L281.8 138.0 L281.8 134.6 L281.8 134.6 L281.8 131.1 L281.8 131.1 L281.8 127.7 L281.8 127.7 L281.8 124.2 L281.8 124.2 L281.8 120.7 L281.8 120.7 L281.8 117.3 L281.8 117.3 L281.8 113.8 L281.8 113.8 L281.8 110.4 L282.5 110.4 L282.5 106.9 L283.4 106.9 L283.4 103.5 L285.0 103.5 L285.0 100.0 L286.7 100.0 L286.7 96.5 L289.2 96.5 L289.2 93.1 L292.6 93.1 L292.6 89.6 L295.1 89.6 L295.1 86.2 L298.5 86.2 L298.5 82.7 L305.2 82.7 L305.2 79.3 L310.3 79.3 L310.3 75.8 L319.1 75.8 L319.1 72.4 L328.6 72.4 L328.6 68.9 L332.8 68.9 L332.8 65.4 L337.3 65.4 L337.3 62.0 L338.8 62.0 L338.8 58.5 L338.8 58.5 L338.8 55.1 L338.3 55.1 L338.3 51.6 L337.3 51.6 L337.3 48.2 L335.6 48.2 L335.6 44.7 L332.1 44.7 L332.1 41.2 L323.9 41.2 L323.9 37.8 L316.4 37.8 L316.4 34.3 L306.6 34.3 L306.6 30.9 L298.9 30.9 L298.9 27.4 L293.3 27.4 L293.3 24.0 L288.4 24.0 L288.4 20.5 L285.6 20.5 L285.6 17.1 L283.5 17.1 L283.5 13.6 L281.8 13.6 L281.8 10.1 L281.8 10.1 L281.8 6.7 L281.8 6.7 L281.8 3.2 L281.8 3.2 L281.8 1.5 L281.8 1.5 Z" fill="#808080"/>
<line x1="281.8" x2="354.7" y1="125.93" y2="125.93" stroke="#b4b4b4" stroke-opacity="0.85" stroke-width="1"/>
<line x1="281.8" x2="354.7" y1="98.28" y2="98.28" stroke="#b4b4b4" stroke-opacity="0.85" stroke-width="1"/>
<line x1="281.8" x2="354.7" y1="42.98" y2="42.98" stroke="#b4b4b4" stroke-opacity="0.85" stroke-width="1"/>
<line x1="281.8" x2="354.7" y1="15.33" y2="15.33" stroke="#b4b4b4" stroke-opacity="0.85" stroke-width="1"/>
<path d="M281.8 117.3 L282.5 117.3 L282.5 113.8 L284.2 113.8 L284.2 110.4 L285.9 110.4 L285.9 106.9 L288.4 106.9 L288.4 103.5 L290.9 103.5 L290.9 100.0 L296.0 100.0 L296.0 96.5 L299.4 96.5 L299.4 93.1 L302.8 93.1 L302.8 89.6 L307.8 89.6 L307.8 86.2 L316.2 86.2 L316.2 82.7 L323.4 82.7 L323.4 79.3 L335.5 79.3 L335.5 75.8 L345.9 75.8 L345.9 72.4 L351.1 72.4 L351.1 68.9 L351.1 68.9 L351.1 65.4 L344.4 65.4 L344.4 62.0 L338.3 62.0 L338.3 58.5 L331.8 58.5 L331.8 55.1 L320.9 55.1 L320.9 51.6 L316.0 51.6 L316.0 48.2 L310.3 48.2 L310.3 44.7 L304.3 44.7 L304.3 41.2 L297.5 41.2 L297.5 37.8 L293.3 37.8 L293.3 34.3 L289.8 34.3 L289.8 30.9 L286.3 30.9 L286.3 27.4 L284.8 27.4 L284.8 24.0 L283.8 24.0 L283.8 20.5 L282.8 20.5 L282.8 17.1 L282.1 17.1 L282.1 13.6 L281.8 13.6" fill="none" stroke="#ff0000" stroke-width="1"/>
<line x1="281.8" x2="354.7" y1="70.62" y2="70.62" stroke="#000" stroke-width="0.9"/>
<line x1="281.8" x2="354.7" y1="57.91" y2="57.91" stroke="#000" stroke-width="1.6" stroke-dasharray="4.7 2.6"/>
<line x1="281.8" x2="354.7" y1="68.55" y2="68.55" stroke="#f00" stroke-width="1.6" stroke-dasharray="4.7 2.6"/>
<rect x="281.80" y="1.50" width="72.90" height="138.25" fill="none" stroke="#000" stroke-width="0.8"/>
<path d="M281.80 139.75h-1.8M281.80 132.84h-1.8M281.80 125.93h-3.0M281.80 119.01h-1.8M281.80 112.10h-1.8M281.80 105.19h-1.8M281.80 98.28h-3.0M281.80 91.36h-1.8M281.80 84.45h-1.8M281.80 77.54h-1.8M281.80 70.62h-3.0M281.80 63.71h-1.8M281.80 56.80h-1.8M281.80 49.89h-1.8M281.80 42.98h-3.0M281.80 36.06h-1.8M281.80 29.15h-1.8M281.80 22.24h-1.8M281.80 15.33h-3.0M281.80 8.41h-1.8M281.80 1.50h-1.8" stroke="#000" stroke-width="0.7"/>
<text x="345.6" y="3.7" font-size="9.3px" transform="rotate(90 345.6 3.7)" dx="0" dy="0">9.20 ± 0.10</text>
<text x="335.8" y="4.9" font-size="9.3px" style="fill:#f00" transform="rotate(90 335.8 4.9)">1.50 ± 0.20</text>
<g clip-path="url(#c1)">
<path d="M129.4 197.5L129.5 197.3L130.5 196.7L131.5 197.2L131.9 197.5L131.5 197.8L130.5 197.9L129.5 197.6L129.4 197.5 M41.5 206.2L42.5 205.7L42.9 205.5L43.5 205.0L44.5 204.6L44.9 204.5L45.5 204.3L46.5 204.0L47.5 203.8L48.5 203.6L48.8 203.5L49.5 203.3L50.5 203.1L51.5 202.9L52.5 202.6L53.1 202.5L53.5 202.4L54.5 202.3L55.5 202.2L56.5 202.3L57.5 202.4L58.5 202.4L59.5 202.5L60.5 202.4L61.5 202.3L62.5 202.1L63.5 201.9L64.5 201.7L65.5 201.6L66.1 201.5L66.5 201.5L67.5 201.5L68.3 201.5L68.5 201.5L69.5 201.6L70.5 201.6L71.5 201.6L72.5 201.5L72.6 201.5L73.5 201.3L74.5 201.1L75.5 200.9L76.5 200.7L77.5 200.6L78.5 200.7L79.5 200.8L80.5 201.0L81.5 201.2L82.4 201.5L82.5 201.5L83.5 201.8L84.5 201.9L85.5 202.0L86.5 202.0L87.5 201.9L88.5 201.8L89.5 201.6L90.5 201.5L91.2 201.5L91.5 201.5L92.4 201.5L92.5 201.5L93.5 201.6L94.5 201.6L95.5 201.7L96.5 201.7L97.5 201.8L98.5 201.8L99.5 201.9L100.5 202.1L101.5 202.2L102.5 202.2L103.5 202.2L104.5 202.2L105.5 202.1L106.5 202.1L107.5 202.0L108.5 202.0L109.5 201.9L110.5 201.9L111.5 201.7L112.5 201.6L112.7 201.5L113.5 201.2L114.5 200.9L115.3 200.5L115.5 200.4L116.5 199.9L117.5 199.6L117.7 199.5L118.5 199.3L119.5 199.1L120.5 199.0L121.5 199.0L122.5 199.1L123.5 199.4L123.7 199.5L124.5 199.8L125.5 200.0L126.5 200.1L127.5 200.0L128.5 199.9L129.5 199.7L130.5 199.6L131.5 199.6L132.5 199.7L133.5 200.5L133.5 200.5L134.5 201.2L134.8 201.5L135.5 201.8L136.5 202.1L137.5 202.3L138.5 202.4L139.5 202.4L140.5 202.2L141.4 201.5L141.5 201.3L142.2 200.5L142.5 200.4L143.5 200.3L144.5 200.4L145.5 200.5L145.5 200.5L146.5 200.6L147.5 200.6L148.5 200.6L149.5 200.6L150.5 200.6L151.5 200.6L152.5 200.7L153.5 200.8L154.5 201.0L155.5 201.1L156.5 201.3L157.3 201.5L157.5 201.6L158.4 202.5L158.5 203.5L158.5 203.7L158.7 204.5L159.5 205.4L159.7 205.5L160.5 206.2L161.1 206.5L160.9 207.5L160.6 208.5L161.5 208.6L161.7 208.5L162.5 208.0L163.3 207.5L163.5 207.3L164.5 206.6L164.8 206.5L165.5 206.3L166.5 206.0L167.5 205.9L168.5 206.0L169.4 206.5L169.5 206.5L170.5 206.7L171.5 207.0L172.5 207.2L173.5 207.5L173.6 207.5L174.5 207.7L175.5 207.9L176.5 208.1L177.5 208.2L178.5 208.1L179.5 207.6L179.6 207.5L180.5 206.6L180.6 206.5L181.5 205.7L182.5 205.6L183.5 205.7L184.5 206.2L185.0 206.5L185.5 207.3L185.6 207.5L186.5 208.4L186.7 208.5L187.5 208.9L188.5 209.3L189.1 209.5L189.5 209.6L190.5 209.9L191.5 210.1L192.5 210.4L192.7 210.5L193.5 210.8L194.5 211.2L195.3 211.5L195.5 211.6L196.5 211.9L197.5 212.3L198.2 212.5L198.5 212.7L199.5 213.2L200.0 213.5L200.3 214.5L199.9 215.5L200.5 216.5L200.5 216.5L201.5 217.1L202.5 217.5L202.6 217.5L203.5 217.6L204.5 217.6L205.5 217.5L205.6 217.5L206.5 217.2L207.5 216.6L207.6 216.5L208.4 215.5L208.5 215.4L209.5 214.7L209.9 214.5L210.5 214.3L211.5 214.2L212.5 214.2L213.5 214.4L213.7 214.5L214.5 214.9L215.2 215.5L215.5 215.7L216.5 216.3L216.9 216.5L217.5 216.8L218.5 217.2L219.4 217.5L219.5 217.5L220.5 217.9L221.5 218.1L222.5 218.3L223.5 218.5L223.8 218.5L224.5 218.6L225.5 218.7L226.5 218.7L227.5 218.7L228.5 218.8L229.5 219.0L230.5 219.3L231.1 219.5L231.5 219.6L232.5 220.0L233.5 220.2L234.5 220.5L234.7 220.5L235.5 220.8L236.5 221.0L237.5 221.2L238.5 221.2L239.5 221.3L240.5 221.4L240.9 221.5L240.5 221.7L239.5 221.9L238.5 221.9L237.5 222.1L236.9 222.5L236.5 223.0L236.3 223.5L236.5 223.8L236.9 224.5L237.4 225.5L237.3 226.5L237.2 227.5L237.4 228.5L237.5 228.6L238.5 229.3L238.8 229.5L239.5 229.8L240.5 230.2L241.0 230.5L241.5 231.3L241.6 231.5L241.5 231.7L241.1 232.5L240.5 233.1L240.1 233.5L239.5 234.2L239.1 234.5L239.5 235.0L240.5 235.3L241.5 235.2L242.5 235.0L243.5 234.8L244.5 234.5L244.7 234.5L245.5 234.2L246.5 233.9L247.5 233.7L248.4 233.5L248.5 233.4L249.5 233.3L250.0 233.5L250.5 233.6L251.5 234.5L251.5 234.5L252.5 235.5L252.5 235.5L253.5 236.3L253.8 236.5L254.5 236.9L255.5 237.3L255.8 237.5L256.5 238.1L256.9 238.5L256.6 239.5L256.5 239.6L255.5 240.1L254.5 240.4L253.8 240.5L253.5 240.6L253.1 240.5L252.5 240.4L251.5 240.1L250.5 239.9L249.5 240.1L248.7 240.5L248.5 240.6L247.5 241.4L247.4 241.5L246.5 241.9L245.5 242.2L244.7 242.5L244.5 242.6L243.5 242.9L242.5 243.3L242.0 243.5L241.5 243.8L240.5 244.3L239.9 244.5L239.5 244.9L238.5 245.5L239.4 246.5L239.5 246.5L240.5 246.9L241.5 247.3L241.8 247.5L242.5 248.0L243.2 248.5L243.5 248.8L244.5 249.3L244.9 249.5L245.5 249.7L246.5 249.8L247.5 249.9L248.5 250.0L249.5 250.0L250.5 250.0L251.5 249.8L252.1 249.5L252.5 248.9L252.7 248.5L252.6 247.5L252.5 247.2L252.3 246.5L251.9 245.5L251.9 244.5L252.5 243.9L253.5 243.9L254.5 244.2L255.3 244.5L255.5 244.6L256.5 245.0L257.5 245.2L258.5 245.4L259.0 245.5L259.5 245.6L260.5 246.0L261.2 246.5L261.3 247.5L261.2 248.5L261.4 249.5L261.5 249.6L262.5 250.3L263.0 250.5L263.5 250.7L264.5 250.9L265.5 251.1L266.5 251.3L267.5 251.5L267.5 251.5L268.5 252.5L268.0 253.5L267.5 253.8L266.5 254.2L265.7 254.5L265.5 254.5L264.5 254.7L263.5 254.8L262.5 255.0L261.5 255.4L261.2 255.5L260.5 255.8L259.5 256.3L259.2 256.5L258.5 256.8L257.5 257.2L256.9 257.5L256.5 257.6L255.5 258.1L254.8 258.5L254.5 258.7L253.5 259.4L253.3 259.5L252.5 260.0L251.7 260.5L251.5 260.6L250.5 260.8L249.5 261.0L248.5 261.3L247.6 261.5L247.5 261.5L246.5 261.6L245.5 261.6L245.3 261.5L245.5 261.2L245.8 260.5L246.5 259.7L246.6 259.5L247.1 258.5L247.3 257.5L247.5 256.6L248.5 256.6L249.5 256.5L249.5 256.5L249.5 256.4L248.5 256.3L247.5 256.5L247.4 256.5L246.5 256.8L245.5 256.8L244.5 256.9L243.5 257.0L242.5 257.2L241.7 257.5L241.5 257.6L240.5 258.1L239.8 258.5L239.5 258.7L238.5 259.1L237.5 259.4L237.1 259.5L236.5 259.6L235.5 259.7L234.5 259.8L233.5 259.8L232.5 259.9L231.5 260.0L230.5 260.2L229.8 260.5L229.5 260.7L228.5 261.4L228.2 261.5L227.7 262.5L228.5 262.9L229.5 263.2L230.5 263.4L231.5 263.4L232.5 263.4L233.5 263.2L234.5 263.1L235.5 263.0L236.5 263.0L237.5 263.1L238.5 263.2L239.5 263.3L240.5 263.3L241.5 263.3L242.5 263.4L242.7 263.5L242.8 264.5L242.5 265.0L242.2 265.5L241.5 266.0L240.5 266.5L240.4 266.5L239.5 266.8L238.5 267.2L237.5 267.4L236.9 267.5L236.5 267.6L235.5 267.7L234.5 267.9L233.5 268.2L232.6 268.5L232.5 268.5L231.5 268.8L230.5 268.9L229.5 268.9L228.5 268.8L227.6 268.5L227.5 268.5L226.5 268.0L225.5 267.7L224.8 267.5L224.5 267.4L223.5 267.3L222.5 267.3L221.5 267.4L221.1 267.5L220.5 267.6L219.5 268.1L218.9 268.5L218.5 268.8L217.5 269.5L217.5 269.5L216.5 270.2L215.6 270.5L215.5 270.6L214.5 270.8L213.5 270.9L212.5 270.9L211.5 270.5L211.5 270.5L210.5 269.5L210.5 269.4L210.2 268.5L209.7 267.5L209.5 267.4L208.5 267.0L207.5 266.9L206.5 266.9L205.5 267.0L204.5 267.2L203.5 267.5L203.4 267.5L202.6 268.5L202.5 268.9L202.3 269.5L201.6 270.5L201.5 271.1L201.4 271.5L201.5 271.7L202.1 272.5L202.5 273.0L202.9 273.5L202.9 274.5L202.5 275.1L202.1 275.5L201.5 275.9L200.5 276.2L199.5 276.4L198.6 276.5L198.5 276.5L197.5 276.5L197.3 276.5L196.5 276.4L195.5 275.9L195.1 275.5L194.5 274.8L194.3 274.5L193.7 273.5L193.5 273.3L192.5 272.7L191.5 272.7L190.5 272.8L189.5 273.1L188.5 273.4L188.2 273.5L187.5 274.0L187.0 274.5L187.0 275.5L186.9 276.5L186.5 277.3L186.4 277.5L185.8 278.5L186.2 279.5L186.5 279.8L187.3 280.5L186.9 281.5L186.5 281.6L185.5 281.8L184.5 281.9L183.5 282.1L182.5 282.2L181.5 282.5L181.5 282.5L180.5 282.9L179.5 283.5L179.4 283.5L178.5 284.1L177.9 284.5L177.5 284.7L176.5 284.9L175.5 284.8L174.7 284.5L174.5 284.2L174.2 283.5L174.0 282.5L173.5 281.8L173.3 281.5L172.5 281.0L171.5 280.5L171.4 280.5L170.5 280.4L169.5 280.3L168.5 280.3L167.5 280.3L166.5 280.3L165.5 280.4L164.5 280.5L164.1 280.5L163.5 280.7L162.5 281.1L161.6 281.5L162.4 282.5L162.5 282.5L163.5 282.9L164.5 283.5L164.5 283.5L165.5 284.3L165.8 284.5L166.2 285.5L165.5 286.4L165.4 286.5L164.5 287.0L163.5 287.4L163.1 287.5L162.5 287.6L161.5 287.7L160.5 287.6L160.1 287.5L159.5 287.3L158.5 286.6L158.4 286.5L157.9 285.5L157.6 284.5L157.5 284.2L157.0 283.5L156.5 283.3L155.5 283.0L154.5 283.0L153.5 283.0L152.5 283.0L151.5 283.1L150.5 283.1L149.5 283.1L148.5 282.9L147.5 282.8L146.5 282.7L145.5 282.6L144.5 282.7L143.5 282.9L142.5 283.3L142.3 283.5L141.5 284.5L141.5 284.5L141.1 285.5L140.7 286.5L140.5 286.7L139.5 287.1L138.5 287.2L137.5 287.1L136.5 287.1L135.5 287.2L134.7 287.5L134.5 287.6L133.5 287.9L132.5 288.1L131.5 288.2L130.5 288.3L129.5 288.4L128.5 288.5L128.1 288.5L127.5 288.5L126.5 288.6L125.5 288.7L124.5 288.9L123.5 289.0L122.5 289.1L121.5 289.1L120.5 289.2L119.5 289.3L118.5 289.5L118.2 289.5L117.5 289.6L116.5 289.8L115.5 290.1L114.5 290.3L113.9 290.5L113.5 290.6L112.5 290.7L111.5 290.8L110.5 290.8L109.5 290.7L108.5 290.5L108.5 290.5L107.5 290.1L106.5 289.6L106.3 289.5L105.5 288.9L104.9 288.5L104.5 288.3L103.5 287.9L102.5 287.6L102.2 287.5L101.5 287.3L100.5 287.0L99.5 286.7L99.0 286.5L98.5 286.3L97.5 286.1L96.5 286.0L95.5 286.0L94.5 286.1L93.5 286.3L92.5 286.5L92.4 286.5L91.5 286.8L90.5 287.1L89.5 287.3L88.5 287.4L87.5 287.4L86.5 287.3L85.5 287.1L84.5 286.8L83.8 286.5L83.5 286.4L82.5 286.0L81.5 285.7L80.5 285.6L79.9 285.5L79.5 285.5L78.5 285.5L78.5 285.5L77.5 285.7L76.5 286.0L75.5 286.3L75.0 286.5L74.5 286.6L73.5 286.8L72.5 286.9L71.5 287.0L70.5 287.0L69.5 286.9L68.5 286.8L67.5 286.6L67.3 286.5L66.5 286.1L65.6 285.5L65.5 285.4L64.5 284.9L63.5 284.7L62.5 284.7L61.5 284.8L60.5 284.9L59.5 285.1L58.5 285.3L57.7 285.5L57.5 285.5L56.5 285.7L55.5 285.8L54.5 285.9L53.5 285.7L52.9 285.5L52.5 285.3L51.5 284.7L51.2 284.5L50.5 284.2L49.5 284.0L48.5 283.9L47.5 283.9L46.5 284.1L45.5 284.4L45.1 284.5L44.5 284.7L43.5 285.0L42.5 284.6L42.3 284.5L41.5 283.7 M210.5 220.5L210.5 220.5L209.5 221.5L210.2 222.5L210.5 222.7L211.5 223.2L212.5 223.4L213.5 223.2L214.5 222.6L214.6 222.5L215.0 221.5L214.5 220.8L214.1 220.5L213.5 220.4L212.5 220.3L211.5 220.3L210.5 220.5 M251.4 228.5L251.5 228.4L252.5 227.8L253.5 227.7L254.5 227.9L255.5 228.3L255.7 228.5L256.3 229.5L256.5 230.5L256.1 231.5L255.5 231.9L254.5 232.1L253.5 232.2L252.5 232.2L251.5 232.2L250.5 231.9L250.2 231.5L250.0 230.5L250.4 229.5L250.5 229.4L251.4 228.5 M250.5 255.5L249.8 255.5L250.5 255.8L251.3 255.5L250.5 255.5 M41.5 214.0L42.1 213.5L42.4 212.5L42.5 212.2L42.6 211.5L43.5 210.6L43.7 210.5L44.5 210.3L45.5 210.4L46.3 210.5L46.5 210.5L47.5 210.9L48.5 211.4L48.7 211.5L49.5 211.8L50.5 212.1L51.5 212.5L51.6 212.5L52.5 212.7L53.5 213.0L54.5 213.3L55.1 213.5L55.5 213.6L56.5 213.9L57.5 214.1L58.5 214.2L59.5 214.1L60.5 213.9L61.5 213.6L62.2 213.5L62.5 213.4L63.5 213.4L63.8 213.5L64.5 213.6L65.5 213.9L66.5 214.2L67.4 214.5L67.5 214.5L68.5 214.7L69.5 214.8L70.5 214.9L71.5 215.0L72.5 215.1L73.5 215.1L74.5 215.0L75.5 214.9L76.5 214.7L77.5 214.5L77.6 214.5L78.5 214.3L79.5 214.0L80.5 213.6L81.0 213.5L81.5 213.4L82.5 213.2L83.5 213.1L84.5 213.1L85.5 213.2L86.5 213.3L87.5 213.4L88.5 213.4L89.1 213.5L89.5 213.5L90.5 213.7L91.5 213.9L92.5 214.2L93.2 214.5L93.5 214.7L94.5 215.4L94.6 215.5L95.5 215.9L96.5 216.2L97.5 216.5L97.5 216.5L98.5 216.5L98.6 216.5L99.5 216.3L100.5 215.7L100.8 215.5L101.3 214.5L101.5 214.1L101.9 213.5L102.5 213.2L103.5 212.9L104.5 212.8L105.5 212.8L106.5 212.8L107.5 212.9L108.5 213.0L109.5 213.2L110.5 213.3L111.5 213.5L111.6 213.5L112.5 213.8L113.5 214.1L114.5 214.5L114.5 214.5L115.5 215.2L116.2 215.5L116.5 215.6L117.5 215.9L118.5 216.0L119.5 216.2L120.5 216.4L120.8 216.5L121.5 216.6L122.5 216.8L123.5 217.2L124.4 217.5L124.5 217.5L125.5 217.6L126.5 217.5L126.5 217.5L127.5 217.0L128.5 216.5L128.5 216.5L129.5 216.2L130.5 216.1L131.5 216.1L132.5 216.1L133.5 216.2L134.5 216.3L135.2 216.5L135.5 216.6L136.5 216.8L137.5 217.3L137.9 217.5L138.5 217.8L139.5 218.3L140.0 218.5L140.5 218.7L141.5 218.9L142.5 219.0L143.5 218.9L144.5 218.8L145.5 218.5L145.6 218.5L146.5 218.4L147.5 218.4L148.4 218.5L148.5 218.5L149.5 219.0L150.5 219.2L151.5 219.3L152.5 219.5L152.8 219.5L153.5 219.6L154.5 219.9L155.5 220.3L156.0 220.5L156.5 220.9L157.2 221.5L157.5 222.1L157.7 222.5L158.5 223.2L159.0 223.5L159.5 223.6L160.5 223.9L161.5 224.4L161.8 224.5L162.5 224.9L163.2 225.5L163.5 226.0L163.7 226.5L163.7 227.5L163.5 228.0L163.3 228.5L163.5 229.0L163.9 229.5L164.5 229.8L165.5 230.1L166.3 230.5L166.5 230.6L167.5 231.2L168.0 231.5L168.5 231.8L169.5 232.2L170.3 232.5L170.5 232.6L171.5 233.3L171.8 233.5L172.0 234.5L172.5 235.2L172.9 235.5L173.5 235.7L174.5 235.7L175.5 235.5L175.5 235.5L176.5 235.1L177.5 234.7L178.0 234.5L178.5 234.3L179.5 233.9L180.5 233.6L181.2 233.5L181.5 233.5L182.5 233.4L183.5 233.4L184.5 233.5L184.8 233.5L185.5 233.6L186.5 233.9L187.5 234.4L187.6 234.5L187.7 235.5L187.5 235.6L186.5 236.1L185.6 236.5L185.5 236.5L184.5 236.8L183.5 237.1L182.7 237.5L182.5 237.6L181.5 238.1L180.9 238.5L180.5 238.8L179.6 239.5L179.5 239.6L178.8 240.5L178.6 241.5L178.7 242.5L178.9 243.5L179.5 244.3L179.7 244.5L180.5 245.1L181.4 245.5L181.5 245.5L182.5 246.0L183.5 246.5L183.5 246.5L184.4 247.5L184.5 247.6L185.1 248.5L185.5 249.1L185.7 249.5L186.3 250.5L186.5 251.3L186.5 251.5L186.5 251.7L186.3 252.5L185.9 253.5L186.3 254.5L186.5 254.6L187.5 255.2L187.9 255.5L188.5 256.0L189.3 256.5L188.5 257.4L188.2 257.5L187.5 257.5L186.5 257.5L186.4 257.5L185.5 257.3L184.5 257.1L183.5 256.7L183.0 256.5L182.5 256.2L181.5 255.8L180.5 255.6L180.1 255.5L179.5 255.4L178.5 255.2L177.5 254.8L177.0 254.5L176.5 253.7L176.4 253.5L176.1 252.5L175.6 251.5L175.5 251.4L174.5 250.8L173.5 250.7L172.5 251.0L172.0 251.5L171.5 252.2L171.4 252.5L170.6 253.5L170.5 253.6L169.5 254.5L169.5 254.5L168.5 255.4L168.3 255.5L167.5 256.3L167.3 256.5L167.0 257.5L167.5 258.5L167.5 258.5L168.0 259.5L167.8 260.5L167.5 260.7L166.5 261.3L166.1 261.5L165.5 261.7L164.5 262.0L163.5 262.2L162.5 262.5L162.3 262.5L161.5 262.7L160.5 263.3L160.3 263.5L159.5 264.5L159.5 264.5L158.6 265.5L158.5 265.5L157.5 266.3L157.3 266.5L156.5 267.5L156.5 267.6L156.0 268.5L155.5 269.3L155.4 269.5L154.5 270.4L154.4 270.5L153.5 271.2L152.5 271.4L151.5 271.3L150.5 271.1L149.5 270.9L148.5 270.6L148.2 270.5L147.5 270.2L146.5 269.7L146.2 269.5L145.5 269.1L144.5 268.8L143.5 269.0L142.6 269.5L142.5 269.7L142.0 270.5L141.9 271.5L141.5 271.6L140.5 271.8L139.5 271.8L138.5 271.6L138.2 271.5L137.5 271.3L136.5 271.0L135.5 270.5L135.5 270.5L134.5 270.2L133.5 270.0L132.5 269.8L131.5 269.7L130.5 269.7L129.5 269.9L128.5 270.1L127.6 270.5L127.5 270.6L126.7 271.5L126.5 271.8L126.0 272.5L125.5 272.8L124.5 273.4L124.1 273.5L123.5 273.7L122.5 273.8L121.5 273.9L120.5 274.0L119.5 274.0L118.5 273.9L117.5 273.9L116.5 273.8L115.5 273.7L114.5 273.7L113.5 273.7L112.5 273.8L111.5 273.9L110.5 274.1L109.5 274.1L108.5 274.1L107.5 273.8L106.6 273.5L106.5 273.5L105.5 273.2L104.5 273.2L103.5 273.5L103.4 273.5L102.5 274.0L101.7 274.5L101.5 274.6L100.5 274.8L99.5 274.9L98.5 275.0L97.5 275.0L96.5 275.0L95.5 275.0L94.5 275.0L93.5 275.1L92.5 275.1L91.5 275.2L90.5 275.2L89.5 275.1L88.5 275.1L87.5 275.0L86.5 274.9L85.5 274.9L84.5 275.0L83.5 275.2L82.5 275.3L81.5 275.5L80.8 275.5L80.5 275.5L79.5 275.5L78.9 275.5L78.5 275.5L77.5 275.5L76.5 275.5L75.5 275.5L74.5 275.4L73.5 275.3L72.5 275.1L71.5 275.0L70.5 274.9L69.5 274.7L68.5 274.6L67.5 274.5L67.4 274.5L66.5 274.4L65.5 274.4L64.5 274.3L63.5 274.3L62.5 274.4L61.5 274.4L60.5 274.5L59.7 274.5L59.5 274.5L58.5 274.6L57.5 274.8L56.5 275.0L55.5 275.2L54.5 275.4L53.5 275.4L52.5 275.3L51.5 275.1L50.5 275.0L49.5 274.9L48.5 274.8L47.5 274.7L46.5 274.6L45.5 274.6L44.5 274.6L44.2 274.5L43.5 274.4L42.5 273.8L42.0 273.5L41.5 273.1 M191.3 240.5L191.5 240.3L192.5 240.0L193.5 240.2L194.1 240.5L193.5 241.5L193.5 241.5L192.5 241.7L191.5 241.7L191.2 241.5L191.3 240.5 M41.5 219.4L42.5 218.8L43.0 218.5L43.5 218.0L44.5 217.8L45.5 217.8L46.5 217.8L47.5 217.8L48.5 217.8L49.5 217.8L50.5 217.9L51.5 217.9L52.5 218.1L53.5 218.2L54.5 218.3L55.5 218.5L55.8 218.5L56.5 218.6L57.5 218.7L58.5 218.7L59.5 218.7L60.5 218.7L61.5 218.6L62.0 218.5L62.5 218.4L63.5 218.2L64.5 218.0L65.5 217.8L66.5 217.7L67.5 217.6L68.5 217.7L69.5 217.9L70.5 218.1L71.5 218.3L72.5 218.4L72.9 218.5L73.5 218.6L74.5 218.7L75.5 218.8L76.5 218.9L77.5 219.0L78.5 219.1L79.5 219.2L80.5 219.4L80.8 219.5L81.5 219.7L82.5 219.9L83.5 220.0L84.5 220.2L85.5 220.3L86.5 220.4L87.5 220.5L87.9 220.5L88.5 220.6L89.5 220.7L90.5 221.0L91.5 221.4L91.8 221.5L92.5 221.9L93.3 222.5L93.5 222.7L94.4 223.5L94.5 223.6L95.4 224.5L95.5 224.6L96.5 225.3L97.5 225.3L98.5 225.2L99.5 225.0L100.5 224.9L101.5 224.7L102.5 224.6L103.5 224.5L104.0 224.5L104.5 224.5L105.5 224.4L106.5 224.4L107.5 224.3L108.5 224.3L109.5 224.3L110.5 224.4L110.9 224.5L111.5 224.6L112.5 225.2L112.9 225.5L113.5 226.0L114.1 226.5L114.5 226.7L115.5 227.1L116.5 227.4L117.1 227.5L117.5 227.6L118.5 227.7L119.5 227.9L120.5 228.1L121.5 228.4L121.8 228.5L122.5 228.7L123.5 229.1L124.5 229.3L125.5 229.4L126.5 229.2L127.5 229.0L128.5 228.7L129.5 228.6L130.5 228.6L131.5 228.9L132.5 229.5L132.5 229.5L133.1 230.5L133.2 231.5L133.5 231.7L134.5 232.3L135.1 232.5L135.5 232.6L136.5 232.8L137.5 233.0L138.5 233.1L139.5 233.4L140.0 233.5L140.5 233.7L141.5 234.1L142.2 234.5L142.5 235.3L142.6 235.5L142.5 235.7L142.2 236.5L141.8 237.5L142.5 238.2L143.5 238.5L143.5 238.5L144.5 238.6L145.5 238.8L146.5 239.0L147.5 239.2L148.4 239.5L148.5 239.5L149.5 239.9L150.5 240.2L151.0 240.5L151.5 240.8L152.5 241.3L152.7 241.5L153.5 242.4L153.6 242.5L153.5 243.5L153.5 243.6L152.9 244.5L152.5 245.1L152.1 245.5L151.6 246.5L151.6 247.5L151.5 247.7L150.9 248.5L150.5 248.6L149.5 248.8L148.5 248.8L147.5 248.8L146.5 249.1L146.2 249.5L145.6 250.5L145.5 250.6L145.0 251.5L144.5 252.3L144.3 252.5L143.5 253.3L143.2 253.5L142.5 253.8L141.5 254.1L140.5 254.5L140.5 254.5L139.5 254.8L138.5 255.1L137.5 255.3L136.5 255.4L135.5 255.4L134.5 255.3L133.5 255.1L132.5 254.9L131.5 254.6L131.2 254.5L130.5 254.2L129.5 254.0L128.5 253.9L127.5 254.0L126.5 254.2L125.5 254.5L125.4 254.5L124.5 254.9L123.5 255.5L123.5 255.5L122.5 256.5L122.5 256.5L121.9 257.5L121.5 258.4L121.5 258.5L121.2 259.5L120.7 260.5L120.5 260.7L119.5 261.2L118.5 261.4L118.2 261.5L117.5 261.6L116.5 261.8L115.5 261.9L114.5 262.0L113.5 262.0L112.5 262.1L111.5 262.0L110.5 261.7L110.0 261.5L109.5 261.4L108.5 261.2L107.5 261.0L106.5 261.0L105.5 261.1L104.5 261.4L104.2 261.5L103.5 261.8L102.5 262.2L101.8 262.5L101.5 262.6L100.5 263.1L99.5 263.5L99.5 263.5L98.5 264.1L97.6 264.5L97.5 264.6L96.5 265.5L97.5 266.5L97.5 266.5L98.0 267.5L97.6 268.5L97.5 268.5L96.5 268.9L95.5 269.1L94.5 269.0L93.5 268.6L93.3 268.5L92.9 267.5L93.3 266.5L92.5 265.5L92.4 265.5L91.5 265.4L90.5 265.4L89.5 265.3L88.5 265.3L87.5 265.4L86.5 265.4L85.6 265.5L85.5 265.5L84.5 265.7L83.5 265.8L82.5 266.0L81.5 266.2L80.5 266.5L80.4 266.5L79.5 266.7L78.5 266.9L77.5 267.1L76.5 267.2L75.5 267.4L74.8 267.5L74.5 267.5L73.5 267.7L72.5 268.0L71.5 268.4L71.3 268.5L70.5 269.1L70.0 269.5L69.5 270.0L68.6 270.5L68.5 270.5L67.5 270.7L66.5 270.8L65.5 270.8L64.5 270.8L63.5 270.7L62.5 270.6L61.5 270.5L61.2 270.5L60.5 270.4L59.5 270.3L58.5 270.1L57.5 270.0L56.5 269.9L55.5 269.8L54.5 269.8L53.5 269.9L52.5 270.0L51.5 270.0L50.5 270.1L49.5 270.0L48.5 269.9L47.5 269.7L46.8 269.5L46.5 269.4L45.5 269.1L44.5 268.9L43.8 268.5L43.5 268.4L42.5 267.7L42.2 267.5L41.5 267.2 M136.4 259.5L136.5 259.4L137.5 259.0L138.5 259.1L139.2 259.5L138.5 260.2L137.5 260.3L136.5 259.6L136.4 259.5 M41.5 223.0L41.7 222.5L42.0 221.5L42.5 221.0L43.0 220.5L43.5 220.2L44.5 220.0L45.5 219.9L46.5 219.8L47.5 219.8L48.5 219.8L49.5 219.9L50.5 220.2L51.3 220.5L51.5 220.7L52.5 221.5L52.5 221.5L53.5 222.2L54.1 222.5L54.5 222.6L55.5 222.8L56.5 222.8L57.5 222.9L58.5 222.9L59.5 222.8L60.5 222.8L61.5 222.7L62.5 222.5L62.6 222.5L63.5 222.2L64.5 221.9L65.5 221.7L66.5 221.6L67.5 221.6L68.5 221.6L69.5 221.7L70.5 221.8L71.5 222.1L72.3 222.5L72.5 222.6L73.5 223.3L73.8 223.5L74.5 223.8L75.5 224.2L76.5 224.4L77.4 224.5L77.5 224.5L78.5 224.7L79.5 225.2L79.6 225.5L80.1 226.5L80.5 226.9L81.5 227.5L82.0 227.5L82.5 227.5L82.7 227.5L83.5 227.4L84.5 227.2L85.5 227.0L86.5 226.9L87.5 226.8L88.5 226.9L89.5 227.1L90.5 227.5L90.6 227.5L91.5 228.1L92.0 228.5L92.5 229.0L93.1 229.5L93.5 229.8L94.5 230.3L95.1 230.5L95.5 230.6L96.5 230.9L97.5 230.9L98.5 230.9L99.5 230.7L100.5 230.7L101.5 230.8L102.5 231.4L102.6 231.5L103.5 232.0L104.3 232.5L104.5 232.6L105.5 232.9L106.5 233.3L107.2 233.5L107.5 233.7L108.5 234.1L109.5 234.3L110.5 234.2L111.5 233.8L112.1 233.5L112.5 233.4L113.5 233.1L114.5 232.9L115.5 232.9L116.5 233.1L117.2 233.5L117.5 233.7L118.4 234.5L118.5 234.6L119.5 235.4L119.6 235.5L120.5 236.2L121.5 236.5L122.5 236.5L123.5 236.2L124.5 235.6L124.6 235.5L125.2 234.5L125.5 234.3L126.5 234.1L127.5 234.2L128.5 234.5L128.6 234.5L129.5 235.1L130.4 235.5L129.5 236.5L129.5 236.5L128.5 237.2L128.2 237.5L127.5 238.3L127.4 238.5L126.5 238.9L125.6 239.5L125.5 239.5L124.5 240.1L124.1 240.5L123.9 241.5L124.4 242.5L124.5 242.5L125.5 243.3L126.0 243.5L126.5 243.8L127.5 244.3L128.1 244.5L128.5 245.0L128.9 245.5L128.5 245.8L127.5 246.2L126.5 246.4L126.0 246.5L125.5 246.5L124.5 246.6L123.5 246.7L122.5 246.7L121.5 246.6L121.1 246.5L120.5 246.4L119.5 246.3L118.5 246.3L117.5 246.4L116.9 246.5L116.5 247.3L116.4 247.5L116.5 247.5L117.5 247.9L118.5 248.1L119.5 248.4L119.7 248.5L120.5 248.8L121.5 249.5L121.5 249.5L121.9 250.5L121.6 251.5L121.5 251.6L120.6 252.5L120.5 252.6L119.5 253.2L119.0 253.5L118.5 254.1L118.3 254.5L118.2 255.5L117.9 256.5L117.5 257.1L117.0 257.5L116.5 257.8L115.5 258.2L114.5 258.4L113.5 258.4L112.5 258.3L111.5 258.2L110.5 258.0L109.5 257.7L108.9 257.5L108.5 257.2L107.6 256.5L107.5 256.4L106.5 256.2L105.5 256.1L104.5 256.1L103.5 256.3L102.5 256.5L102.4 256.5L101.5 256.8L100.5 257.2L99.5 257.5L99.4 257.5L98.5 257.8L97.5 258.0L96.5 258.1L95.5 258.4L95.0 258.5L94.5 258.8L93.8 259.5L93.5 259.7L92.5 260.3L92.3 260.5L91.5 260.9L90.5 261.5L90.5 261.5L89.5 261.8L88.5 262.2L87.5 262.5L87.5 262.5L86.5 262.6L85.5 262.8L84.5 262.9L83.5 263.0L82.5 263.1L81.5 263.3L80.5 263.5L80.5 263.5L79.5 263.7L78.5 264.0L77.5 264.4L77.3 264.5L76.5 264.8L75.5 265.1L74.5 265.3L73.5 265.5L73.4 265.5L72.5 265.6L71.5 265.8L70.5 266.0L69.5 266.3L69.1 266.5L68.5 266.7L67.5 267.1L66.6 267.5L66.5 267.6L65.5 267.9L64.5 268.0L63.5 268.1L62.5 268.0L61.5 267.9L60.5 267.8L59.5 267.6L59.3 267.5L58.5 267.3L57.5 267.0L56.5 266.8L55.5 266.6L54.5 266.6L53.5 266.6L52.5 266.7L51.5 266.7L50.5 266.7L49.5 266.7L48.5 266.5L48.1 266.5L47.5 266.5L46.5 266.4L45.5 266.5L44.9 266.5L44.5 266.5L43.8 266.5L43.5 266.5L42.5 266.2L41.5 265.8 M113.5 238.8L112.8 239.5L113.5 239.8L114.5 240.0L115.5 240.1L116.5 240.0L117.5 239.7L117.9 239.5L117.5 239.2L116.5 238.9L115.5 238.8L114.5 238.8L113.5 238.8 M41.5 228.5L41.5 228.5L42.5 227.6L42.6 227.5L43.1 226.5L43.4 225.5L43.5 225.4L44.5 224.6L45.2 224.5L45.5 224.4L46.5 224.4L47.4 224.5L47.5 224.5L48.5 224.7L49.5 225.0L50.5 225.2L51.5 225.4L52.5 225.5L52.5 225.5L53.5 225.6L54.5 225.6L55.5 225.6L56.5 225.7L57.5 225.8L58.5 225.9L59.5 226.1L60.5 226.5L60.6 226.5L61.5 227.0L62.3 227.5L62.5 227.6L63.5 228.2L64.2 228.5L64.5 228.6L65.5 228.9L66.5 229.0L67.5 229.1L68.5 229.1L69.5 229.1L70.5 229.1L71.5 229.1L72.5 229.0L73.5 229.0L74.5 229.1L75.5 229.4L75.7 229.5L76.5 230.1L77.0 230.5L77.5 231.0L78.2 231.5L78.5 231.7L79.5 232.1L80.3 232.5L80.5 232.6L81.5 233.2L82.1 233.5L82.5 233.9L83.5 234.3L84.5 234.4L85.5 234.3L86.5 234.1L87.5 234.0L88.5 234.3L88.7 234.5L89.5 235.0L90.0 235.5L90.5 236.3L90.6 236.5L90.5 237.0L90.4 237.5L90.5 237.9L90.6 238.5L91.5 239.2L91.9 239.5L92.5 239.8L93.5 240.3L94.0 240.5L94.5 240.7L95.5 241.1L96.3 241.5L96.5 241.9L96.8 242.5L96.5 242.7L95.5 243.5L95.5 243.5L94.5 244.1L94.0 244.5L93.5 245.4L93.4 245.5L93.4 246.5L93.5 247.5L93.4 248.5L93.1 249.5L92.7 250.5L92.5 250.7L91.5 251.3L91.0 251.5L90.5 251.6L89.5 251.8L88.5 251.9L87.5 252.0L86.5 252.2L85.6 252.5L85.5 252.5L84.5 252.8L83.5 253.2L82.5 253.5L82.4 253.5L81.5 253.8L80.5 253.9L79.5 253.8L79.1 253.5L78.5 253.4L77.5 253.4L77.2 253.5L76.9 254.5L77.5 254.7L78.5 254.9L79.5 255.0L80.2 255.5L80.5 255.8L80.9 256.5L80.5 257.0L80.0 257.5L79.5 257.6L78.5 257.8L77.5 258.0L76.5 258.3L75.5 258.5L75.5 258.5L74.5 258.8L73.5 259.1L72.5 259.5L72.5 259.5L71.5 260.0L70.5 260.5L70.5 260.5L69.5 260.9L68.5 261.2L67.5 261.5L67.5 261.5L66.5 261.9L65.5 262.2L64.9 262.5L64.5 262.7L63.5 263.2L62.8 263.5L62.5 263.6L61.5 263.9L60.5 264.0L59.5 264.0L58.5 263.9L57.5 263.8L56.5 263.7L55.5 263.5L55.4 263.5L54.5 263.3L53.5 263.1L52.5 262.8L51.8 262.5L51.5 262.3L50.5 261.7L50.1 261.5L49.5 261.3L48.5 261.1L47.5 261.1L46.5 261.1L45.5 261.1L44.5 261.2L43.5 260.8L43.3 260.5L42.5 259.9L42.0 259.5L41.5 259.1 M43.1 263.5L43.5 263.0L44.5 263.2L44.7 263.5L44.5 263.7L43.5 264.4L43.1 263.5 M41.5 233.8L41.5 233.5L41.8 232.5L42.2 231.5L42.5 230.9L42.7 230.5L43.5 229.7L44.1 229.5L44.5 229.4L45.5 229.4L46.5 229.4L47.5 229.4L48.5 229.5L48.6 229.5L49.5 229.6L50.5 229.6L51.5 229.6L52.5 229.6L53.5 229.5L54.5 229.5L55.5 229.6L56.5 230.0L57.3 230.5L57.5 230.7L58.1 231.5L58.5 232.1L58.8 232.5L59.5 233.1L60.0 233.5L60.5 233.8L61.5 234.0L62.5 234.1L63.5 234.1L64.5 234.0L65.5 234.0L66.5 234.0L67.5 234.1L68.5 234.3L69.0 234.5L69.5 234.7L70.5 235.1L71.2 235.5L71.5 235.8L72.1 236.5L72.5 237.2L72.7 237.5L73.5 238.3L73.7 238.5L74.5 239.1L75.0 239.5L75.5 240.0L75.9 240.5L76.2 241.5L75.5 242.4L75.4 242.5L74.5 243.1L73.6 243.5L73.5 243.6L72.8 244.5L72.8 245.5L73.0 246.5L73.2 247.5L73.3 248.5L72.6 249.5L72.5 249.6L71.5 250.2L70.8 250.5L70.5 250.7L69.5 251.3L69.1 251.5L68.5 252.1L68.2 252.5L67.5 253.5L67.5 253.5L66.8 254.5L66.5 254.9L66.0 255.5L65.5 255.8L64.5 256.2L63.6 256.5L63.5 256.5L62.5 256.7L61.5 256.9L60.5 257.0L59.5 257.1L58.5 257.0L57.5 256.9L56.5 256.7L55.5 256.6L54.5 256.6L53.5 256.7L52.5 256.9L51.5 257.2L50.5 257.5L50.3 257.5L49.5 257.7L48.5 257.8L47.5 257.9L46.5 257.9L45.5 258.0L44.5 258.0L43.5 257.6L43.4 257.5L43.0 256.5L42.9 255.5L42.6 254.5L42.5 254.2L42.1 253.5L41.6 252.5L41.5 252.3 M41.5 237.9L41.6 237.5L41.7 236.5L41.5 235.5L41.5 235.1 M41.5 249.0L41.6 248.5L41.8 247.5L41.8 246.5L41.8 245.5L41.7 244.5L41.6 243.5L41.5 243.3 M44.5 234.5L44.5 234.5L44.6 234.5L44.5 235.5L44.5 234.5 M50.4 234.5L50.5 234.5L51.5 234.4L52.0 234.5L52.5 234.5L53.5 234.9L54.5 235.5L54.5 235.5L55.1 236.5L55.4 237.5L55.5 237.9L55.7 238.5L56.5 239.3L56.8 239.5L57.5 239.8L58.5 239.9L59.5 239.7L60.5 239.8L61.5 239.8L62.5 240.0L63.5 240.4L63.6 240.5L63.7 241.5L63.5 242.0L63.3 242.5L63.5 243.5L63.5 243.6L64.3 244.5L64.5 244.8L65.0 245.5L64.5 246.5L64.5 246.5L63.5 247.1L62.5 247.5L62.5 247.5L61.5 247.8L60.5 248.0L59.5 248.2L58.5 248.0L57.5 248.0L56.5 248.0L55.5 248.1L54.5 248.3L53.8 248.5L53.5 248.6L52.5 248.7L51.5 248.7L50.5 248.6L49.8 248.5L49.5 248.4L48.5 247.9L47.9 247.5L47.5 247.3L46.5 247.1L45.5 246.9L44.5 246.8L44.4 246.5L43.7 245.5L43.5 244.9L43.5 244.5L43.3 243.5L43.1 242.5L42.9 241.5L43.0 240.5L43.3 239.5L43.5 239.1L44.5 238.9L45.5 239.4L46.0 239.5L46.5 239.6L47.1 239.5L47.5 239.4L48.2 238.5L47.5 237.5L47.5 237.5L46.5 236.5L46.5 236.4L45.6 235.5L46.5 235.2L47.5 235.0L48.5 234.8L49.5 234.6L50.4 234.5 M55.3 252.5L55.5 252.4L56.5 252.0L57.5 251.7L58.5 251.6L59.5 251.7L59.7 252.5L59.5 252.8L58.5 253.0L57.5 253.0L56.5 252.8L55.5 252.6L55.3 252.5" fill="none" stroke="#000" stroke-opacity="0.75" stroke-width="0.6"/>
<line x1="41.0" x2="274.2" y1="298.43" y2="298.43" stroke="#b4b4b4" stroke-opacity="0.85" stroke-width="1"/>
<line x1="41.0" x2="274.2" y1="270.77" y2="270.77" stroke="#b4b4b4" stroke-opacity="0.85" stroke-width="1"/>
<line x1="41.0" x2="274.2" y1="215.47" y2="215.47" stroke="#b4b4b4" stroke-opacity="0.85" stroke-width="1"/>
<line x1="41.0" x2="274.2" y1="187.82" y2="187.82" stroke="#b4b4b4" stroke-opacity="0.85" stroke-width="1"/>
<line x1="87.64" x2="87.64" y1="174.0" y2="312.2" stroke="#b4b4b4" stroke-opacity="0.85" stroke-width="1"/>
<line x1="134.28" x2="134.28" y1="174.0" y2="312.2" stroke="#b4b4b4" stroke-opacity="0.85" stroke-width="1"/>
<line x1="180.92" x2="180.92" y1="174.0" y2="312.2" stroke="#b4b4b4" stroke-opacity="0.85" stroke-width="1"/>
<line x1="227.56" x2="227.56" y1="174.0" y2="312.2" stroke="#b4b4b4" stroke-opacity="0.85" stroke-width="1"/>
<line x1="41.0" x2="274.2" y1="243.12" y2="243.12" stroke="#111" stroke-width="0.9"/>
<line x1="72.72" x2="72.72" y1="174.0" y2="312.2" stroke="#111" stroke-width="1.5"/>
<path d="M204.2 243.54 L246.2 243.54 L246.2 249.35 L227.6 245.89 Z" fill="#e02020" fill-opacity="0.35"/>
<line x1="41.0" y1="243.54" x2="204.2" y2="243.54" stroke="#c01010" stroke-width="1.1"/>
<line x1="204.2" y1="243.54" x2="274.2" y2="243.54" stroke="#e82020" stroke-width="1.3" stroke-dasharray="3.5 2"/>
</g>
<text class="ann" x="135.5" y="185.3" textLength="123.5" lengthAdjust="spacingAndGlyphs"><tspan font-style="italic">a</tspan><tspan class="s" dy="1.8">1</tspan><tspan dy="-1.8"> = −0.3 ± 2.2, </tspan><tspan font-style="italic">a</tspan><tspan class="s" dy="1.8">0</tspan><tspan dy="-1.8"> = −0.5 ± 1.5</tspan></text>
<rect x="41.00" y="174.00" width="233.20" height="138.25" fill="none" stroke="#000" stroke-width="0.8"/>
<path d="M41.00 312.25h-1.8M41.00 305.34h-1.8M41.00 298.43h-3.0M41.00 291.51h-1.8M41.00 284.60h-1.8M41.00 277.69h-1.8M41.00 270.77h-3.0M41.00 263.86h-1.8M41.00 256.95h-1.8M41.00 250.04h-1.8M41.00 243.12h-3.0M41.00 236.21h-1.8M41.00 229.30h-1.8M41.00 222.39h-1.8M41.00 215.47h-3.0M41.00 208.56h-1.8M41.00 201.65h-1.8M41.00 194.74h-1.8M41.00 187.82h-3.0M41.00 180.91h-1.8M41.00 174.00h-1.8M41.00 312.25v3.0M64.32 312.25v1.8M87.64 312.25v3.0M110.96 312.25v1.8M134.28 312.25v3.0M157.60 312.25v1.8M180.92 312.25v3.0M204.24 312.25v1.8M227.56 312.25v3.0M250.88 312.25v1.8M274.20 312.25v3.0" stroke="#000" stroke-width="0.7"/>
<text class="tl" x="33.6" y="191.82" text-anchor="end">40</text>
<text class="tl" x="33.6" y="219.47" text-anchor="end">20</text>
<text class="tl" x="33.6" y="247.12" text-anchor="end">0</text>
<text class="tl" x="33.6" y="274.77" text-anchor="end"><tspan font-size="10.5px">−</tspan><tspan dx="0.6">20</tspan></text>
<text class="tl" x="33.6" y="302.43" text-anchor="end"><tspan font-size="10.5px">−</tspan><tspan dx="0.6">40</tspan></text>
<text class="lab" x="10.7" y="243.12" font-size="11px" text-anchor="middle" transform="rotate(-90 10.7 243.12)"><tspan font-style="italic">v</tspan><tspan font-size="8.4px" font-style="italic" dy="2.2">rad,y'</tspan><tspan dy="-2.2" dx="0.8">[kms</tspan><tspan font-size="7.6px" dy="-3.6">−1</tspan><tspan dy="3.6">]</tspan></text>
<text class="lab" x="156.4" y="330.20" font-size="10.6px" text-anchor="middle">|<tspan font-style="italic">y'</tspan>| [kpc]</text>
<path d="M281.8 312.2 L281.8 312.2 L281.8 310.5 L281.8 310.5 L281.8 307.1 L281.8 307.1 L281.8 303.6 L281.8 303.6 L281.8 300.2 L281.8 300.2 L281.8 296.7 L282.3 296.7 L282.3 293.2 L283.5 293.2 L283.5 289.8 L286.3 289.8 L286.3 286.3 L289.8 286.3 L289.8 282.9 L293.3 282.9 L293.3 279.4 L298.2 279.4 L298.2 276.0 L303.2 276.0 L303.2 272.5 L308.8 272.5 L308.8 269.0 L316.3 269.0 L316.3 265.6 L324.7 265.6 L324.7 262.1 L331.3 262.1 L331.3 258.7 L337.8 258.7 L337.8 255.2 L342.5 255.2 L342.5 251.8 L346.3 251.8 L346.3 248.3 L349.3 248.3 L349.3 244.9 L348.7 244.9 L348.7 241.4 L346.3 241.4 L346.3 237.9 L341.5 237.9 L341.5 234.5 L337.5 234.5 L337.5 231.0 L332.8 231.0 L332.8 227.6 L328.8 227.6 L328.8 224.1 L319.2 224.1 L319.2 220.7 L313.6 220.7 L313.6 217.2 L307.8 217.2 L307.8 213.7 L301.6 213.7 L301.6 210.3 L296.8 210.3 L296.8 206.8 L294.3 206.8 L294.3 203.4 L289.4 203.4 L289.4 199.9 L287.3 199.9 L287.3 196.5 L285.2 196.5 L285.2 193.0 L282.6 193.0 L282.6 189.6 L281.8 189.6 L281.8 186.1 L281.8 186.1 L281.8 182.6 L281.8 182.6 L281.8 179.2 L281.8 179.2 L281.8 175.7 L281.8 175.7 L281.8 174.0 L281.8 174.0 Z" fill="#808080"/>
<line x1="281.8" x2="354.7" y1="298.43" y2="298.43" stroke="#b4b4b4" stroke-opacity="0.85" stroke-width="1"/>
<line x1="281.8" x2="354.7" y1="270.77" y2="270.77" stroke="#b4b4b4" stroke-opacity="0.85" stroke-width="1"/>
<line x1="281.8" x2="354.7" y1="215.47" y2="215.47" stroke="#b4b4b4" stroke-opacity="0.85" stroke-width="1"/>
<line x1="281.8" x2="354.7" y1="187.82" y2="187.82" stroke="#b4b4b4" stroke-opacity="0.85" stroke-width="1"/>
<path d="M281.8 296.7 L282.8 296.7 L282.8 293.2 L284.9 293.2 L284.9 289.8 L287.7 289.8 L287.7 286.3 L291.9 286.3 L291.9 282.9 L295.4 282.9 L295.4 279.4 L301.0 279.4 L301.0 276.0 L305.3 276.0 L305.3 272.5 L310.8 272.5 L310.8 269.0 L319.1 269.0 L319.1 265.6 L326.6 265.6 L326.6 262.1 L334.1 262.1 L334.1 258.7 L339.7 258.7 L339.7 255.2 L344.4 255.2 L344.4 251.8 L347.2 251.8 L347.2 248.3 L351.0 248.3 L351.0 244.9 L350.3 244.9 L350.3 241.4 L347.1 241.4 L347.1 237.9 L343.1 237.9 L343.1 234.5 L338.3 234.5 L338.3 231.0 L333.5 231.0 L333.5 227.6 L329.6 227.6 L329.6 224.1 L320.8 224.1 L320.8 220.7 L315.2 220.7 L315.2 217.2 L308.8 217.2 L308.8 213.7 L302.4 213.7 L302.4 210.3 L297.5 210.3 L297.5 206.8 L295.4 206.8 L295.4 203.4 L289.8 203.4 L289.8 199.9 L287.7 199.9 L287.7 196.5 L285.6 196.5 L285.6 193.0 L282.8 193.0 L282.8 189.6 L281.8 189.6" fill="none" stroke="#ff0000" stroke-width="1"/>
<line x1="281.8" x2="354.7" y1="243.12" y2="243.12" stroke="#000" stroke-width="0.9"/>
<line x1="281.8" x2="354.7" y1="243.24" y2="243.24" stroke="#000" stroke-width="1.6" stroke-dasharray="4.7 2.6"/>
<line x1="281.8" x2="354.7" y1="243.69" y2="243.69" stroke="#f00" stroke-width="1.6" stroke-dasharray="4.7 2.6"/>
<line x1="281.8" x2="354.7" y1="243.24" y2="243.24" stroke="#000" stroke-opacity="0.4" stroke-width="1.6" stroke-dasharray="4.7 2.6"/>
<rect x="281.80" y="174.00" width="72.90" height="138.25" fill="none" stroke="#000" stroke-width="0.8"/>
<path d="M281.80 312.25h-1.8M281.80 305.34h-1.8M281.80 298.43h-3.0M281.80 291.51h-1.8M281.80 284.60h-1.8M281.80 277.69h-1.8M281.80 270.77h-3.0M281.80 263.86h-1.8M281.80 256.95h-1.8M281.80 250.04h-1.8M281.80 243.12h-3.0M281.80 236.21h-1.8M281.80 229.30h-1.8M281.80 222.39h-1.8M281.80 215.47h-3.0M281.80 208.56h-1.8M281.80 201.65h-1.8M281.80 194.74h-1.8M281.80 187.82h-3.0M281.80 180.91h-1.8M281.80 174.00h-1.8" stroke="#000" stroke-width="0.7"/>
<text x="345.6" y="176.2" font-size="9.3px" transform="rotate(90 345.6 176.2)" dx="0" dy="0">−0.08 ± 0.08</text>
<text x="335.8" y="177.4" font-size="9.3px" style="fill:#f00" transform="rotate(90 335.8 177.4)">−0.41 ± 0.13</text>
<g clip-path="url(#c2)">
<path d="M48.0 347.1L48.5 348.1L48.5 348.1L48.8 349.1L49.3 350.1L49.5 350.5L50.0 351.1L50.5 351.4L51.5 351.7L52.5 352.0L53.2 352.1L53.5 352.2L54.5 352.3L55.5 352.4L56.5 352.6L57.5 352.7L58.5 353.1L58.5 353.1L59.5 354.0L60.5 353.9L61.5 353.4L62.1 353.1L62.5 353.0L63.5 352.7L64.5 352.5L65.5 352.2L65.8 352.1L66.5 351.9L67.5 351.6L68.5 351.2L68.6 351.1L69.5 350.5L70.2 350.1L70.5 349.7L71.1 349.1L71.5 348.4L71.9 348.1L72.5 347.7L73.5 347.6L74.5 348.0L74.6 348.1L75.5 348.4L76.5 348.8L77.1 349.1L77.5 349.3L78.5 349.7L79.2 350.1L79.5 350.3L80.3 351.1L80.5 351.5L80.8 352.1L81.5 352.8L82.5 353.0L83.5 353.1L84.5 353.1L85.5 353.0L86.5 352.9L87.5 352.8L88.5 352.4L89.0 352.1L89.4 351.1L89.5 350.9L89.8 350.1L90.5 349.7L91.5 349.5L92.5 349.5L93.5 349.8L94.5 350.0L94.9 350.1L95.5 350.2L96.5 350.3L97.5 350.3L98.5 350.2L98.7 350.1L99.5 349.8L100.4 349.1L100.5 349.0L101.0 348.1L101.3 347.1 M109.8 347.1L110.5 347.3L111.5 347.6L112.5 348.0L112.8 348.1L113.5 348.3L114.5 348.5L115.5 348.8L116.5 349.1L116.5 349.1L117.5 349.4L118.5 349.7L119.5 350.0L119.9 350.1L120.5 350.4L121.5 350.9L121.8 351.1L121.7 352.1L122.2 353.1L122.5 353.2L123.5 353.4L124.5 353.7L125.5 354.1L125.6 354.1L126.5 354.3L127.5 354.7L128.3 355.1L128.5 355.2L129.5 355.7L130.2 356.1L130.5 356.3L131.5 356.9L131.9 357.1L132.5 357.5L133.5 358.1L133.5 358.1L134.5 358.5L135.5 359.0L135.7 359.1L136.5 359.9L136.7 360.1L136.8 361.1L136.5 361.3L135.5 361.9L135.2 362.1L134.5 362.6L134.0 363.1L134.4 364.1L134.5 364.1L135.5 364.4L136.5 364.4L137.5 364.3L138.3 364.1L138.5 364.0L139.5 363.3L139.9 363.1L140.5 362.6L141.5 362.3L142.5 362.3L143.5 362.4L144.5 362.6L145.5 362.9L145.9 363.1L146.5 363.4L147.5 363.9L147.7 364.1L148.5 364.6L149.2 365.1L149.5 365.3L150.5 365.8L151.4 366.1L151.5 366.1L152.5 366.5L153.5 366.6L154.5 366.7L155.5 366.9L156.4 367.1L156.5 367.1L157.5 367.4L158.5 367.7L159.5 368.0L159.7 368.1L160.1 369.1L159.5 369.6L158.9 370.1L158.5 370.5L158.1 371.1L158.5 372.1L158.5 372.1L159.5 372.8L159.9 373.1L160.5 373.5L161.3 374.1L161.5 374.7L161.6 375.1L161.5 375.3L161.0 376.1L160.5 376.5L159.7 377.1L159.7 378.1L160.5 378.4L161.5 378.6L162.5 378.7L163.5 378.7L164.5 378.8L165.5 378.9L166.5 378.9L167.5 378.9L168.5 379.0L169.5 379.1L169.5 379.1L170.5 379.4L171.5 379.8L172.5 379.8L173.5 379.2L173.6 379.1L174.4 378.1L174.5 377.9L175.1 377.1L175.5 376.8L176.5 376.6L177.5 377.0L177.6 377.1L178.5 378.1L178.5 378.1L178.9 379.1L178.9 380.1L179.2 381.1L179.5 381.2L180.5 381.8L181.2 382.1L181.5 382.2L182.5 382.3L183.5 382.5L184.5 382.5L185.5 382.6L186.5 382.7L187.5 382.8L188.5 383.1L188.5 383.1L189.5 383.5L190.4 384.1L190.5 384.2L191.5 384.9L192.4 385.1L192.5 385.1L192.5 385.1L193.5 384.8L194.5 384.3L195.0 384.1L195.5 384.0L196.5 383.7L197.5 383.4L198.5 383.2L199.0 383.1L199.5 383.0L200.5 382.7L201.5 382.5L202.5 382.5L203.5 382.6L204.5 382.8L205.1 383.1L205.5 383.3L206.5 383.9L206.8 384.1L207.5 385.0L207.6 385.1L207.7 386.1L207.5 387.0L207.5 387.1L207.5 388.1L207.5 388.1L208.3 389.1L208.5 389.2L209.5 389.3L210.5 389.1L210.6 389.1L211.5 388.9L212.5 388.7L213.5 388.8L214.2 389.1L213.6 390.1L213.5 390.3L213.1 391.1L213.5 391.5L214.0 392.1L214.5 392.3L215.5 392.7L216.5 393.0L217.0 393.1L217.5 393.2L218.5 393.3L219.5 393.3L220.5 393.3L221.2 393.1L221.5 393.0L222.5 392.4L223.0 392.1L223.5 391.8L224.5 391.6L225.5 391.3L226.4 391.1L226.5 391.1L227.5 390.7L228.5 390.3L228.9 390.1L229.5 389.8L230.5 389.3L231.1 389.1L231.5 388.8L232.5 388.2L232.7 388.1L232.8 387.1L233.5 386.8L234.5 386.8L235.5 387.1L235.6 387.1L235.5 387.2L234.5 388.1L234.9 389.1L235.5 389.3L236.5 389.7L237.5 390.1L237.5 390.1L238.5 390.3L239.5 390.4L240.5 390.6L241.5 390.8L242.5 391.1L242.5 391.1L243.5 391.7L244.0 392.1L243.5 393.1L243.5 393.1L242.6 394.1L242.5 394.4L242.2 395.1L242.5 395.3L243.5 395.9L243.7 396.1L244.5 396.5L245.5 396.9L246.5 397.0L247.5 396.8L248.5 396.2L248.6 396.1L249.5 395.3L249.7 395.1L250.5 394.5L251.5 394.4L252.5 394.4L253.5 394.5L254.5 394.5L255.5 394.6L256.5 394.6L257.5 394.7L258.5 394.7L259.5 394.9L260.5 395.0L260.8 395.1L261.5 395.3L262.5 395.6L263.5 395.8L264.4 396.1L264.5 396.1L265.5 396.5L266.5 396.9L266.8 397.1L267.5 397.5L268.4 398.1L268.5 398.2L269.5 398.9L270.0 399.1L270.5 399.4L271.5 399.9L272.1 400.1L272.5 400.3L273.5 400.8 M41.5 354.9L42.5 354.8L43.5 354.6L44.5 354.3L45.3 354.1L45.5 354.0L46.5 353.3L46.8 353.1L46.6 352.1L46.5 352.1L45.5 351.6L44.5 351.3L44.1 351.1L43.5 350.8L42.5 350.4L41.5 350.1 M273.5 474.6L272.8 475.1L272.5 475.3L271.5 475.9L271.2 476.1L270.5 476.4L269.5 476.7L268.5 476.8L267.5 476.8L266.5 476.7L265.5 476.3L265.0 476.1L264.5 475.8L263.5 475.1L263.5 475.1L262.5 474.5L261.6 474.1L261.5 474.1L260.5 473.8L259.5 473.5L258.5 473.1L258.4 473.1L257.6 472.1L257.6 471.1L257.5 471.0L256.5 470.4L255.5 470.1L255.4 470.1L254.5 469.9L253.5 469.7L252.5 469.4L251.8 469.1L251.5 468.9L250.6 468.1L250.5 468.0L249.5 467.2L249.3 467.1L248.5 467.0L247.5 467.1L247.3 467.1L246.5 467.3L245.5 467.6L244.5 467.9L243.6 468.1L243.5 468.1L242.5 468.5L241.5 468.8L240.5 469.0L240.1 469.1L239.5 469.4L238.5 469.8L237.5 470.1L237.3 470.1L236.5 470.2L235.5 470.3L234.5 470.3L233.5 470.3L232.5 470.3L231.5 470.3L230.5 470.4L229.5 470.5L228.5 470.6L227.5 470.7L226.5 470.8L225.5 470.9L224.5 470.8L223.5 470.7L222.5 470.3L222.3 470.1L221.5 469.4L221.2 469.1L220.5 468.6L219.6 468.1L219.5 468.0L218.5 467.7L217.5 467.5L216.5 467.4L215.5 467.3L214.5 467.2L213.5 467.1L212.8 467.1L212.5 467.1L211.5 467.0L210.5 467.0L209.5 467.0L208.5 467.0L208.0 467.1L207.5 467.2L206.5 467.5L205.5 467.7L204.5 467.9L203.5 468.0L202.5 468.1L201.5 468.0L200.5 467.7L199.6 467.1L199.5 467.0L198.5 466.2L198.3 466.1L197.5 465.6L196.5 465.3L195.5 465.1L194.5 465.2L193.5 465.5L192.5 466.0L192.4 466.1L191.5 466.9L191.2 467.1L190.9 468.1L191.5 468.6L192.1 469.1L192.5 469.4L193.5 469.9L194.0 470.1L194.5 470.4L195.5 470.7L196.5 470.8L197.5 470.7L198.5 470.8L199.5 470.9L199.9 471.1L199.5 471.5L198.6 472.1L198.5 472.1L197.5 472.2L196.5 472.3L195.5 472.3L194.5 472.3L193.5 472.3L192.5 472.3L191.5 472.2L190.6 472.1L190.5 472.1L189.5 471.9L188.5 471.8L187.5 471.6L186.5 471.4L185.5 471.3L184.5 471.2L183.7 471.1L183.5 471.1L182.5 470.7L181.6 470.1L181.5 469.9L181.2 469.1L181.0 468.1L180.5 467.8L179.5 467.6L178.5 467.8L177.7 468.1L177.5 468.2L176.5 468.6L175.5 469.0L175.1 469.1L174.5 469.4L173.5 469.8L172.5 470.0L171.5 469.8L170.5 469.4L170.2 469.1L169.5 468.9L168.5 468.5L167.5 468.1L167.4 468.1L166.5 468.0L165.5 467.9L164.5 467.8L163.5 467.8L162.5 467.8L161.5 467.9L160.6 468.1L160.9 469.1L161.0 470.1L161.1 471.1L161.5 471.5L162.4 472.1L162.5 472.1L163.5 472.3L164.5 472.4L165.5 472.6L166.5 472.9L166.7 473.1L166.5 473.7L166.4 474.1L165.5 474.7L165.1 475.1L164.5 475.3L163.5 475.7L162.5 476.0L162.2 476.1L161.5 476.2L160.5 476.2L160.3 476.1L159.5 475.8L158.5 475.3L158.1 475.1L157.5 474.7L156.5 474.5L155.5 474.5L154.5 474.5L153.5 474.7L152.5 474.9L151.6 475.1L151.5 475.1L150.5 475.5L149.5 476.0L149.3 476.1L148.5 476.5L147.5 477.1L147.4 477.1L146.5 477.4L145.5 477.5L144.5 477.5L143.5 477.4L142.5 477.2L141.6 477.1L141.5 477.1L140.5 476.9L139.5 476.8L138.5 476.7L137.5 476.6L136.5 476.6L135.5 476.6L134.5 476.8L134.0 477.1L133.5 477.3L132.5 477.7L131.5 478.0L131.0 478.1L130.5 478.2L129.5 478.4L128.5 478.8L128.0 479.1L127.5 479.6L127.1 480.1L126.5 480.7L125.9 481.1L125.5 481.3L124.5 481.5L123.5 481.7L122.5 481.9L121.6 482.1L121.5 482.1L120.5 482.5L119.5 482.8L118.7 483.1L118.5 483.2L117.5 483.4L116.5 483.5L115.5 483.5L114.5 483.5L113.5 483.6L112.5 483.8L111.5 484.0L111.1 484.1 M41.5 478.5L42.5 478.1L42.5 478.1L43.5 477.8L44.5 477.4L45.5 477.3L46.5 477.4L47.5 477.8L47.8 478.1L47.7 479.1L47.5 479.3L46.5 480.1L46.5 480.1L45.5 480.5L44.5 480.8L43.5 480.8L42.5 480.7L41.5 480.5 M69.7 479.1L70.5 478.8L71.5 478.5L72.5 478.3L73.5 478.3L74.5 478.4L75.5 478.6L76.5 478.9L77.0 479.1L77.5 479.3L78.3 480.1L77.5 480.6L77.0 481.1L76.5 481.3L75.5 481.8L74.5 482.1L74.1 482.1L73.5 482.1L72.9 482.1L72.5 482.1L71.5 481.9L70.5 481.6L69.5 481.2L69.3 481.1L68.7 480.1L69.5 479.2L69.7 479.1 M97.9 484.1L98.3 483.1L98.5 482.9L99.1 482.1L99.5 481.2L99.6 481.1L99.5 480.7L99.3 480.1L98.5 479.7L97.5 479.5L96.5 479.5L95.5 479.6L94.5 479.6L93.5 479.6L92.5 479.6L91.5 479.6L90.5 479.6L89.5 479.6L88.5 479.5L87.5 479.3L86.8 479.1L86.5 479.0L85.5 478.8L84.5 478.6L83.5 478.5L82.5 478.5L81.5 478.3L80.5 478.1L80.5 478.1L79.5 478.0L78.5 477.8L77.5 477.7L76.5 477.6L75.5 477.6L74.5 477.6L73.6 477.1L73.5 477.1L72.5 476.6L72.1 476.1L71.5 475.3L71.4 475.1L70.6 474.1L70.5 474.0L69.5 473.5L68.5 473.3L67.5 473.3L66.5 473.4L65.5 473.6L64.5 473.9L63.8 474.1L63.5 474.2L62.5 474.7L61.5 475.0L60.5 475.1L59.5 475.1L59.4 475.1L58.5 475.4L57.5 475.6L56.5 475.6L55.5 475.5L54.5 475.4L53.5 475.2L52.9 475.1L52.5 475.1L51.5 475.0L50.5 475.0L49.5 475.0L48.5 475.0L47.5 475.0L46.5 474.9L45.5 474.8L44.5 474.5L43.8 474.1L43.5 473.9L42.5 473.4L41.8 473.1L41.5 472.9 M41.5 380.0L42.3 379.1L42.5 378.1L42.2 377.1L42.0 376.1L42.5 375.1L42.5 375.1L43.5 374.3L43.9 374.1L44.5 373.7L45.5 373.7L46.5 374.0L46.8 374.1L47.5 374.3L48.5 374.6L49.5 375.1L49.5 375.1L50.5 375.5L51.5 375.9L51.9 376.1L52.5 376.3L53.5 376.5L54.5 376.7L55.5 376.8L56.5 376.9L57.5 377.1L57.5 377.1L58.5 377.4L59.5 377.7L60.5 377.7L61.5 377.5L62.5 377.1L62.6 377.1L63.5 376.2L63.6 376.1L64.5 375.2L64.6 375.1L65.5 374.4L66.4 374.1L66.5 374.1L67.5 374.0L68.5 374.1L68.5 374.1L69.5 374.3L70.5 374.5L71.5 374.6L72.5 374.5L73.5 374.2L73.7 374.1L74.5 373.8L75.5 373.4L76.4 373.1L76.5 373.1L77.5 372.8L78.5 372.6L79.5 372.3L80.5 372.1L80.6 372.1L81.5 372.0L82.5 371.8L83.5 371.7L84.5 371.6L85.5 371.4L86.5 371.1L86.5 371.1L87.5 370.5L88.3 370.1L88.5 370.0L89.5 369.7L90.5 369.6L91.5 369.6L92.5 369.6L93.5 369.8L94.5 370.0L95.5 370.1L96.5 370.0L97.5 369.4L97.9 369.1L98.4 368.1L98.5 368.0L99.5 367.2L99.7 367.1L100.5 366.8L101.5 366.7L102.5 367.0L102.7 367.1L103.5 367.4L104.5 367.9L105.1 368.1L105.5 368.2L106.5 368.4L107.5 368.4L108.5 368.3L109.4 368.1L109.5 368.1L110.5 367.8L111.5 367.8L112.5 367.9L113.1 368.1L113.5 368.3L114.4 369.1L114.0 370.1L113.5 371.0L113.5 371.1L113.5 371.8L113.5 372.1L114.1 373.1L114.5 373.5L115.4 374.1L115.5 374.2L116.5 374.5L117.5 374.6L118.5 374.6L119.5 374.5L120.5 374.3L121.1 374.1L121.5 374.0L122.5 374.0L123.5 374.0L124.0 374.1L124.5 374.2L125.5 374.6L126.5 375.1L126.6 375.1L127.0 376.1L126.6 377.1L127.3 378.1L127.5 378.1L128.5 378.4L129.5 378.7L130.5 379.1L130.5 379.1L131.5 379.4L132.5 379.7L133.5 380.0L133.8 380.1L134.5 380.2L135.5 380.4L136.5 380.5L137.5 380.6L138.5 380.9L139.3 381.1L139.5 381.2L140.5 381.6L141.5 382.1L141.6 382.1L142.5 382.7L143.0 383.1L143.5 383.8L143.7 384.1L143.7 385.1L143.5 385.5L142.9 386.1L142.5 386.5L141.5 386.9L140.5 387.0L139.5 387.1L139.2 387.1L139.5 387.1L140.5 387.2L141.5 387.3L142.5 387.9L142.7 388.1L143.5 388.4L144.5 388.8L145.2 389.1L145.5 389.2L146.5 389.4L147.5 389.6L148.5 389.7L149.5 389.7L150.5 389.7L151.5 389.8L152.5 390.1L152.5 390.1L153.4 391.1L153.0 392.1L152.5 392.8L152.3 393.1L152.5 393.5L152.9 394.1L153.5 394.3L154.5 394.5L155.5 394.5L156.5 394.5L157.5 394.6L158.5 394.8L159.4 395.1L159.5 395.1L160.5 395.6L161.2 396.1L161.5 396.3L162.4 397.1L162.5 397.1L163.5 397.6L164.5 397.9L165.2 398.1L165.5 398.2L166.5 398.3L167.5 398.3L168.5 398.4L169.5 398.5L170.5 398.6L171.5 398.9L172.2 399.1L172.5 399.2L173.5 399.4L174.5 399.7L175.5 399.8L176.5 399.9L177.5 399.9L178.5 399.9L179.5 400.0L180.4 400.1L180.5 400.1L181.5 400.3L182.5 400.6L183.5 401.0L183.7 401.1L184.5 401.6L185.4 402.1L185.5 402.2L186.5 402.7L187.5 403.0L187.9 403.1L188.5 403.2L189.5 403.5L190.5 403.7L191.5 404.1L191.6 404.1L192.5 404.5L193.5 404.9L194.1 405.1L194.5 405.2L195.5 405.6L196.5 405.9L197.3 406.1L197.5 406.3L198.1 407.1L198.1 408.1L198.5 408.8L199.5 409.0L200.5 408.7L201.5 408.5L202.5 408.3L203.5 408.3L204.5 408.4L205.5 408.6L206.5 408.9L207.0 409.1L207.5 409.3L208.5 409.7L209.5 410.0L209.7 410.1L210.5 410.3L211.5 410.6L212.5 411.0L212.9 411.1L213.5 411.4L214.5 411.9L214.9 412.1L215.1 413.1L214.6 414.1L214.5 414.2L214.0 415.1L213.7 416.1L214.0 417.1L214.5 417.7L215.1 418.1L215.5 418.4L216.5 418.7L217.5 418.8L218.5 418.8L219.5 418.8L220.5 418.6L221.5 418.4L222.5 418.1L222.6 418.1L223.5 417.8L224.5 417.1L224.6 417.1L225.5 416.1L225.5 416.1L226.2 415.1L226.4 414.1L225.5 413.3L225.2 413.1L225.5 412.6L226.5 413.1L226.5 413.1L227.5 413.9L227.8 414.1L228.5 414.3L229.5 414.8L230.1 415.1L230.5 415.3L231.5 415.9L231.8 416.1L232.1 417.1L231.7 418.1L231.5 418.7L231.4 419.1L231.2 420.1L231.1 421.1L231.4 422.1L231.5 422.2L232.5 422.9L233.5 423.0L234.5 423.0L235.5 422.8L236.5 422.6L237.5 422.4L238.5 422.4L239.5 422.9L239.6 423.1L239.5 423.2L239.0 424.1L238.5 424.8L238.2 425.1L238.1 426.1L238.5 426.4L239.5 427.0L239.6 427.1L240.5 427.5L241.5 427.9L242.2 428.1L242.5 428.3L243.5 428.8L244.0 429.1L244.4 430.1L244.5 430.5L244.7 431.1L245.4 432.1L245.5 432.4L245.7 433.1L245.6 434.1L245.6 435.1L246.5 435.5L247.5 435.5L248.5 435.4L249.5 435.3L250.5 435.1L250.9 435.1L251.5 435.0L252.5 435.0L252.7 435.1L253.5 435.4L254.2 436.1L254.5 436.5L254.8 437.1L254.7 438.1L254.5 438.4L254.0 439.1L253.5 439.8L253.2 440.1L252.5 441.1L252.5 441.2L251.5 442.1L251.5 442.1L250.5 442.2L249.5 442.2L249.2 442.1L248.5 441.9L247.5 441.6L246.5 441.2L246.3 441.1L245.5 440.6L244.9 440.1L245.1 439.1L245.5 438.1L245.5 437.9L245.7 437.1L245.5 436.1L245.5 435.7L244.5 435.6L243.5 435.7L242.5 435.9L241.8 436.1L241.5 436.1L240.5 436.3L239.5 436.4L238.5 436.5L237.5 436.5L236.5 436.4L235.6 436.1L235.5 436.1L234.5 435.5L233.9 435.1L233.5 434.9L232.5 434.5L231.5 434.1L231.1 434.1L230.5 434.1L230.4 434.1L230.1 435.1L230.5 435.6L231.0 436.1L230.5 437.0L229.5 436.7L228.5 436.4L227.5 436.2L226.5 436.2L225.5 436.4L224.5 437.0L224.3 437.1L224.5 437.6L224.8 438.1L225.5 438.5L226.5 439.0L226.8 439.1L227.5 439.3L228.5 439.4L229.5 439.2L229.8 439.1L230.5 438.6L231.5 438.1L231.8 438.1L232.5 437.8L233.5 437.9L234.4 438.1L234.5 438.1L235.5 438.3L236.5 438.7L237.2 439.1L237.5 439.3L238.5 439.9L238.8 440.1L239.5 440.9L239.7 441.1L239.5 442.1L239.5 442.1L238.8 443.1L238.5 443.3L237.5 443.7L236.5 443.9L235.5 444.0L234.5 443.8L233.5 443.6L232.5 443.2L232.4 443.1L231.5 442.8L230.5 442.5L229.5 442.3L228.5 442.1L227.5 442.2L226.5 442.3L225.5 442.5L224.5 442.6L223.5 442.5L222.5 442.2L222.3 442.1L221.5 441.7L220.5 441.2L220.4 441.1L219.5 440.7L218.5 440.4L217.5 440.2L216.5 440.2L215.5 440.9L215.4 441.1L214.9 442.1L214.5 442.4L213.5 443.1L213.5 443.1L212.5 443.6L211.5 444.0L211.2 444.1L210.5 444.8L210.2 445.1L209.5 445.6L208.5 445.9L207.5 446.0L206.5 446.0L205.5 446.0L204.5 446.0L204.0 446.1L203.5 446.1L202.5 446.3L201.5 446.5L200.5 446.9L200.0 447.1L199.5 447.3L198.5 447.6L197.5 447.8L196.5 447.9L195.5 447.8L194.5 447.5L193.5 447.2L193.1 447.1L192.5 446.9L191.5 446.6L190.5 446.3L189.6 446.1L189.5 446.1L188.5 445.9L187.5 445.9L186.5 445.9L185.5 446.0L184.5 446.1L184.5 446.1L183.5 446.2L182.5 446.3L181.5 446.4L180.5 446.6L179.5 446.8L178.5 447.1L178.3 447.1L177.5 447.3L176.5 447.4L175.5 447.5L174.5 447.5L173.5 447.5L172.5 447.3L172.1 447.1L171.5 446.9L170.5 446.3L170.3 446.1L169.5 445.7L168.6 445.1L168.5 445.1L167.5 444.7L166.5 444.6L165.5 444.5L164.5 444.6L163.5 444.9L163.1 445.1L162.5 445.9L162.4 446.1L162.5 446.3L163.1 447.1L163.5 447.3L164.5 447.6L165.5 447.8L166.5 448.0L166.8 448.1L167.5 448.4L168.5 449.1L168.0 450.1L167.5 450.3L166.5 450.7L165.5 451.1L165.5 451.1L164.5 451.4L163.5 451.7L162.6 452.1L162.5 452.1L161.5 452.5L160.5 452.9L159.8 453.1L159.5 453.2L158.5 453.3L157.5 453.4L156.5 453.3L155.5 453.2L155.2 453.1L154.5 452.9L153.5 452.5L152.9 452.1L152.5 451.5L152.3 451.1L151.5 450.3L151.2 450.1L150.5 450.0L149.5 450.0L148.6 450.1L148.5 450.1L147.5 450.5L146.5 451.0L146.3 451.1L145.5 451.9L145.3 452.1L144.5 452.9L144.2 453.1L143.5 453.6L142.7 454.1L142.5 454.2L141.5 454.7L140.5 455.0L140.2 455.1L139.5 455.3L138.5 455.4L137.5 455.5L136.5 455.6L135.5 455.6L134.5 455.7L133.5 455.8L132.5 455.9L131.5 456.0L130.8 456.1L130.5 456.1L129.5 456.2L128.5 456.3L127.5 456.3L126.5 456.2L125.6 456.1L125.5 456.1L124.5 455.8L123.5 455.2L123.3 455.1L122.5 454.4L122.0 454.1L121.5 453.7L120.5 453.3L119.5 453.2L118.5 453.3L117.5 453.4L116.5 453.5L115.5 453.5L114.5 453.6L113.5 453.7L112.5 453.8L111.5 453.9L110.5 454.0L109.5 454.1L109.3 454.1L109.5 454.4L109.7 455.1L110.5 455.4L110.9 456.1L111.1 457.1L110.8 458.1L110.5 458.8L110.3 459.1L110.5 459.8L110.6 460.1L111.5 460.7L112.1 461.1L111.5 461.8L110.7 462.1L110.5 462.1L110.4 462.1L109.5 461.6L108.5 461.1L108.4 461.1L107.5 460.7L106.5 460.5L105.5 460.3L105.1 460.1L104.5 459.9L103.5 459.3L103.2 459.1L102.5 458.8L101.5 458.7L100.5 458.8L99.5 458.9L98.5 458.8L97.5 458.6L96.7 458.1L96.5 458.0L95.5 457.2L95.4 457.1L94.5 456.6L93.5 456.2L92.5 456.2L91.5 456.4L90.5 456.8L89.9 457.1L89.5 457.3L88.5 457.7L87.5 457.9L86.5 457.9L85.5 457.9L84.5 457.8L83.5 457.7L82.5 457.7L81.5 457.6L80.5 457.5L79.5 457.3L78.5 457.1L78.5 457.1L77.5 456.9L76.5 456.5L75.5 456.2L75.3 456.1L74.5 455.1L74.4 455.1L74.5 455.0L75.1 454.1L75.5 453.7L75.9 453.1L75.5 452.5L75.0 452.1L74.5 452.0L73.5 451.9L72.5 451.8L71.5 451.8L70.5 451.9L69.7 452.1L69.5 453.1L70.3 454.1L70.5 455.1L70.5 455.1L70.5 455.1L69.5 455.7L68.7 456.1L68.5 456.1L67.5 456.2L67.0 456.1L66.5 456.0L65.5 455.6L64.5 455.1L64.5 455.1L63.5 454.8L62.5 454.6L61.5 454.5L60.5 454.4L59.5 454.3L58.5 454.6L57.5 454.8L56.5 454.8L55.5 454.8L54.5 454.7L53.5 454.6L52.5 454.6L51.5 454.5L50.5 454.4L49.5 454.3L48.5 454.2L48.1 454.1L47.5 454.0L46.5 453.8L45.5 453.7L44.5 453.5L43.8 453.1L43.5 452.9L42.5 452.4L42.0 452.1L41.5 451.8 M221.3 411.1L221.5 411.0L222.5 411.0L223.2 411.1L223.5 411.4L224.5 411.8L225.2 412.1L224.5 412.6L223.5 412.3L222.8 412.1L222.5 411.7L221.5 411.2L221.3 411.1 M273.5 435.7L272.5 435.9L272.1 436.1L271.5 436.3L270.5 436.7L270.1 437.1L269.5 437.7L269.1 438.1L268.5 438.9L268.4 439.1L267.5 439.8L266.9 440.1L266.5 440.3L265.5 440.5L264.5 440.6L263.5 440.5L262.5 440.3L262.3 440.1L261.5 439.1L261.5 439.1L260.8 438.1L260.5 437.7L259.9 437.1L259.5 436.7L258.9 436.1L258.5 435.4L258.2 435.1L257.7 434.1L257.5 433.9L256.5 433.1L256.5 433.1L255.5 432.6L254.8 432.1L254.5 431.8L254.0 431.1L253.7 430.1L253.5 429.7L253.2 429.1L252.5 428.5L252.1 428.1L251.5 427.2L251.4 427.1L251.5 427.0L252.5 426.3L253.5 426.1L254.5 426.3L255.5 426.6L256.4 427.1L256.5 427.2L257.1 428.1L257.5 428.9L257.6 429.1L258.5 429.9L258.7 430.1L259.5 430.6L260.5 431.0L260.7 431.1L261.5 431.5L262.5 432.0L262.8 432.1L263.5 432.5L264.5 433.0L264.7 433.1L265.5 433.3L266.5 433.5L267.5 433.7L268.5 433.8L269.5 433.9L270.5 433.9L271.5 433.8L272.5 433.7L273.5 433.3 M209.5 438.8L209.1 439.1L209.5 439.3L210.5 439.3L211.5 439.2L211.9 439.1L211.5 438.9L210.5 438.7L209.5 438.8 M41.5 387.3L41.7 387.1L42.5 386.1L42.5 386.1L43.4 385.1L43.5 385.0L44.5 384.1L44.7 384.1L45.5 383.9L46.5 383.9L47.5 384.0L48.2 384.1L48.5 384.1L49.5 384.3L50.5 384.4L51.5 384.7L52.5 384.8L53.5 384.9L54.5 384.8L55.5 384.5L56.3 384.1L56.5 384.0L57.5 383.4L58.5 383.2L59.4 383.1L59.5 383.1L60.5 382.8L61.5 382.5L62.5 382.3L63.5 382.2L64.5 382.2L65.5 382.2L66.5 382.3L67.5 382.4L68.5 382.5L69.5 382.5L70.5 382.4L71.5 382.3L72.5 382.2L72.9 382.1L73.5 381.6L74.5 381.4L75.5 381.7L76.5 381.9L77.5 382.1L77.6 382.1L78.5 382.2L79.5 382.3L80.5 382.4L81.5 382.7L82.5 382.9L83.3 383.1L83.5 383.1L83.9 383.1L84.5 383.0L85.5 382.5L86.0 382.1L85.6 381.1L85.5 380.8L85.2 380.1L85.5 379.9L86.5 379.4L87.5 379.1L88.5 379.2L89.5 379.4L90.5 379.7L91.5 380.0L91.7 380.1L92.5 380.5L93.5 380.9L94.2 381.1L94.5 381.1L95.2 381.1L95.5 381.1L96.5 380.7L97.5 380.2L97.9 380.1L98.5 380.0L99.5 379.9L100.5 379.9L101.5 380.0L101.7 380.1L102.5 380.4L103.5 380.7L104.5 380.9L105.5 380.9L106.5 380.8L107.5 380.6L108.5 380.4L109.5 380.2L110.5 380.2L111.5 380.3L112.5 380.8L113.0 381.1L113.5 381.5L114.1 382.1L114.5 382.9L114.6 383.1L114.9 384.1L115.4 385.1L115.5 385.3L116.2 386.1L116.5 386.3L117.5 386.8L118.5 387.0L119.5 387.0L120.5 386.9L121.5 386.7L122.5 386.6L123.5 386.5L124.5 386.6L125.5 386.8L126.3 387.1L126.5 387.2L127.5 387.6L128.3 388.1L128.5 388.2L129.5 388.7L130.5 389.0L130.7 389.1L131.5 389.3L132.5 389.6L133.5 390.0L133.9 390.1L134.5 390.4L135.5 390.8L136.2 391.1L136.5 391.3L137.5 391.8L138.3 392.1L138.5 392.9L138.5 393.1L138.5 393.1L137.5 393.4L136.5 393.6L135.5 393.7L134.5 393.8L133.7 394.1L134.5 394.5L135.5 394.8L135.9 395.1L136.5 395.3L137.3 396.1L137.5 396.4L137.8 397.1L137.9 398.1L138.3 399.1L138.5 399.2L139.5 399.6L140.5 399.7L141.5 399.7L142.5 399.6L143.5 399.5L144.5 399.5L145.5 399.9L145.8 400.1L146.5 400.4L147.5 400.9L147.9 401.1L148.5 401.4L149.5 401.9L149.8 402.1L150.5 402.5L151.5 403.1L151.5 403.1L152.5 403.7L153.0 404.1L153.5 404.5L154.2 405.1L154.5 405.5L155.2 406.1L155.5 406.4L156.5 407.0L157.0 407.1L157.5 407.2L158.5 407.3L159.5 407.2L160.3 407.1L160.5 407.1L161.5 406.9L162.5 406.7L163.5 406.5L164.5 406.4L165.5 406.4L166.5 406.8L166.8 407.1L166.5 408.0L166.5 408.1L165.5 408.8L165.0 409.1L164.5 409.4L163.5 410.1L163.4 410.1L163.5 410.2L164.2 411.1L164.5 411.2L165.5 411.6L166.5 412.1L166.6 412.1L167.5 412.5L168.5 413.0L168.7 413.1L169.5 413.4L170.5 413.8L171.3 414.1L171.5 414.2L172.5 414.5L173.5 414.9L173.8 415.1L174.4 416.1L174.5 417.1L173.8 418.1L173.5 418.4L172.5 418.9L171.5 419.1L171.3 419.1L171.5 419.1L172.5 419.3L173.5 419.6L174.5 419.9L175.2 420.1L175.5 420.2L176.5 420.3L177.5 420.4L178.5 420.3L179.1 420.1L179.5 420.0L180.5 419.6L181.5 419.2L181.8 419.1L182.5 418.6L183.3 418.1L183.5 417.8L184.1 417.1L184.5 416.8L185.5 416.4L186.5 416.2L187.5 416.5L188.2 417.1L188.5 417.6L188.8 418.1L189.5 419.0L189.6 419.1L189.5 419.1L188.5 420.1L188.5 420.1L187.9 421.1L187.5 421.6L187.2 422.1L186.5 423.1L186.5 423.1L185.8 424.1L185.9 425.1L186.5 425.4L187.5 425.8L188.5 426.0L189.2 426.1L189.5 426.2L190.5 426.8L190.8 427.1L190.5 427.4L189.8 428.1L189.5 428.2L188.5 428.6L187.5 428.8L186.5 429.1L186.4 429.1L185.5 429.4L184.7 430.1L184.5 430.5L184.3 431.1L183.5 432.0L183.4 432.1L182.5 432.5L181.5 432.6L180.5 432.6L179.7 432.1L180.4 431.1L180.5 430.8L181.0 430.1L180.6 429.1L180.5 429.1L179.5 428.9L178.5 428.9L177.5 429.0L176.5 429.1L176.2 429.1L175.5 429.2L174.5 429.4L173.5 429.7L172.5 430.1L172.5 430.1L172.2 431.1L172.5 431.4L173.3 432.1L173.5 432.3L174.5 433.0L174.9 433.1L175.0 434.1L174.5 434.4L173.5 435.1L173.5 435.1L172.5 435.4L171.5 435.7L170.5 436.0L170.1 436.1L169.5 436.2L168.5 436.4L167.5 436.7L166.5 437.0L166.2 437.1L165.5 437.3L164.5 437.5L163.5 437.6L162.5 437.6L161.5 437.5L160.5 437.2L160.0 437.1L159.5 437.0L158.5 436.9L157.5 436.9L156.5 436.9L155.5 437.1L155.3 437.1L154.5 437.3L153.5 437.5L152.5 437.5L151.5 437.3L151.2 437.1L150.5 437.0L149.5 436.8L148.5 436.7L147.5 437.0L147.4 437.1L146.8 438.1L146.5 438.5L146.0 439.1L145.5 439.5L144.5 440.0L144.4 440.1L143.5 440.7L142.8 441.1L142.5 441.3L141.5 442.0L141.4 442.1L140.5 442.6L139.5 442.9L138.5 443.1L138.4 443.1L137.5 443.2L136.5 443.3L135.5 443.3L134.5 443.4L133.5 443.4L132.5 443.4L131.5 443.6L130.5 444.0L130.5 444.1L129.5 444.5L128.5 445.1L128.5 445.1L127.5 445.4L126.5 445.6L125.5 445.7L124.5 445.9L123.6 446.1L123.5 446.1L122.5 446.3L121.5 446.6L120.5 446.8L119.6 447.1L119.5 447.1L118.5 447.4L117.5 447.7L116.5 448.0L116.2 448.1L115.5 448.3L114.5 448.6L113.5 448.9L112.8 449.1L112.5 449.2L111.5 449.3L110.5 449.4L109.5 449.4L108.5 449.4L107.5 449.4L106.5 449.3L105.9 449.1L105.5 449.0L104.5 448.4L104.0 448.1L103.5 447.8L102.5 447.4L101.5 447.2L100.9 447.1L100.5 447.1L99.5 447.0L98.5 447.0L97.5 447.0L96.5 446.8L95.5 446.6L94.5 446.3L93.5 446.1L93.4 446.1L92.5 446.0L91.5 446.0L90.5 446.1L90.5 446.1L89.5 446.2L88.5 446.2L87.5 446.2L86.5 446.2L85.5 446.3L84.5 446.5L83.5 446.7L82.5 446.9L81.7 447.1L81.5 447.1L80.5 447.2L79.5 447.3L78.5 447.3L77.5 447.3L76.5 447.2L75.5 447.1L75.5 447.1L74.5 446.9L73.5 446.7L72.5 446.5L71.5 446.4L70.5 446.4L69.5 446.5L68.5 446.7L67.5 446.8L66.5 446.9L65.5 446.8L64.5 446.6L63.5 446.3L62.5 446.1L62.3 446.1L61.5 446.0L60.5 446.1L60.4 446.1L59.5 446.5L59.1 447.1L58.6 448.1L58.5 448.2L57.5 449.1L57.5 449.1L56.5 449.4L55.5 449.6L54.5 449.7L53.5 449.6L52.5 449.3L51.9 449.1L51.5 448.2L51.4 448.1L51.1 447.1L50.5 446.9L49.5 446.8L48.5 447.0L48.0 447.1L47.5 447.3L46.5 447.6L45.5 447.8L44.5 447.8L43.5 447.2L43.4 447.1L42.5 446.6L41.7 446.1L41.5 445.9 M197.9 422.1L198.5 421.3L199.5 421.6L200.2 422.1L199.5 422.4L198.5 422.4L197.9 422.1 M164.5 426.1L164.4 426.1L164.5 426.7L164.7 427.1L165.5 427.3L166.5 427.3L167.5 427.2L167.9 427.1L168.5 426.8L169.5 426.2L169.6 426.1L169.5 426.0L168.5 425.6L167.5 425.5L166.5 425.6L165.5 425.7L164.5 426.1 M151.4 439.1L151.5 439.1L151.7 439.1L152.5 439.3L153.3 440.1L152.5 440.5L151.5 440.7L150.5 440.6L149.8 440.1L150.5 439.5L151.4 439.1 M126.5 441.9L126.3 442.1L126.5 442.1L127.4 442.1L126.5 441.9 M144.8 446.1L145.5 445.7L146.5 445.8L146.8 446.1L146.5 446.3L145.5 446.4L144.8 446.1 M41.5 401.0L42.5 400.3L42.7 400.1L43.2 399.1L43.3 398.1L43.5 397.5L43.6 397.1L44.3 396.1L44.5 395.9L45.5 395.9L46.3 396.1L46.5 396.1L47.5 396.2L48.5 396.1L48.6 396.1L49.5 395.8L50.5 395.2L50.6 395.1L51.5 394.2L51.6 394.1L52.5 393.6L53.5 393.3L54.3 393.1L54.5 393.0L55.5 392.8L56.5 392.6L57.5 392.5L58.5 392.7L59.4 393.1L59.5 393.1L60.5 393.5L61.5 393.9L62.1 394.1L62.5 394.3L63.5 394.8L64.2 395.1L64.5 395.3L65.5 396.0L65.6 396.1L66.5 396.9L67.0 397.1L67.5 397.2L68.5 397.2L69.5 397.1L69.7 397.1L70.5 397.0L71.5 396.8L72.5 396.8L73.5 396.7L74.5 396.5L75.3 396.1L75.5 395.7L75.7 395.1L76.5 394.2L76.6 394.1L77.5 393.8L78.5 393.5L79.5 393.2L80.5 393.1L80.5 393.1L81.5 393.0L82.5 393.0L83.5 393.1L83.8 393.1L84.5 393.2L85.5 393.5L86.5 393.9L86.8 394.1L87.5 394.8L87.8 395.1L88.5 396.0L88.6 396.1L89.5 396.6L90.5 396.7L91.5 396.7L92.5 396.5L93.5 396.2L93.8 396.1L94.5 395.9L95.5 395.7L96.5 395.5L97.5 395.6L98.5 395.8L99.5 395.9L100.5 396.0L101.3 396.1L101.5 396.1L102.5 396.4L103.5 396.8L103.9 397.1L104.2 398.1L104.5 398.5L104.9 399.1L105.5 399.7L106.0 400.1L106.5 401.0L106.6 401.1L106.5 401.4L106.2 402.1L106.2 403.1L106.5 403.4L107.3 404.1L107.5 404.2L108.5 404.9L108.8 405.1L109.5 405.9L109.7 406.1L110.2 407.1L110.5 407.4L111.5 407.7L112.5 407.7L113.5 407.3L113.7 407.1L114.5 406.7L115.5 406.2L115.8 406.1L116.5 405.9L117.5 405.8L118.5 405.8L119.5 406.1L119.6 406.1L120.5 406.9L120.7 407.1L120.5 407.8L120.4 408.1L120.0 409.1L120.4 410.1L120.5 410.2L121.4 411.1L121.5 411.1L122.5 411.9L122.7 412.1L123.5 412.7L123.9 413.1L124.1 414.1L123.5 414.6L123.0 415.1L122.5 415.4L121.6 416.1L121.5 416.2L120.6 417.1L120.7 418.1L120.9 419.1L120.5 419.7L120.3 420.1L119.5 420.5L118.5 420.8L117.5 421.0L116.5 421.1L116.4 421.1L115.5 421.2L114.5 421.3L113.5 421.5L112.5 421.8L111.8 422.1L111.5 422.3L110.5 422.8L110.0 423.1L110.0 424.1L110.5 424.7L111.1 425.1L111.5 425.5L112.5 425.9L113.5 426.0L114.4 426.1L114.5 426.1L115.5 426.8L115.9 427.1L115.5 427.2L114.5 427.2L113.5 427.1L113.1 427.1L112.5 426.8L111.5 426.6L110.5 426.7L109.5 426.8L108.5 427.0L107.6 427.1L107.5 427.1L106.5 427.3L105.5 427.7L105.0 428.1L104.5 428.6L104.1 429.1L103.7 430.1L103.5 430.9L103.5 431.1L103.1 432.1L102.8 433.1L102.5 433.5L102.0 434.1L101.5 434.3L100.5 434.5L99.5 434.4L98.5 434.2L98.3 434.1L97.5 433.7L96.6 433.1L96.5 433.0L95.5 432.2L95.3 432.1L94.5 431.5L93.7 431.1L93.5 431.0L92.5 430.6L91.5 430.5L90.5 430.4L89.5 430.5L88.5 430.7L87.5 431.0L87.2 431.1L86.5 431.3L85.5 431.6L84.5 432.0L84.3 432.1L83.5 432.4L82.5 432.6L81.5 432.8L80.5 433.0L80.1 433.1L79.5 433.2L78.5 433.3L77.5 433.5L76.5 433.7L75.5 433.8L74.5 433.9L73.5 433.8L72.5 433.7L71.5 433.4L70.5 433.2L69.5 433.2L68.5 433.6L67.6 434.1L67.5 434.6L67.0 435.1L66.5 435.2L65.5 435.1L65.2 435.1L64.5 435.0L63.5 434.9L62.5 434.9L61.5 434.9L60.5 434.9L59.5 434.9L58.5 435.0L57.5 435.0L56.5 435.0L55.5 434.9L54.5 434.8L53.5 434.7L52.5 434.7L51.5 434.8L50.5 435.1L50.5 435.1L49.5 435.4L48.5 435.8L47.5 436.0L46.6 436.1L46.5 436.1L45.5 436.2L45.0 436.1L44.5 436.0L43.5 435.1L43.5 435.1L42.7 434.1L42.5 433.5L42.4 433.1L42.2 432.1L41.7 431.1L41.5 430.9 M110.5 414.0L110.2 414.1L109.5 414.6L109.0 415.1L109.1 416.1L109.5 416.5L110.4 417.1L110.5 417.2L111.5 417.6L112.5 417.8L113.5 417.8L114.5 417.6L115.5 417.1L115.6 417.1L116.5 416.2L116.5 416.1L116.8 415.1L116.6 414.1L116.5 414.0L115.5 413.5L114.5 413.4L113.5 413.4L112.5 413.5L111.5 413.7L110.5 414.0 M41.5 406.0L42.4 405.1L42.5 405.0L43.1 404.1L43.5 403.4L43.7 403.1L44.5 402.1L44.5 402.1L45.5 401.7L46.5 401.6L47.5 401.4L48.5 401.3L49.5 401.4L50.5 401.5L51.5 401.8L52.5 402.1L52.8 402.1L53.5 402.2L54.5 402.2L54.9 402.1L55.5 402.0L56.5 401.9L57.5 401.7L58.5 401.8L59.5 402.0L60.5 402.1L60.9 402.1L61.5 402.1L62.5 402.2L63.5 402.4L64.5 402.6L65.5 402.9L66.1 403.1L66.5 403.3L67.5 403.8L68.0 404.1L68.3 405.1L67.9 406.1L67.8 407.1L68.5 407.8L68.9 408.1L69.5 408.4L70.5 408.6L71.5 408.9L72.0 409.1L72.5 409.2L73.5 409.5L74.5 409.8L75.5 410.1L75.5 410.1L76.5 410.4L77.5 410.7L78.5 411.0L79.5 411.0L80.5 411.0L81.5 410.9L82.5 410.8L83.5 410.9L84.3 411.1L84.5 411.3L85.5 412.1L85.5 412.1L85.5 412.1L84.5 412.4L83.5 412.5L82.5 412.7L81.5 413.1L81.5 413.1L80.5 413.7L80.1 414.1L79.5 414.6L79.0 415.1L78.5 415.4L77.5 416.1L77.5 416.1L76.5 416.7L75.5 417.1L75.3 417.1L74.5 417.5L73.5 417.9L73.0 418.1L72.5 419.0L72.5 419.1L72.5 419.2L72.8 420.1L72.8 421.1L72.5 421.5L71.8 422.1L71.5 422.3L70.5 422.5L69.5 422.6L68.5 422.7L67.5 422.8L66.5 423.0L66.1 423.1L65.5 423.3L64.5 423.7L63.6 424.1L63.5 424.2L62.5 424.7L61.5 425.1L61.5 425.1L60.5 425.6L59.5 426.0L59.3 426.1L58.5 426.5L57.5 426.7L56.5 426.7L55.5 426.7L54.5 426.7L53.5 426.7L52.5 426.8L51.5 427.0L51.1 427.1L50.5 427.5L49.7 428.1L49.5 428.5L49.0 429.1L48.5 429.3L47.5 429.5L46.5 429.5L45.5 429.4L44.8 429.1L44.5 428.9L44.1 428.1L43.8 427.1L43.5 426.4L43.4 426.1L42.8 425.1L42.5 424.7L42.0 424.1L41.5 423.4 M43.9 408.1L44.5 407.4L45.5 407.3L46.5 407.5L47.5 407.7L48.5 408.0L48.8 408.1L49.5 408.5L50.5 408.8L51.5 409.0L52.5 409.1L52.5 409.1L53.0 409.1L53.5 409.1L54.5 409.0L55.5 409.0L56.5 408.8L57.5 408.7L58.5 409.0L58.9 409.1L59.5 409.3L60.5 409.7L61.5 410.1L61.5 410.1L62.5 410.8L62.8 411.1L62.9 412.1L62.6 413.1L62.5 413.2L62.1 414.1L61.8 415.1L61.5 416.1L61.6 417.1L61.8 418.1L61.7 419.1L61.5 419.3L60.9 420.1L60.5 420.4L59.5 421.0L59.3 421.1L58.5 421.4L57.5 421.5L56.5 421.4L55.5 421.3L54.8 421.1L54.5 421.0L53.5 420.6L52.7 420.1L52.5 419.9L51.9 419.1L51.5 418.3L51.3 418.1L50.5 417.5L49.5 417.2L48.5 417.1L47.5 417.2L46.5 417.3L45.5 417.7L44.5 417.8L44.0 417.1L43.6 416.1L43.8 415.1L44.0 414.1L44.1 413.1L43.7 412.1L43.5 411.5L43.4 411.1L43.3 410.1L43.5 409.1L43.5 409.0L43.9 408.1" fill="none" stroke="#000" stroke-opacity="0.75" stroke-width="0.6"/>
<line x1="41.0" x2="274.2" y1="471.03" y2="471.03" stroke="#b4b4b4" stroke-opacity="0.85" stroke-width="1"/>
<line x1="41.0" x2="274.2" y1="443.38" y2="443.38" stroke="#b4b4b4" stroke-opacity="0.85" stroke-width="1"/>
<line x1="41.0" x2="274.2" y1="388.08" y2="388.08" stroke="#b4b4b4" stroke-opacity="0.85" stroke-width="1"/>
<line x1="41.0" x2="274.2" y1="360.43" y2="360.43" stroke="#b4b4b4" stroke-opacity="0.85" stroke-width="1"/>
<line x1="87.64" x2="87.64" y1="346.6" y2="484.9" stroke="#b4b4b4" stroke-opacity="0.85" stroke-width="1"/>
<line x1="134.28" x2="134.28" y1="346.6" y2="484.9" stroke="#b4b4b4" stroke-opacity="0.85" stroke-width="1"/>
<line x1="180.92" x2="180.92" y1="346.6" y2="484.9" stroke="#b4b4b4" stroke-opacity="0.85" stroke-width="1"/>
<line x1="227.56" x2="227.56" y1="346.6" y2="484.9" stroke="#b4b4b4" stroke-opacity="0.85" stroke-width="1"/>
<line x1="41.0" x2="274.2" y1="415.73" y2="415.73" stroke="#111" stroke-width="0.9"/>
<line x1="68.98" x2="68.98" y1="346.6" y2="484.9" stroke="#111" stroke-width="1.5"/>
<polyline points="41.0,411.85 50.3,412.69 59.7,413.61 69.0,414.62 78.3,415.70 87.6,416.88 97.0,418.21 106.3,419.80 115.6,421.61 125.0,423.53 134.3,425.40 143.6,427.24 152.9,429.09 162.3,430.93 171.6,432.73 180.9,434.50 190.2,436.23 199.6,437.85 208.9,439.35 218.2,440.76 227.6,441.99 236.9,443.08 246.2,444.11 255.5,445.04 264.9,445.86 274.2,446.55" fill="none" stroke="#d01c10" stroke-width="1.3"/>
<line x1="41.0" y1="413.65" x2="274.2" y2="446.14" stroke="#ff4040" stroke-width="0.9" stroke-dasharray="2.5 1.5"/>
</g>
<text class="ann" x="166.8" y="357.9" textLength="95.3" lengthAdjust="spacingAndGlyphs"><tspan font-style="italic">a</tspan><tspan class="s" dy="1.8">1</tspan><tspan dy="-1.8"> = −11 ± 4, </tspan><tspan font-style="italic">a</tspan><tspan class="s" dy="1.8">0</tspan><tspan dy="-1.8"> = 3 ± 4</tspan></text>
<rect x="41.00" y="346.60" width="233.20" height="138.25" fill="none" stroke="#000" stroke-width="0.8"/>
<path d="M41.00 484.85h-1.8M41.00 477.94h-1.8M41.00 471.03h-3.0M41.00 464.11h-1.8M41.00 457.20h-1.8M41.00 450.29h-1.8M41.00 443.38h-3.0M41.00 436.46h-1.8M41.00 429.55h-1.8M41.00 422.64h-1.8M41.00 415.73h-3.0M41.00 408.81h-1.8M41.00 401.90h-1.8M41.00 394.99h-1.8M41.00 388.08h-3.0M41.00 381.16h-1.8M41.00 374.25h-1.8M41.00 367.34h-1.8M41.00 360.43h-3.0M41.00 353.51h-1.8M41.00 346.60h-1.8M41.00 484.85v3.0M64.32 484.85v1.8M87.64 484.85v3.0M110.96 484.85v1.8M134.28 484.85v3.0M157.60 484.85v1.8M180.92 484.85v3.0M204.24 484.85v1.8M227.56 484.85v3.0M250.88 484.85v1.8M274.20 484.85v3.0" stroke="#000" stroke-width="0.7"/>
<text class="tl" x="33.6" y="364.43" text-anchor="end">40</text>
<text class="tl" x="33.6" y="392.08" text-anchor="end">20</text>
<text class="tl" x="33.6" y="419.73" text-anchor="end">0</text>
<text class="tl" x="33.6" y="447.38" text-anchor="end"><tspan font-size="10.5px">−</tspan><tspan dx="0.6">20</tspan></text>
<text class="tl" x="33.6" y="475.03" text-anchor="end"><tspan font-size="10.5px">−</tspan><tspan dx="0.6">40</tspan></text>
<text class="lab" x="10.7" y="415.73" font-size="11px" text-anchor="middle" transform="rotate(-90 10.7 415.73)"><tspan font-style="italic">v</tspan><tspan font-size="8.4px" font-style="italic" dy="2.2">rad,z'</tspan><tspan dy="-2.2" dx="0.8">[kms</tspan><tspan font-size="7.6px" dy="-3.6">−1</tspan><tspan dy="3.6">]</tspan></text>
<text class="lab" x="156.4" y="512.20" font-size="10.6px" text-anchor="middle">|<tspan font-style="italic">z'</tspan>| [kpc]</text>
<path d="M281.8 484.9 L281.8 484.9 L281.8 483.1 L281.8 483.1 L281.8 479.7 L281.8 479.7 L281.8 476.2 L283.0 476.2 L283.0 472.8 L286.7 472.8 L286.7 469.3 L291.2 469.3 L291.2 465.8 L296.4 465.8 L296.4 462.4 L300.9 462.4 L300.9 458.9 L305.1 458.9 L305.1 455.5 L309.4 455.5 L309.4 452.0 L313.7 452.0 L313.7 448.6 L318.1 448.6 L318.1 445.1 L322.5 445.1 L322.5 441.6 L326.3 441.6 L326.3 438.2 L329.6 438.2 L329.6 434.7 L333.2 434.7 L333.2 431.3 L335.9 431.3 L335.9 427.8 L338.4 427.8 L338.4 424.4 L339.8 424.4 L339.8 420.9 L339.7 420.9 L339.7 417.5 L338.9 417.5 L338.9 414.0 L335.5 414.0 L335.5 410.5 L332.2 410.5 L332.2 407.1 L328.8 407.1 L328.8 403.6 L324.5 403.6 L324.5 400.2 L320.1 400.2 L320.1 396.7 L315.9 396.7 L315.9 393.3 L311.7 393.3 L311.7 389.8 L307.4 389.8 L307.4 386.3 L303.5 386.3 L303.5 382.9 L300.0 382.9 L300.0 379.4 L296.5 379.4 L296.5 376.0 L292.3 376.0 L292.3 372.5 L288.5 372.5 L288.5 369.1 L285.5 369.1 L285.5 365.6 L283.2 365.6 L283.2 362.2 L282.1 362.2 L282.1 358.7 L281.8 358.7 L281.8 355.2 L281.8 355.2 L281.8 351.8 L281.8 351.8 L281.8 348.3 L281.8 348.3 L281.8 346.6 L281.8 346.6 Z" fill="#808080"/>
<line x1="281.8" x2="354.7" y1="471.03" y2="471.03" stroke="#b4b4b4" stroke-opacity="0.85" stroke-width="1"/>
<line x1="281.8" x2="354.7" y1="443.38" y2="443.38" stroke="#b4b4b4" stroke-opacity="0.85" stroke-width="1"/>
<line x1="281.8" x2="354.7" y1="388.08" y2="388.08" stroke="#b4b4b4" stroke-opacity="0.85" stroke-width="1"/>
<line x1="281.8" x2="354.7" y1="360.43" y2="360.43" stroke="#b4b4b4" stroke-opacity="0.85" stroke-width="1"/>
<path d="M281.8 476.2 L282.7 476.2 L282.7 472.8 L284.4 472.8 L284.4 469.3 L287.0 469.3 L287.0 465.8 L289.1 465.8 L289.1 462.4 L290.8 462.4 L290.8 458.9 L292.5 458.9 L292.5 455.5 L296.0 455.5 L296.0 452.0 L298.8 452.0 L298.8 448.6 L304.7 448.6 L304.7 445.1 L313.7 445.1 L313.7 441.6 L320.6 441.6 L320.6 438.2 L322.8 438.2 L322.8 434.7 L327.8 434.7 L327.8 431.3 L333.4 431.3 L333.4 427.8 L336.7 427.8 L336.7 424.4 L338.5 424.4 L338.5 420.9 L346.3 420.9 L346.3 417.5 L351.3 417.5 L351.3 414.0 L349.7 414.0 L349.7 410.5 L345.5 410.5 L345.5 407.1 L341.1 407.1 L341.1 403.6 L337.3 403.6 L337.3 400.2 L333.0 400.2 L333.0 396.7 L328.0 396.7 L328.0 393.3 L323.9 393.3 L323.9 389.8 L320.2 389.8 L320.2 386.3 L315.1 386.3 L315.1 382.9 L308.1 382.9 L308.1 379.4 L299.6 379.4 L299.6 376.0 L293.8 376.0 L293.8 372.5 L289.7 372.5 L289.7 369.1 L287.1 369.1 L287.1 365.6 L285.5 365.6 L285.5 362.2 L284.6 362.2 L284.6 358.7 L282.7 358.7 L282.7 355.2 L281.8 355.2" fill="none" stroke="#ff0000" stroke-width="1"/>
<line x1="281.8" x2="354.7" y1="415.73" y2="415.73" stroke="#000" stroke-width="0.9"/>
<line x1="281.8" x2="354.7" y1="422.80" y2="422.80" stroke="#000" stroke-width="1.6" stroke-dasharray="4.7 2.6"/>
<line x1="281.8" x2="354.7" y1="415.55" y2="415.55" stroke="#f00" stroke-width="1.6" stroke-dasharray="4.7 2.6"/>
<rect x="281.80" y="346.60" width="72.90" height="138.25" fill="none" stroke="#000" stroke-width="0.8"/>
<path d="M281.80 484.85h-1.8M281.80 477.94h-1.8M281.80 471.03h-3.0M281.80 464.11h-1.8M281.80 457.20h-1.8M281.80 450.29h-1.8M281.80 443.38h-3.0M281.80 436.46h-1.8M281.80 429.55h-1.8M281.80 422.64h-1.8M281.80 415.73h-3.0M281.80 408.81h-1.8M281.80 401.90h-1.8M281.80 394.99h-1.8M281.80 388.08h-3.0M281.80 381.16h-1.8M281.80 374.25h-1.8M281.80 367.34h-1.8M281.80 360.43h-3.0M281.80 353.51h-1.8M281.80 346.60h-1.8" stroke="#000" stroke-width="0.7"/>
<text x="345.6" y="348.8" font-size="9.3px" transform="rotate(90 345.6 348.8)" dx="0" dy="0">−5.12 ± 0.13</text>
<text x="335.8" y="350.0" font-size="9.3px" style="fill:#f00" transform="rotate(90 335.8 350.0)">0.13 ± 0.24</text>
<text class="tl" x="41.0" y="498.3" text-anchor="middle">0.0</text>
<text class="tl" x="87.6" y="498.3" text-anchor="middle">0.5</text>
<text class="tl" x="134.3" y="498.3" text-anchor="middle">1.0</text>
<text class="tl" x="180.9" y="498.3" text-anchor="middle">1.5</text>
<text class="tl" x="227.6" y="498.3" text-anchor="middle">2.0</text>
<text class="tl" x="274.2" y="498.3" text-anchor="middle">2.5</text>
</svg>
</body></html>
